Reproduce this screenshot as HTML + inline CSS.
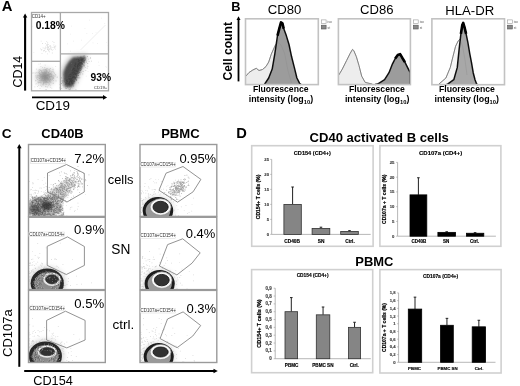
<!DOCTYPE html>
<html><head><meta charset="utf-8"><style>
html,body{margin:0;padding:0;background:#fff;}
svg{display:block;font-family:"Liberation Sans", sans-serif;will-change:transform;}
</style></head><body>
<svg width="520" height="386" viewBox="0 0 520 386">
<defs><filter id="b1" x="-50%" y="-50%" width="200%" height="200%"><feGaussianBlur stdDeviation="1.2"/></filter>
<filter id="b07" x="-50%" y="-50%" width="200%" height="200%"><feGaussianBlur stdDeviation="0.8"/></filter>
<filter id="b05" x="-50%" y="-50%" width="200%" height="200%"><feGaussianBlur stdDeviation="0.5"/></filter>
<filter id="b2" x="-50%" y="-50%" width="200%" height="200%"><feGaussianBlur stdDeviation="2.5"/></filter></defs>
<filter id="gb" x="0" y="0" width="100%" height="100%"><feGaussianBlur stdDeviation="0.4"/></filter>
<rect width="520" height="386" fill="#fff"/>
<g filter="url(#gb)"><rect width="520" height="386" fill="#fff"/>
<text x="1.72" y="10.70" font-size="14.78" font-weight="bold" fill="#000">A</text><clipPath id="ca"><rect x="31.5" y="12.5" width="77.0" height="78.3"/></clipPath><g clip-path="url(#ca)"><ellipse cx="45.5" cy="77" rx="10" ry="9" fill="#c4c4c4" opacity="0.8" filter="url(#b2)"/><ellipse cx="45.5" cy="76.8" rx="4.8" ry="4.4" fill="#7a7a7a" opacity="0.8" filter="url(#b2)"/></g><path fill="#777" fill-opacity="0.3" clip-path="url(#ca)" d="M45.5 76.2h.8v.8h-.8zM47.0 71.5h.8v.8h-.8zM44.1 77.6h.8v.8h-.8zM41.0 71.5h.8v.8h-.8zM43.2 82.3h.8v.8h-.8zM40.5 82.1h.8v.8h-.8zM45.8 82.2h.8v.8h-.8zM52.2 74.7h.8v.8h-.8zM43.0 79.5h.8v.8h-.8zM42.4 76.4h.8v.8h-.8zM47.9 75.1h.8v.8h-.8zM47.3 75.4h.8v.8h-.8zM46.0 70.8h.8v.8h-.8zM40.8 70.1h.8v.8h-.8zM45.4 80.8h.8v.8h-.8zM49.0 76.1h.8v.8h-.8zM38.8 78.0h.8v.8h-.8zM43.2 81.8h.8v.8h-.8zM36.0 68.7h.8v.8h-.8zM39.1 73.2h.8v.8h-.8zM36.3 77.8h.8v.8h-.8zM44.3 78.9h.8v.8h-.8zM39.2 75.2h.8v.8h-.8zM46.9 81.9h.8v.8h-.8zM46.3 78.0h.8v.8h-.8zM44.6 71.2h.8v.8h-.8zM32.9 72.5h.8v.8h-.8zM42.8 80.9h.8v.8h-.8zM45.3 79.2h.8v.8h-.8zM46.1 67.9h.8v.8h-.8zM37.8 83.5h.8v.8h-.8zM43.1 79.9h.8v.8h-.8zM40.6 83.4h.8v.8h-.8zM41.5 75.2h.8v.8h-.8zM50.8 75.6h.8v.8h-.8zM41.5 71.6h.8v.8h-.8zM45.3 89.2h.8v.8h-.8zM49.9 76.2h.8v.8h-.8zM42.6 84.6h.8v.8h-.8zM44.9 73.9h.8v.8h-.8zM46.1 77.8h.8v.8h-.8zM45.8 69.0h.8v.8h-.8zM39.4 75.2h.8v.8h-.8zM45.9 81.7h.8v.8h-.8zM52.3 71.0h.8v.8h-.8zM37.8 82.1h.8v.8h-.8zM49.8 78.6h.8v.8h-.8zM46.1 72.0h.8v.8h-.8zM42.3 74.6h.8v.8h-.8zM55.5 74.8h.8v.8h-.8zM49.3 76.8h.8v.8h-.8zM39.5 74.4h.8v.8h-.8zM45.9 73.0h.8v.8h-.8zM48.4 75.5h.8v.8h-.8zM44.6 72.1h.8v.8h-.8zM48.9 70.8h.8v.8h-.8zM45.2 76.8h.8v.8h-.8zM48.8 81.2h.8v.8h-.8zM52.7 69.7h.8v.8h-.8zM42.1 77.0h.8v.8h-.8zM46.5 73.9h.8v.8h-.8zM43.2 72.3h.8v.8h-.8zM46.1 81.1h.8v.8h-.8zM39.6 74.5h.8v.8h-.8zM42.6 84.2h.8v.8h-.8zM44.5 73.3h.8v.8h-.8zM50.0 78.9h.8v.8h-.8zM51.2 75.9h.8v.8h-.8zM38.9 73.4h.8v.8h-.8zM41.5 79.8h.8v.8h-.8zM48.7 76.3h.8v.8h-.8zM35.5 79.9h.8v.8h-.8zM43.2 76.8h.8v.8h-.8zM45.0 71.8h.8v.8h-.8zM51.8 76.5h.8v.8h-.8zM48.9 77.2h.8v.8h-.8zM43.9 81.6h.8v.8h-.8zM43.7 72.6h.8v.8h-.8zM44.2 76.8h.8v.8h-.8zM53.1 68.7h.8v.8h-.8zM43.4 80.1h.8v.8h-.8zM44.0 71.8h.8v.8h-.8zM47.3 68.3h.8v.8h-.8zM44.9 76.7h.8v.8h-.8zM44.5 82.3h.8v.8h-.8zM39.9 69.7h.8v.8h-.8zM45.4 71.8h.8v.8h-.8zM43.3 73.4h.8v.8h-.8zM51.3 71.6h.8v.8h-.8zM48.8 78.8h.8v.8h-.8zM45.4 73.1h.8v.8h-.8zM48.8 73.5h.8v.8h-.8zM43.8 79.8h.8v.8h-.8zM50.8 73.4h.8v.8h-.8zM45.5 79.1h.8v.8h-.8zM48.4 72.3h.8v.8h-.8zM39.0 71.2h.8v.8h-.8zM47.2 68.2h.8v.8h-.8zM37.1 85.9h.8v.8h-.8zM35.3 75.5h.8v.8h-.8zM44.0 78.2h.8v.8h-.8zM41.0 76.9h.8v.8h-.8zM46.3 77.8h.8v.8h-.8zM56.7 77.2h.8v.8h-.8zM41.3 86.2h.8v.8h-.8zM42.4 72.0h.8v.8h-.8zM46.5 69.5h.8v.8h-.8zM48.0 72.1h.8v.8h-.8zM44.6 70.6h.8v.8h-.8zM44.5 80.6h.8v.8h-.8zM49.0 80.9h.8v.8h-.8zM48.1 72.4h.8v.8h-.8zM40.3 70.3h.8v.8h-.8zM45.1 75.3h.8v.8h-.8zM45.7 83.7h.8v.8h-.8zM40.2 63.5h.8v.8h-.8zM46.8 79.5h.8v.8h-.8zM41.2 71.8h.8v.8h-.8zM50.4 82.0h.8v.8h-.8zM46.5 71.8h.8v.8h-.8zM45.9 75.6h.8v.8h-.8zM42.5 69.8h.8v.8h-.8zM44.9 72.3h.8v.8h-.8zM35.5 83.7h.8v.8h-.8zM39.8 80.9h.8v.8h-.8zM47.3 75.1h.8v.8h-.8zM34.9 72.8h.8v.8h-.8zM49.7 67.9h.8v.8h-.8zM36.8 75.1h.8v.8h-.8zM49.3 76.9h.8v.8h-.8zM41.3 76.6h.8v.8h-.8zM49.4 76.5h.8v.8h-.8zM46.2 71.6h.8v.8h-.8zM37.8 76.7h.8v.8h-.8zM51.7 76.8h.8v.8h-.8zM52.7 83.2h.8v.8h-.8zM45.2 86.0h.8v.8h-.8zM44.1 76.3h.8v.8h-.8zM44.7 73.3h.8v.8h-.8zM40.6 76.7h.8v.8h-.8zM51.0 74.1h.8v.8h-.8zM42.8 73.4h.8v.8h-.8zM45.2 76.7h.8v.8h-.8zM41.5 72.0h.8v.8h-.8zM42.4 79.9h.8v.8h-.8zM39.1 76.5h.8v.8h-.8zM51.8 78.2h.8v.8h-.8zM44.7 76.1h.8v.8h-.8zM50.3 73.5h.8v.8h-.8zM45.6 72.4h.8v.8h-.8zM42.0 75.9h.8v.8h-.8zM43.9 74.4h.8v.8h-.8zM42.7 78.1h.8v.8h-.8zM45.5 77.0h.8v.8h-.8zM43.6 70.5h.8v.8h-.8zM44.0 77.3h.8v.8h-.8zM38.6 70.6h.8v.8h-.8zM41.5 74.0h.8v.8h-.8zM53.8 75.6h.8v.8h-.8zM42.1 67.0h.8v.8h-.8zM40.2 77.4h.8v.8h-.8zM47.2 77.7h.8v.8h-.8zM52.5 76.2h.8v.8h-.8zM38.2 75.0h.8v.8h-.8zM44.5 75.2h.8v.8h-.8zM42.3 72.3h.8v.8h-.8zM36.7 75.7h.8v.8h-.8zM49.2 74.3h.8v.8h-.8zM45.4 77.4h.8v.8h-.8zM45.9 71.2h.8v.8h-.8zM41.7 78.1h.8v.8h-.8zM47.8 77.7h.8v.8h-.8zM42.8 76.3h.8v.8h-.8zM44.8 74.9h.8v.8h-.8zM40.0 79.7h.8v.8h-.8zM39.4 69.0h.8v.8h-.8zM52.2 79.2h.8v.8h-.8zM43.0 78.2h.8v.8h-.8zM47.0 78.4h.8v.8h-.8zM45.3 78.8h.8v.8h-.8zM43.3 73.9h.8v.8h-.8zM43.0 75.8h.8v.8h-.8zM48.7 80.1h.8v.8h-.8zM44.0 79.1h.8v.8h-.8zM44.7 78.0h.8v.8h-.8zM45.6 69.7h.8v.8h-.8zM51.4 79.6h.8v.8h-.8zM48.9 82.6h.8v.8h-.8zM47.4 81.8h.8v.8h-.8zM42.7 78.1h.8v.8h-.8zM38.6 69.5h.8v.8h-.8zM50.2 81.5h.8v.8h-.8zM50.3 76.3h.8v.8h-.8zM44.8 64.8h.8v.8h-.8zM48.2 78.8h.8v.8h-.8zM49.4 69.8h.8v.8h-.8zM49.7 70.8h.8v.8h-.8zM50.1 74.0h.8v.8h-.8zM43.2 83.1h.8v.8h-.8zM53.1 75.2h.8v.8h-.8zM39.3 78.3h.8v.8h-.8zM49.8 85.4h.8v.8h-.8zM48.0 84.7h.8v.8h-.8zM49.9 76.5h.8v.8h-.8zM54.9 75.8h.8v.8h-.8zM52.9 70.9h.8v.8h-.8zM39.8 73.7h.8v.8h-.8zM37.1 79.0h.8v.8h-.8zM49.6 78.9h.8v.8h-.8zM40.4 77.5h.8v.8h-.8zM45.4 81.8h.8v.8h-.8zM49.7 73.3h.8v.8h-.8zM37.3 76.7h.8v.8h-.8zM35.0 80.5h.8v.8h-.8zM46.8 79.8h.8v.8h-.8zM45.7 82.1h.8v.8h-.8zM44.3 78.9h.8v.8h-.8zM45.7 75.5h.8v.8h-.8zM41.2 78.7h.8v.8h-.8zM37.9 72.2h.8v.8h-.8zM44.7 69.1h.8v.8h-.8zM40.6 79.8h.8v.8h-.8zM37.3 76.7h.8v.8h-.8zM48.0 78.5h.8v.8h-.8zM45.2 68.9h.8v.8h-.8zM47.5 75.2h.8v.8h-.8zM40.6 74.1h.8v.8h-.8zM42.2 72.9h.8v.8h-.8zM40.5 66.2h.8v.8h-.8zM41.1 75.4h.8v.8h-.8zM46.5 81.3h.8v.8h-.8zM41.6 78.8h.8v.8h-.8zM47.3 74.1h.8v.8h-.8zM47.2 76.9h.8v.8h-.8zM55.6 80.6h.8v.8h-.8zM38.5 63.7h.8v.8h-.8zM49.9 76.4h.8v.8h-.8zM45.1 79.6h.8v.8h-.8zM45.4 80.3h.8v.8h-.8zM38.3 85.2h.8v.8h-.8zM43.2 82.4h.8v.8h-.8zM49.2 78.5h.8v.8h-.8zM45.1 78.4h.8v.8h-.8zM45.9 80.8h.8v.8h-.8zM44.0 74.4h.8v.8h-.8zM51.3 76.8h.8v.8h-.8zM45.4 81.3h.8v.8h-.8zM34.5 86.4h.8v.8h-.8zM42.0 76.2h.8v.8h-.8zM35.7 76.8h.8v.8h-.8zM29.2 78.0h.8v.8h-.8zM42.8 83.4h.8v.8h-.8zM52.2 76.9h.8v.8h-.8zM45.7 84.1h.8v.8h-.8zM39.6 72.4h.8v.8h-.8zM40.8 76.1h.8v.8h-.8zM51.2 76.0h.8v.8h-.8zM46.3 80.8h.8v.8h-.8zM45.7 82.0h.8v.8h-.8zM45.2 69.8h.8v.8h-.8zM45.7 72.6h.8v.8h-.8zM49.5 78.6h.8v.8h-.8zM48.3 73.8h.8v.8h-.8zM46.6 69.7h.8v.8h-.8zM40.3 82.0h.8v.8h-.8zM48.1 79.4h.8v.8h-.8zM42.1 79.4h.8v.8h-.8zM51.0 74.7h.8v.8h-.8zM39.1 81.9h.8v.8h-.8zM44.8 75.8h.8v.8h-.8zM45.5 82.3h.8v.8h-.8zM38.9 72.6h.8v.8h-.8zM54.1 72.9h.8v.8h-.8zM52.8 78.0h.8v.8h-.8zM43.2 73.6h.8v.8h-.8zM49.4 80.2h.8v.8h-.8zM47.4 78.2h.8v.8h-.8zM32.4 72.6h.8v.8h-.8zM46.8 77.3h.8v.8h-.8zM45.2 75.3h.8v.8h-.8zM45.9 81.4h.8v.8h-.8zM40.1 74.0h.8v.8h-.8zM44.2 74.9h.8v.8h-.8zM44.6 82.8h.8v.8h-.8zM51.4 87.7h.8v.8h-.8zM47.2 86.6h.8v.8h-.8zM45.5 77.3h.8v.8h-.8zM53.1 78.1h.8v.8h-.8zM42.7 84.4h.8v.8h-.8zM43.6 76.4h.8v.8h-.8zM36.4 72.3h.8v.8h-.8zM53.3 77.6h.8v.8h-.8zM50.3 79.2h.8v.8h-.8zM50.1 73.0h.8v.8h-.8zM48.8 69.1h.8v.8h-.8zM46.1 70.1h.8v.8h-.8zM46.6 80.2h.8v.8h-.8zM44.2 73.4h.8v.8h-.8zM44.5 76.3h.8v.8h-.8zM45.8 78.0h.8v.8h-.8zM53.1 80.0h.8v.8h-.8zM48.3 75.4h.8v.8h-.8zM45.2 79.4h.8v.8h-.8zM42.6 72.7h.8v.8h-.8zM42.3 75.3h.8v.8h-.8zM53.5 72.1h.8v.8h-.8zM48.0 82.4h.8v.8h-.8zM45.8 76.9h.8v.8h-.8zM43.8 73.5h.8v.8h-.8zM40.0 75.3h.8v.8h-.8zM45.2 75.9h.8v.8h-.8zM49.9 80.4h.8v.8h-.8zM43.5 69.3h.8v.8h-.8zM44.4 72.0h.8v.8h-.8zM44.4 75.2h.8v.8h-.8zM46.0 89.2h.8v.8h-.8zM37.5 81.6h.8v.8h-.8zM44.3 76.5h.8v.8h-.8zM41.2 80.4h.8v.8h-.8zM49.9 86.9h.8v.8h-.8zM41.6 75.9h.8v.8h-.8zM48.4 75.2h.8v.8h-.8zM53.1 82.8h.8v.8h-.8zM43.9 79.4h.8v.8h-.8zM42.5 80.2h.8v.8h-.8zM46.5 74.6h.8v.8h-.8zM45.5 86.2h.8v.8h-.8zM40.5 85.2h.8v.8h-.8zM47.8 79.7h.8v.8h-.8zM55.6 80.3h.8v.8h-.8zM44.2 67.3h.8v.8h-.8zM44.5 80.1h.8v.8h-.8zM40.3 76.1h.8v.8h-.8zM47.1 79.1h.8v.8h-.8zM39.3 80.3h.8v.8h-.8zM40.0 75.4h.8v.8h-.8zM51.9 68.9h.8v.8h-.8zM41.0 78.8h.8v.8h-.8zM50.9 73.4h.8v.8h-.8zM53.1 75.4h.8v.8h-.8zM46.8 74.1h.8v.8h-.8zM48.3 75.4h.8v.8h-.8zM55.3 65.9h.8v.8h-.8zM44.5 82.8h.8v.8h-.8zM42.5 78.2h.8v.8h-.8zM38.7 82.3h.8v.8h-.8zM45.7 86.5h.8v.8h-.8zM52.9 77.1h.8v.8h-.8zM50.3 68.3h.8v.8h-.8zM40.8 72.7h.8v.8h-.8zM41.2 71.2h.8v.8h-.8zM43.0 74.6h.8v.8h-.8zM47.0 77.4h.8v.8h-.8zM44.5 67.4h.8v.8h-.8zM46.6 78.6h.8v.8h-.8zM47.0 69.8h.8v.8h-.8zM44.0 78.4h.8v.8h-.8zM45.3 76.5h.8v.8h-.8zM46.5 75.5h.8v.8h-.8zM45.1 76.6h.8v.8h-.8zM48.0 74.4h.8v.8h-.8zM54.9 74.1h.8v.8h-.8zM48.5 68.9h.8v.8h-.8zM45.8 76.9h.8v.8h-.8zM37.1 85.9h.8v.8h-.8zM47.4 86.5h.8v.8h-.8zM35.8 83.3h.8v.8h-.8zM38.5 80.4h.8v.8h-.8zM49.8 73.8h.8v.8h-.8zM49.0 83.9h.8v.8h-.8zM44.8 76.7h.8v.8h-.8zM36.9 76.7h.8v.8h-.8zM43.6 75.6h.8v.8h-.8zM42.1 77.4h.8v.8h-.8zM48.7 74.9h.8v.8h-.8zM56.8 76.6h.8v.8h-.8zM46.6 71.8h.8v.8h-.8zM41.6 75.2h.8v.8h-.8zM39.6 87.9h.8v.8h-.8zM45.2 76.7h.8v.8h-.8z"/><g clip-path="url(#ca)"><polygon points="72,55.5 87.5,54.5 85.5,62 81.5,71 78,79 75,85 72.5,89.5 64.5,89.5 61.8,80 61.8,71 64.5,64.5 68,59.5" fill="#9a9a9a" opacity="0.7" filter="url(#b2)"/><polygon points="73,57.6 85.8,56.4 83.6,62.5 80,70 76.8,77 74.3,83 71.8,86.8 66,86.8 63.6,80.5 63.5,72.5 66,66.2 69,61.5" fill="#4e4e4e" filter="url(#b1)"/></g><path fill="#555" fill-opacity="0.35" clip-path="url(#ca)" d="M63.2 81.8h.8v.8h-.8zM70.7 71.7h.8v.8h-.8zM68.5 70.5h.8v.8h-.8zM75.6 60.0h.8v.8h-.8zM61.9 81.6h.8v.8h-.8zM77.6 66.8h.8v.8h-.8zM74.6 72.2h.8v.8h-.8zM74.8 79.2h.8v.8h-.8zM75.7 60.0h.8v.8h-.8zM74.2 67.1h.8v.8h-.8zM70.8 82.1h.8v.8h-.8zM79.2 62.6h.8v.8h-.8zM66.0 85.6h.8v.8h-.8zM73.1 81.2h.8v.8h-.8zM69.6 75.2h.8v.8h-.8zM76.3 62.8h.8v.8h-.8zM61.3 87.9h.8v.8h-.8zM81.4 58.8h.8v.8h-.8zM76.4 66.5h.8v.8h-.8zM61.6 82.8h.8v.8h-.8zM71.1 69.1h.8v.8h-.8zM74.8 70.0h.8v.8h-.8zM76.6 70.3h.8v.8h-.8zM75.0 62.8h.8v.8h-.8zM78.6 64.6h.8v.8h-.8zM83.5 59.9h.8v.8h-.8zM61.6 80.2h.8v.8h-.8zM77.4 63.1h.8v.8h-.8zM73.6 75.7h.8v.8h-.8zM76.0 65.7h.8v.8h-.8zM72.1 60.4h.8v.8h-.8zM80.4 58.3h.8v.8h-.8zM72.5 76.9h.8v.8h-.8zM78.4 76.8h.8v.8h-.8zM72.7 60.9h.8v.8h-.8zM90.0 57.3h.8v.8h-.8zM67.4 75.6h.8v.8h-.8zM84.0 61.1h.8v.8h-.8zM76.4 75.6h.8v.8h-.8zM75.0 79.2h.8v.8h-.8zM78.1 67.6h.8v.8h-.8zM68.9 71.7h.8v.8h-.8zM74.9 73.3h.8v.8h-.8zM69.1 72.6h.8v.8h-.8zM63.3 74.4h.8v.8h-.8zM77.9 82.4h.8v.8h-.8zM69.0 89.7h.8v.8h-.8zM84.1 65.1h.8v.8h-.8zM71.3 66.0h.8v.8h-.8zM81.5 65.8h.8v.8h-.8zM84.1 63.8h.8v.8h-.8zM74.8 77.0h.8v.8h-.8zM69.2 77.7h.8v.8h-.8zM65.6 77.5h.8v.8h-.8zM69.7 78.2h.8v.8h-.8zM69.7 64.4h.8v.8h-.8zM65.4 73.7h.8v.8h-.8zM71.0 78.5h.8v.8h-.8zM72.1 67.1h.8v.8h-.8zM67.9 79.8h.8v.8h-.8zM66.8 80.3h.8v.8h-.8zM83.6 64.9h.8v.8h-.8zM82.3 66.1h.8v.8h-.8zM70.1 74.5h.8v.8h-.8zM80.0 68.0h.8v.8h-.8zM63.2 86.5h.8v.8h-.8zM70.8 73.9h.8v.8h-.8zM78.0 70.3h.8v.8h-.8zM65.1 76.7h.8v.8h-.8zM70.1 78.9h.8v.8h-.8zM70.5 71.1h.8v.8h-.8zM75.4 70.0h.8v.8h-.8zM73.8 78.2h.8v.8h-.8zM74.1 64.1h.8v.8h-.8zM67.6 85.7h.8v.8h-.8zM77.8 62.3h.8v.8h-.8zM64.6 80.9h.8v.8h-.8zM65.1 81.4h.8v.8h-.8zM73.9 79.2h.8v.8h-.8zM89.9 57.9h.8v.8h-.8zM71.8 78.0h.8v.8h-.8zM72.6 69.9h.8v.8h-.8zM83.9 55.2h.8v.8h-.8zM79.5 61.3h.8v.8h-.8zM69.1 87.5h.8v.8h-.8zM74.9 69.1h.8v.8h-.8zM76.1 66.5h.8v.8h-.8zM78.9 67.0h.8v.8h-.8zM68.8 75.3h.8v.8h-.8zM69.3 72.1h.8v.8h-.8zM59.4 87.5h.8v.8h-.8zM64.5 85.3h.8v.8h-.8zM69.2 69.6h.8v.8h-.8zM66.2 88.1h.8v.8h-.8zM65.3 80.6h.8v.8h-.8zM71.2 75.2h.8v.8h-.8zM68.3 84.2h.8v.8h-.8zM60.9 83.1h.8v.8h-.8zM77.4 58.5h.8v.8h-.8zM69.1 74.6h.8v.8h-.8zM71.5 79.2h.8v.8h-.8zM83.0 65.3h.8v.8h-.8zM68.7 89.1h.8v.8h-.8zM68.2 80.9h.8v.8h-.8zM86.1 60.7h.8v.8h-.8zM74.4 61.9h.8v.8h-.8zM81.1 69.2h.8v.8h-.8zM64.6 86.3h.8v.8h-.8zM60.6 77.1h.8v.8h-.8zM75.5 88.9h.8v.8h-.8zM74.7 78.0h.8v.8h-.8zM62.2 84.8h.8v.8h-.8zM68.1 79.7h.8v.8h-.8zM74.9 67.6h.8v.8h-.8zM67.5 84.2h.8v.8h-.8zM62.7 84.5h.8v.8h-.8zM77.5 59.4h.8v.8h-.8zM72.6 76.6h.8v.8h-.8zM71.6 76.0h.8v.8h-.8zM71.2 82.1h.8v.8h-.8zM78.5 61.3h.8v.8h-.8zM84.8 67.2h.8v.8h-.8zM71.7 67.2h.8v.8h-.8zM76.3 68.9h.8v.8h-.8zM60.2 83.2h.8v.8h-.8zM65.2 77.4h.8v.8h-.8zM79.6 67.6h.8v.8h-.8zM77.3 56.6h.8v.8h-.8zM80.5 66.9h.8v.8h-.8zM75.5 65.4h.8v.8h-.8zM70.0 74.6h.8v.8h-.8zM64.5 86.8h.8v.8h-.8zM77.9 60.3h.8v.8h-.8zM64.8 81.8h.8v.8h-.8zM70.3 84.5h.8v.8h-.8zM78.9 70.1h.8v.8h-.8zM76.4 61.4h.8v.8h-.8zM74.8 63.4h.8v.8h-.8zM73.8 75.4h.8v.8h-.8zM68.0 81.7h.8v.8h-.8zM69.8 89.0h.8v.8h-.8zM88.7 61.0h.8v.8h-.8zM84.2 59.7h.8v.8h-.8zM69.3 76.7h.8v.8h-.8zM78.7 65.9h.8v.8h-.8zM68.9 73.3h.8v.8h-.8zM67.2 72.9h.8v.8h-.8zM70.0 71.6h.8v.8h-.8zM64.2 85.5h.8v.8h-.8zM71.0 77.4h.8v.8h-.8zM71.4 79.7h.8v.8h-.8zM75.5 66.0h.8v.8h-.8zM72.8 73.1h.8v.8h-.8zM75.0 64.8h.8v.8h-.8zM85.8 60.8h.8v.8h-.8zM72.4 79.2h.8v.8h-.8zM76.4 79.2h.8v.8h-.8zM83.4 59.1h.8v.8h-.8zM78.9 72.0h.8v.8h-.8zM66.1 83.4h.8v.8h-.8zM68.8 82.9h.8v.8h-.8zM91.1 60.7h.8v.8h-.8zM70.4 67.0h.8v.8h-.8zM70.6 86.8h.8v.8h-.8zM79.8 73.6h.8v.8h-.8zM75.1 71.7h.8v.8h-.8zM75.2 72.3h.8v.8h-.8zM85.3 58.9h.8v.8h-.8zM78.3 60.4h.8v.8h-.8zM69.0 84.0h.8v.8h-.8zM64.7 82.3h.8v.8h-.8zM69.5 76.6h.8v.8h-.8zM76.6 61.5h.8v.8h-.8zM75.0 69.0h.8v.8h-.8zM77.7 62.4h.8v.8h-.8zM76.4 71.4h.8v.8h-.8zM63.6 80.4h.8v.8h-.8zM85.9 62.3h.8v.8h-.8zM70.0 87.9h.8v.8h-.8zM79.4 67.8h.8v.8h-.8zM67.3 74.9h.8v.8h-.8zM72.7 72.9h.8v.8h-.8zM83.1 55.8h.8v.8h-.8zM75.6 73.0h.8v.8h-.8zM60.2 89.4h.8v.8h-.8zM75.1 73.0h.8v.8h-.8zM86.8 67.7h.8v.8h-.8zM59.6 83.9h.8v.8h-.8zM73.2 79.6h.8v.8h-.8zM67.2 86.8h.8v.8h-.8zM73.7 73.5h.8v.8h-.8zM76.7 73.3h.8v.8h-.8zM69.2 75.0h.8v.8h-.8zM70.8 75.9h.8v.8h-.8zM81.4 68.2h.8v.8h-.8zM67.5 83.5h.8v.8h-.8zM78.5 62.0h.8v.8h-.8zM81.3 57.2h.8v.8h-.8zM71.7 70.8h.8v.8h-.8zM78.7 72.0h.8v.8h-.8zM75.9 61.8h.8v.8h-.8zM73.4 80.2h.8v.8h-.8zM73.7 60.9h.8v.8h-.8zM72.6 78.9h.8v.8h-.8zM76.6 67.1h.8v.8h-.8zM61.3 77.8h.8v.8h-.8zM75.1 70.1h.8v.8h-.8zM76.4 63.1h.8v.8h-.8zM64.7 85.5h.8v.8h-.8zM84.1 65.1h.8v.8h-.8zM70.0 72.0h.8v.8h-.8zM67.6 79.0h.8v.8h-.8zM76.4 72.4h.8v.8h-.8zM67.0 86.6h.8v.8h-.8zM75.3 78.2h.8v.8h-.8zM76.7 68.0h.8v.8h-.8zM63.8 81.3h.8v.8h-.8zM76.0 63.5h.8v.8h-.8zM85.4 58.3h.8v.8h-.8zM84.7 57.2h.8v.8h-.8zM79.7 62.1h.8v.8h-.8zM78.6 60.5h.8v.8h-.8zM67.9 83.9h.8v.8h-.8zM78.9 59.4h.8v.8h-.8zM75.9 79.8h.8v.8h-.8zM79.4 60.2h.8v.8h-.8zM75.4 59.8h.8v.8h-.8zM73.7 66.3h.8v.8h-.8zM76.5 70.3h.8v.8h-.8zM71.1 80.4h.8v.8h-.8zM73.3 71.1h.8v.8h-.8zM67.7 75.0h.8v.8h-.8zM67.6 81.9h.8v.8h-.8zM61.4 80.6h.8v.8h-.8zM73.5 63.9h.8v.8h-.8zM83.2 63.9h.8v.8h-.8zM66.0 83.3h.8v.8h-.8zM67.1 85.0h.8v.8h-.8zM74.2 75.4h.8v.8h-.8zM70.1 79.4h.8v.8h-.8zM68.6 77.3h.8v.8h-.8zM82.7 71.1h.8v.8h-.8zM74.7 72.6h.8v.8h-.8zM71.1 74.1h.8v.8h-.8zM71.5 79.0h.8v.8h-.8zM77.6 67.6h.8v.8h-.8zM67.0 80.7h.8v.8h-.8zM72.2 73.5h.8v.8h-.8zM72.3 72.3h.8v.8h-.8zM72.7 59.1h.8v.8h-.8zM68.8 80.9h.8v.8h-.8zM76.0 63.8h.8v.8h-.8zM68.8 75.1h.8v.8h-.8zM73.7 58.2h.8v.8h-.8zM70.5 72.1h.8v.8h-.8zM73.4 72.8h.8v.8h-.8zM79.9 66.6h.8v.8h-.8zM72.1 65.2h.8v.8h-.8zM69.4 85.3h.8v.8h-.8zM63.2 82.7h.8v.8h-.8zM80.5 56.1h.8v.8h-.8zM70.8 84.6h.8v.8h-.8zM67.8 77.1h.8v.8h-.8zM79.0 57.8h.8v.8h-.8zM69.7 89.4h.8v.8h-.8zM66.7 77.7h.8v.8h-.8zM67.8 80.8h.8v.8h-.8zM67.7 84.2h.8v.8h-.8zM76.9 71.6h.8v.8h-.8zM66.8 69.7h.8v.8h-.8zM67.5 78.8h.8v.8h-.8zM63.5 83.3h.8v.8h-.8zM74.5 64.1h.8v.8h-.8zM75.2 64.9h.8v.8h-.8zM71.4 66.2h.8v.8h-.8zM68.8 85.1h.8v.8h-.8zM70.9 75.4h.8v.8h-.8zM76.0 70.3h.8v.8h-.8zM73.8 76.0h.8v.8h-.8zM76.6 59.0h.8v.8h-.8zM72.2 74.8h.8v.8h-.8zM79.7 70.1h.8v.8h-.8zM68.5 81.6h.8v.8h-.8zM72.2 72.2h.8v.8h-.8zM77.5 62.9h.8v.8h-.8zM73.8 65.3h.8v.8h-.8zM70.6 75.0h.8v.8h-.8zM84.5 57.9h.8v.8h-.8zM74.0 66.0h.8v.8h-.8zM71.5 72.7h.8v.8h-.8zM76.2 72.9h.8v.8h-.8zM76.1 68.0h.8v.8h-.8zM69.0 78.7h.8v.8h-.8zM72.0 66.0h.8v.8h-.8zM74.0 64.3h.8v.8h-.8zM71.9 73.9h.8v.8h-.8zM87.3 65.8h.8v.8h-.8zM71.5 73.5h.8v.8h-.8zM71.0 71.5h.8v.8h-.8zM68.0 77.2h.8v.8h-.8zM79.6 62.4h.8v.8h-.8zM72.9 75.3h.8v.8h-.8zM77.3 69.4h.8v.8h-.8zM79.5 77.4h.8v.8h-.8zM81.2 59.9h.8v.8h-.8zM85.9 60.7h.8v.8h-.8zM67.0 86.7h.8v.8h-.8zM83.6 61.3h.8v.8h-.8zM70.0 67.0h.8v.8h-.8zM66.2 86.3h.8v.8h-.8zM73.2 71.3h.8v.8h-.8zM65.4 83.1h.8v.8h-.8zM66.5 70.8h.8v.8h-.8zM71.6 80.4h.8v.8h-.8zM70.0 73.7h.8v.8h-.8zM68.8 74.3h.8v.8h-.8zM74.2 67.3h.8v.8h-.8zM77.8 65.9h.8v.8h-.8zM82.0 63.7h.8v.8h-.8zM66.2 78.1h.8v.8h-.8zM71.3 72.4h.8v.8h-.8zM66.6 84.8h.8v.8h-.8zM72.0 75.4h.8v.8h-.8zM79.5 59.7h.8v.8h-.8zM65.3 80.5h.8v.8h-.8zM76.4 59.7h.8v.8h-.8zM75.7 67.9h.8v.8h-.8zM74.5 77.1h.8v.8h-.8zM74.1 62.1h.8v.8h-.8zM75.6 78.7h.8v.8h-.8zM82.9 60.4h.8v.8h-.8zM65.2 85.7h.8v.8h-.8zM70.2 82.7h.8v.8h-.8zM72.2 64.4h.8v.8h-.8zM66.5 73.7h.8v.8h-.8zM63.2 81.5h.8v.8h-.8zM72.2 70.3h.8v.8h-.8zM69.1 76.9h.8v.8h-.8zM72.4 72.1h.8v.8h-.8zM77.8 66.5h.8v.8h-.8zM71.5 64.6h.8v.8h-.8zM68.2 81.0h.8v.8h-.8zM69.9 68.6h.8v.8h-.8zM78.9 57.6h.8v.8h-.8zM71.4 73.5h.8v.8h-.8zM73.7 63.5h.8v.8h-.8zM62.1 82.3h.8v.8h-.8zM75.9 63.1h.8v.8h-.8zM74.8 70.1h.8v.8h-.8zM81.8 58.8h.8v.8h-.8zM80.1 66.6h.8v.8h-.8zM75.8 63.7h.8v.8h-.8zM63.6 83.2h.8v.8h-.8zM73.6 67.6h.8v.8h-.8zM70.3 79.0h.8v.8h-.8zM62.4 80.8h.8v.8h-.8zM75.2 76.5h.8v.8h-.8zM73.2 67.8h.8v.8h-.8zM72.7 67.7h.8v.8h-.8zM81.6 58.4h.8v.8h-.8zM69.4 86.0h.8v.8h-.8zM69.8 80.9h.8v.8h-.8zM75.1 75.9h.8v.8h-.8zM79.1 62.0h.8v.8h-.8zM78.7 63.3h.8v.8h-.8zM78.2 71.8h.8v.8h-.8zM77.3 60.9h.8v.8h-.8zM81.2 68.1h.8v.8h-.8zM70.7 80.1h.8v.8h-.8zM67.2 84.1h.8v.8h-.8zM69.6 72.3h.8v.8h-.8zM78.5 61.0h.8v.8h-.8zM77.9 69.0h.8v.8h-.8zM61.6 83.4h.8v.8h-.8zM74.9 72.5h.8v.8h-.8zM72.9 73.4h.8v.8h-.8zM75.8 72.1h.8v.8h-.8zM67.0 69.5h.8v.8h-.8zM80.3 61.3h.8v.8h-.8zM73.2 76.0h.8v.8h-.8zM69.3 74.7h.8v.8h-.8zM75.6 68.5h.8v.8h-.8zM71.1 62.1h.8v.8h-.8zM79.2 67.9h.8v.8h-.8zM70.6 73.3h.8v.8h-.8zM81.7 61.8h.8v.8h-.8zM66.6 70.9h.8v.8h-.8zM83.4 62.3h.8v.8h-.8zM69.2 77.5h.8v.8h-.8zM70.4 81.9h.8v.8h-.8zM75.5 65.7h.8v.8h-.8zM68.0 79.9h.8v.8h-.8zM87.1 63.3h.8v.8h-.8zM72.3 68.1h.8v.8h-.8zM71.1 76.5h.8v.8h-.8zM65.9 84.3h.8v.8h-.8zM74.4 65.1h.8v.8h-.8zM70.8 83.8h.8v.8h-.8zM87.2 56.1h.8v.8h-.8zM77.0 58.8h.8v.8h-.8zM64.1 78.3h.8v.8h-.8zM71.8 83.2h.8v.8h-.8zM83.7 60.7h.8v.8h-.8zM76.1 70.2h.8v.8h-.8zM71.7 79.6h.8v.8h-.8zM70.4 71.4h.8v.8h-.8zM68.8 76.2h.8v.8h-.8zM67.0 76.4h.8v.8h-.8zM70.6 70.4h.8v.8h-.8zM83.7 66.0h.8v.8h-.8zM75.9 65.3h.8v.8h-.8zM76.3 80.3h.8v.8h-.8zM73.4 70.9h.8v.8h-.8zM71.1 65.3h.8v.8h-.8zM84.2 57.1h.8v.8h-.8zM73.4 83.2h.8v.8h-.8zM75.4 73.6h.8v.8h-.8zM75.7 61.6h.8v.8h-.8zM73.2 76.0h.8v.8h-.8zM74.6 79.1h.8v.8h-.8zM72.6 71.8h.8v.8h-.8zM67.8 79.9h.8v.8h-.8zM84.0 57.9h.8v.8h-.8zM67.4 82.7h.8v.8h-.8zM64.8 77.4h.8v.8h-.8zM65.5 86.9h.8v.8h-.8zM74.2 68.7h.8v.8h-.8zM71.3 79.3h.8v.8h-.8zM80.3 58.4h.8v.8h-.8zM83.9 61.3h.8v.8h-.8zM83.0 59.3h.8v.8h-.8zM64.0 79.0h.8v.8h-.8zM67.0 85.6h.8v.8h-.8zM74.9 76.2h.8v.8h-.8zM82.5 58.3h.8v.8h-.8zM81.4 66.3h.8v.8h-.8zM64.5 84.8h.8v.8h-.8zM73.3 65.7h.8v.8h-.8zM83.5 60.1h.8v.8h-.8zM77.1 58.0h.8v.8h-.8zM69.2 67.6h.8v.8h-.8zM83.0 61.3h.8v.8h-.8zM76.4 63.0h.8v.8h-.8zM70.1 75.2h.8v.8h-.8zM62.1 80.3h.8v.8h-.8zM72.4 67.4h.8v.8h-.8zM63.5 80.1h.8v.8h-.8zM70.3 76.6h.8v.8h-.8zM82.8 59.0h.8v.8h-.8zM66.2 67.0h.8v.8h-.8zM76.6 69.5h.8v.8h-.8zM76.4 58.4h.8v.8h-.8zM66.2 76.4h.8v.8h-.8zM83.9 55.7h.8v.8h-.8zM79.8 61.9h.8v.8h-.8zM65.8 75.3h.8v.8h-.8zM77.4 77.6h.8v.8h-.8zM64.4 81.6h.8v.8h-.8zM81.0 61.0h.8v.8h-.8zM69.2 79.3h.8v.8h-.8zM70.7 85.7h.8v.8h-.8zM78.1 62.2h.8v.8h-.8zM78.7 69.3h.8v.8h-.8zM73.6 66.3h.8v.8h-.8zM81.3 63.3h.8v.8h-.8zM63.4 85.1h.8v.8h-.8zM65.7 84.1h.8v.8h-.8zM80.3 71.5h.8v.8h-.8zM67.4 83.1h.8v.8h-.8zM74.0 73.0h.8v.8h-.8zM85.4 70.3h.8v.8h-.8zM77.3 67.0h.8v.8h-.8zM72.4 69.4h.8v.8h-.8zM68.9 85.5h.8v.8h-.8zM65.0 74.2h.8v.8h-.8zM83.9 61.1h.8v.8h-.8zM71.8 81.1h.8v.8h-.8zM72.0 73.8h.8v.8h-.8zM64.0 84.1h.8v.8h-.8zM81.2 58.1h.8v.8h-.8zM68.3 80.8h.8v.8h-.8zM68.5 74.9h.8v.8h-.8zM76.3 69.6h.8v.8h-.8zM69.6 65.8h.8v.8h-.8zM78.9 57.0h.8v.8h-.8zM75.8 64.9h.8v.8h-.8zM70.1 77.8h.8v.8h-.8zM67.8 87.8h.8v.8h-.8zM72.4 67.6h.8v.8h-.8zM83.2 59.3h.8v.8h-.8zM65.1 87.9h.8v.8h-.8zM75.6 66.3h.8v.8h-.8zM63.4 84.4h.8v.8h-.8zM68.6 75.3h.8v.8h-.8zM75.2 71.1h.8v.8h-.8zM71.9 69.3h.8v.8h-.8zM81.6 58.7h.8v.8h-.8zM80.3 67.4h.8v.8h-.8zM75.5 75.4h.8v.8h-.8zM82.6 64.4h.8v.8h-.8zM71.9 68.7h.8v.8h-.8zM68.2 73.1h.8v.8h-.8zM75.0 71.7h.8v.8h-.8zM74.5 72.3h.8v.8h-.8zM74.0 78.1h.8v.8h-.8zM69.4 75.9h.8v.8h-.8zM72.2 83.2h.8v.8h-.8zM75.6 75.4h.8v.8h-.8zM72.8 78.0h.8v.8h-.8zM80.7 65.9h.8v.8h-.8zM80.5 66.0h.8v.8h-.8zM71.8 74.0h.8v.8h-.8zM76.2 70.7h.8v.8h-.8zM83.5 61.6h.8v.8h-.8zM69.4 76.8h.8v.8h-.8zM80.6 72.3h.8v.8h-.8zM72.2 72.1h.8v.8h-.8zM79.5 66.6h.8v.8h-.8zM80.5 57.5h.8v.8h-.8zM66.8 80.6h.8v.8h-.8zM88.3 58.8h.8v.8h-.8zM75.0 64.5h.8v.8h-.8zM73.6 61.6h.8v.8h-.8zM73.1 69.4h.8v.8h-.8zM78.3 61.5h.8v.8h-.8zM78.5 77.6h.8v.8h-.8zM77.6 62.4h.8v.8h-.8zM73.1 77.0h.8v.8h-.8zM70.0 70.6h.8v.8h-.8zM77.7 67.0h.8v.8h-.8zM71.1 79.2h.8v.8h-.8zM73.0 86.2h.8v.8h-.8zM75.6 63.7h.8v.8h-.8zM80.6 63.4h.8v.8h-.8zM77.2 67.4h.8v.8h-.8zM67.0 78.4h.8v.8h-.8zM76.0 66.6h.8v.8h-.8zM65.9 85.9h.8v.8h-.8zM67.7 68.4h.8v.8h-.8zM76.9 70.2h.8v.8h-.8zM77.3 68.8h.8v.8h-.8zM71.1 74.5h.8v.8h-.8zM64.3 81.7h.8v.8h-.8zM82.4 67.6h.8v.8h-.8zM73.9 73.8h.8v.8h-.8zM81.1 66.9h.8v.8h-.8zM76.4 76.0h.8v.8h-.8zM65.0 86.0h.8v.8h-.8zM77.1 70.8h.8v.8h-.8zM74.6 64.4h.8v.8h-.8zM80.0 62.9h.8v.8h-.8zM79.4 61.4h.8v.8h-.8zM66.4 82.1h.8v.8h-.8zM81.9 64.0h.8v.8h-.8zM70.1 76.9h.8v.8h-.8zM76.1 70.7h.8v.8h-.8zM70.6 76.4h.8v.8h-.8zM71.9 73.8h.8v.8h-.8zM70.1 73.4h.8v.8h-.8zM72.2 70.3h.8v.8h-.8zM76.4 70.4h.8v.8h-.8zM73.7 66.0h.8v.8h-.8zM75.9 62.5h.8v.8h-.8zM69.4 75.4h.8v.8h-.8zM83.6 66.3h.8v.8h-.8zM75.8 75.5h.8v.8h-.8zM76.8 64.7h.8v.8h-.8zM72.7 74.0h.8v.8h-.8zM82.4 73.6h.8v.8h-.8zM66.9 81.7h.8v.8h-.8zM73.2 74.4h.8v.8h-.8zM70.1 78.7h.8v.8h-.8zM72.8 79.9h.8v.8h-.8zM71.8 84.8h.8v.8h-.8zM75.9 67.2h.8v.8h-.8zM87.4 63.2h.8v.8h-.8zM68.0 77.1h.8v.8h-.8zM69.7 81.9h.8v.8h-.8zM71.8 70.1h.8v.8h-.8zM74.1 81.4h.8v.8h-.8zM78.6 57.5h.8v.8h-.8zM67.2 86.6h.8v.8h-.8zM74.6 75.2h.8v.8h-.8zM77.9 70.9h.8v.8h-.8zM63.4 83.4h.8v.8h-.8zM69.4 74.0h.8v.8h-.8zM64.9 75.6h.8v.8h-.8zM77.4 65.0h.8v.8h-.8zM80.9 57.3h.8v.8h-.8zM70.0 76.0h.8v.8h-.8zM75.7 66.1h.8v.8h-.8zM66.4 81.1h.8v.8h-.8zM72.1 70.7h.8v.8h-.8zM74.3 75.1h.8v.8h-.8zM75.6 75.8h.8v.8h-.8zM71.7 63.4h.8v.8h-.8zM77.0 63.2h.8v.8h-.8zM66.1 84.4h.8v.8h-.8zM72.0 78.7h.8v.8h-.8zM75.2 63.1h.8v.8h-.8z"/><path fill="#222" fill-opacity="0.35" clip-path="url(#ca)" d="M74.7 62.6h.9v.9h-.9zM75.5 66.5h.9v.9h-.9zM79.5 60.0h.9v.9h-.9zM65.9 80.9h.9v.9h-.9zM72.9 75.5h.9v.9h-.9zM78.0 59.5h.9v.9h-.9zM77.8 72.9h.9v.9h-.9zM78.7 60.3h.9v.9h-.9zM70.1 79.6h.9v.9h-.9zM72.4 82.7h.9v.9h-.9zM80.3 61.0h.9v.9h-.9zM69.9 73.8h.9v.9h-.9zM72.6 73.3h.9v.9h-.9zM81.2 58.4h.9v.9h-.9zM68.9 78.6h.9v.9h-.9zM78.4 60.2h.9v.9h-.9zM74.9 73.0h.9v.9h-.9zM71.9 76.4h.9v.9h-.9zM69.7 80.3h.9v.9h-.9zM75.8 70.7h.9v.9h-.9zM75.8 74.4h.9v.9h-.9zM75.5 62.4h.9v.9h-.9zM67.6 82.8h.9v.9h-.9zM67.8 83.4h.9v.9h-.9zM74.2 80.8h.9v.9h-.9zM72.2 70.0h.9v.9h-.9zM77.0 64.9h.9v.9h-.9zM72.0 72.1h.9v.9h-.9zM78.1 68.8h.9v.9h-.9zM79.5 69.3h.9v.9h-.9zM65.2 84.3h.9v.9h-.9zM75.2 76.8h.9v.9h-.9zM82.7 58.4h.9v.9h-.9zM70.4 76.1h.9v.9h-.9zM84.1 59.7h.9v.9h-.9zM73.0 71.3h.9v.9h-.9zM74.3 77.5h.9v.9h-.9zM65.2 83.7h.9v.9h-.9zM71.2 79.0h.9v.9h-.9zM72.9 77.0h.9v.9h-.9zM77.8 73.0h.9v.9h-.9zM77.4 74.9h.9v.9h-.9zM76.0 70.2h.9v.9h-.9zM70.7 75.3h.9v.9h-.9zM68.8 84.2h.9v.9h-.9zM71.1 77.8h.9v.9h-.9zM85.0 59.5h.9v.9h-.9zM71.0 80.5h.9v.9h-.9zM77.0 65.5h.9v.9h-.9zM73.5 72.3h.9v.9h-.9zM79.9 68.2h.9v.9h-.9zM69.4 74.3h.9v.9h-.9zM76.3 76.7h.9v.9h-.9zM76.7 70.8h.9v.9h-.9zM79.3 62.0h.9v.9h-.9zM74.8 73.3h.9v.9h-.9zM69.1 82.0h.9v.9h-.9zM66.2 82.7h.9v.9h-.9zM78.8 62.6h.9v.9h-.9zM68.7 76.2h.9v.9h-.9zM66.7 79.9h.9v.9h-.9zM75.6 70.0h.9v.9h-.9zM82.1 63.6h.9v.9h-.9zM73.5 69.6h.9v.9h-.9zM70.8 81.2h.9v.9h-.9zM78.2 75.0h.9v.9h-.9zM75.1 77.3h.9v.9h-.9zM72.8 82.2h.9v.9h-.9zM82.2 58.5h.9v.9h-.9zM75.3 73.9h.9v.9h-.9zM71.4 81.3h.9v.9h-.9zM80.5 62.0h.9v.9h-.9zM80.5 58.9h.9v.9h-.9zM77.5 63.6h.9v.9h-.9zM69.7 77.7h.9v.9h-.9zM67.4 78.9h.9v.9h-.9zM74.1 70.2h.9v.9h-.9zM78.4 71.6h.9v.9h-.9zM80.0 62.3h.9v.9h-.9zM77.6 59.2h.9v.9h-.9zM82.8 59.9h.9v.9h-.9zM69.0 74.7h.9v.9h-.9zM79.9 70.1h.9v.9h-.9zM71.9 81.7h.9v.9h-.9zM75.7 70.8h.9v.9h-.9zM69.1 82.3h.9v.9h-.9zM73.3 80.9h.9v.9h-.9zM66.0 79.8h.9v.9h-.9zM68.3 77.8h.9v.9h-.9zM72.9 76.6h.9v.9h-.9zM75.6 68.9h.9v.9h-.9zM69.0 81.3h.9v.9h-.9zM70.7 81.1h.9v.9h-.9zM72.8 68.5h.9v.9h-.9zM81.4 66.9h.9v.9h-.9zM79.1 64.9h.9v.9h-.9zM74.0 65.0h.9v.9h-.9zM79.1 67.5h.9v.9h-.9zM75.9 70.5h.9v.9h-.9zM79.6 65.4h.9v.9h-.9zM72.1 83.0h.9v.9h-.9zM76.0 79.7h.9v.9h-.9zM74.5 65.8h.9v.9h-.9zM75.8 79.2h.9v.9h-.9zM75.2 70.5h.9v.9h-.9zM69.4 78.0h.9v.9h-.9zM73.0 74.1h.9v.9h-.9zM77.8 63.2h.9v.9h-.9zM80.5 67.9h.9v.9h-.9zM74.6 72.5h.9v.9h-.9zM68.4 75.8h.9v.9h-.9zM80.6 62.9h.9v.9h-.9zM76.9 68.3h.9v.9h-.9zM77.1 73.4h.9v.9h-.9zM75.3 63.9h.9v.9h-.9zM80.6 66.7h.9v.9h-.9zM84.3 60.4h.9v.9h-.9zM72.5 68.7h.9v.9h-.9zM79.6 62.5h.9v.9h-.9zM72.2 69.6h.9v.9h-.9zM77.8 66.1h.9v.9h-.9zM75.4 63.1h.9v.9h-.9zM73.6 80.8h.9v.9h-.9zM71.8 72.6h.9v.9h-.9zM77.8 69.9h.9v.9h-.9zM71.1 82.1h.9v.9h-.9zM76.9 66.2h.9v.9h-.9zM75.0 65.8h.9v.9h-.9zM84.0 60.4h.9v.9h-.9zM69.3 74.5h.9v.9h-.9zM72.4 71.6h.9v.9h-.9zM78.4 61.6h.9v.9h-.9zM74.7 73.7h.9v.9h-.9zM77.8 64.8h.9v.9h-.9zM70.6 74.1h.9v.9h-.9zM73.7 76.1h.9v.9h-.9zM74.3 76.8h.9v.9h-.9zM73.4 77.2h.9v.9h-.9zM74.1 73.1h.9v.9h-.9zM69.2 79.1h.9v.9h-.9zM74.5 64.3h.9v.9h-.9zM81.0 59.6h.9v.9h-.9zM71.3 83.2h.9v.9h-.9zM69.1 83.4h.9v.9h-.9zM73.2 84.7h.9v.9h-.9zM77.5 60.9h.9v.9h-.9zM72.7 82.4h.9v.9h-.9zM79.1 67.6h.9v.9h-.9zM76.2 77.3h.9v.9h-.9zM75.2 78.3h.9v.9h-.9zM69.6 78.3h.9v.9h-.9zM81.1 69.4h.9v.9h-.9zM68.3 83.5h.9v.9h-.9zM81.0 62.1h.9v.9h-.9zM79.9 69.1h.9v.9h-.9zM72.7 76.7h.9v.9h-.9zM72.2 80.0h.9v.9h-.9zM73.0 67.7h.9v.9h-.9zM77.4 68.6h.9v.9h-.9zM70.5 77.9h.9v.9h-.9zM72.0 78.2h.9v.9h-.9zM73.5 71.5h.9v.9h-.9zM84.2 62.3h.9v.9h-.9zM76.7 71.2h.9v.9h-.9zM81.1 63.4h.9v.9h-.9zM73.7 68.5h.9v.9h-.9zM74.0 69.9h.9v.9h-.9zM78.3 73.3h.9v.9h-.9zM73.7 67.6h.9v.9h-.9zM79.0 72.1h.9v.9h-.9zM77.1 67.1h.9v.9h-.9zM70.2 80.3h.9v.9h-.9zM73.0 76.4h.9v.9h-.9zM79.0 62.5h.9v.9h-.9zM73.5 75.9h.9v.9h-.9zM78.4 63.4h.9v.9h-.9zM82.1 60.5h.9v.9h-.9zM73.9 68.7h.9v.9h-.9zM67.2 81.1h.9v.9h-.9zM77.5 64.0h.9v.9h-.9zM73.3 67.5h.9v.9h-.9zM72.0 77.0h.9v.9h-.9zM79.3 60.4h.9v.9h-.9zM77.4 72.0h.9v.9h-.9zM66.2 83.2h.9v.9h-.9zM68.9 82.5h.9v.9h-.9zM74.3 77.3h.9v.9h-.9zM74.9 70.0h.9v.9h-.9zM81.8 62.9h.9v.9h-.9zM72.2 80.3h.9v.9h-.9zM65.1 82.4h.9v.9h-.9zM75.4 68.4h.9v.9h-.9zM76.3 74.7h.9v.9h-.9zM74.5 74.1h.9v.9h-.9zM80.4 63.7h.9v.9h-.9zM84.4 59.8h.9v.9h-.9zM82.2 59.2h.9v.9h-.9zM78.8 63.6h.9v.9h-.9zM72.2 83.7h.9v.9h-.9zM70.2 78.5h.9v.9h-.9zM71.6 69.4h.9v.9h-.9zM78.4 60.8h.9v.9h-.9zM70.8 81.8h.9v.9h-.9zM79.2 71.6h.9v.9h-.9zM74.7 73.2h.9v.9h-.9zM71.9 72.4h.9v.9h-.9zM76.7 76.7h.9v.9h-.9zM71.4 78.4h.9v.9h-.9zM69.4 79.1h.9v.9h-.9zM70.7 81.0h.9v.9h-.9zM74.2 71.4h.9v.9h-.9zM70.9 72.5h.9v.9h-.9zM79.5 67.7h.9v.9h-.9zM78.4 68.5h.9v.9h-.9zM84.7 59.7h.9v.9h-.9zM69.8 76.3h.9v.9h-.9zM83.3 61.2h.9v.9h-.9zM76.3 73.4h.9v.9h-.9zM74.7 66.0h.9v.9h-.9zM78.5 64.1h.9v.9h-.9zM74.9 74.0h.9v.9h-.9zM72.7 72.8h.9v.9h-.9zM73.0 67.8h.9v.9h-.9zM73.4 82.7h.9v.9h-.9zM72.4 70.3h.9v.9h-.9zM70.1 80.9h.9v.9h-.9zM71.1 79.6h.9v.9h-.9zM80.1 69.8h.9v.9h-.9zM81.2 60.0h.9v.9h-.9zM80.3 57.3h.9v.9h-.9zM76.4 76.9h.9v.9h-.9zM69.4 81.0h.9v.9h-.9zM77.3 71.1h.9v.9h-.9zM71.9 74.5h.9v.9h-.9zM75.9 73.1h.9v.9h-.9zM80.5 65.5h.9v.9h-.9zM80.5 65.6h.9v.9h-.9zM75.6 71.3h.9v.9h-.9zM74.0 68.4h.9v.9h-.9zM77.2 70.5h.9v.9h-.9zM80.8 66.4h.9v.9h-.9zM78.4 59.4h.9v.9h-.9zM76.0 59.2h.9v.9h-.9zM77.9 58.9h.9v.9h-.9zM83.2 61.5h.9v.9h-.9zM65.8 82.6h.9v.9h-.9zM70.4 74.0h.9v.9h-.9zM74.8 64.7h.9v.9h-.9zM76.1 75.6h.9v.9h-.9zM75.2 68.7h.9v.9h-.9z"/><path fill="#aaa" fill-opacity="0.3" clip-path="url(#ca)" d="M98.7 65.0h.7v.7h-.7zM65.2 81.4h.7v.7h-.7zM84.6 28.3h.7v.7h-.7zM45.5 22.2h.7v.7h-.7zM39.1 75.9h.7v.7h-.7zM86.5 33.0h.7v.7h-.7zM101.3 17.7h.7v.7h-.7zM89.0 19.7h.7v.7h-.7zM71.3 63.0h.7v.7h-.7zM80.0 54.5h.7v.7h-.7zM87.7 71.1h.7v.7h-.7zM75.3 75.7h.7v.7h-.7zM59.5 12.7h.7v.7h-.7zM97.0 85.5h.7v.7h-.7zM59.9 81.4h.7v.7h-.7zM101.1 85.6h.7v.7h-.7zM93.1 72.7h.7v.7h-.7zM92.6 42.5h.7v.7h-.7zM95.7 31.9h.7v.7h-.7zM107.5 83.9h.7v.7h-.7zM107.7 45.4h.7v.7h-.7zM70.1 50.7h.7v.7h-.7zM60.6 67.2h.7v.7h-.7zM88.0 66.4h.7v.7h-.7zM106.0 66.8h.7v.7h-.7zM80.0 61.3h.7v.7h-.7zM33.5 52.3h.7v.7h-.7zM34.5 72.6h.7v.7h-.7zM67.2 43.5h.7v.7h-.7zM92.2 33.0h.7v.7h-.7zM99.8 83.7h.7v.7h-.7zM60.4 78.7h.7v.7h-.7zM71.3 68.7h.7v.7h-.7zM71.0 25.7h.7v.7h-.7zM38.8 16.1h.7v.7h-.7zM31.6 84.7h.7v.7h-.7zM71.8 86.3h.7v.7h-.7zM70.3 33.8h.7v.7h-.7zM98.0 61.8h.7v.7h-.7zM45.5 13.9h.7v.7h-.7zM97.1 43.3h.7v.7h-.7zM52.4 67.6h.7v.7h-.7zM73.0 40.8h.7v.7h-.7zM85.9 75.7h.7v.7h-.7zM42.7 84.0h.7v.7h-.7zM104.4 23.2h.7v.7h-.7zM105.3 66.4h.7v.7h-.7zM106.2 41.9h.7v.7h-.7zM31.7 26.2h.7v.7h-.7zM81.0 39.8h.7v.7h-.7z"/><path fill="#999" fill-opacity="0.35" clip-path="url(#ca)" d="M50.6 46.6h.8v.8h-.8zM47.7 47.1h.8v.8h-.8zM49.2 51.4h.8v.8h-.8zM48.8 48.6h.8v.8h-.8zM51.8 47.2h.8v.8h-.8zM41.4 49.1h.8v.8h-.8zM49.6 48.7h.8v.8h-.8zM43.3 50.8h.8v.8h-.8zM52.7 49.0h.8v.8h-.8zM41.6 52.9h.8v.8h-.8zM45.0 51.5h.8v.8h-.8zM42.6 47.4h.8v.8h-.8zM54.2 46.3h.8v.8h-.8zM44.0 50.1h.8v.8h-.8zM48.9 49.0h.8v.8h-.8zM46.6 47.2h.8v.8h-.8zM42.2 43.1h.8v.8h-.8zM47.3 42.0h.8v.8h-.8zM50.8 48.5h.8v.8h-.8zM47.9 49.8h.8v.8h-.8zM51.8 49.9h.8v.8h-.8zM47.2 43.6h.8v.8h-.8zM48.5 50.6h.8v.8h-.8zM47.2 45.9h.8v.8h-.8zM49.7 48.7h.8v.8h-.8zM55.1 48.8h.8v.8h-.8zM49.8 45.1h.8v.8h-.8zM49.2 45.7h.8v.8h-.8zM46.3 41.3h.8v.8h-.8zM45.9 44.7h.8v.8h-.8zM53.6 42.1h.8v.8h-.8zM44.6 48.8h.8v.8h-.8zM45.3 47.7h.8v.8h-.8zM48.2 50.2h.8v.8h-.8zM47.0 48.6h.8v.8h-.8zM55.3 45.6h.8v.8h-.8zM40.2 48.5h.8v.8h-.8zM49.8 46.3h.8v.8h-.8zM51.0 49.3h.8v.8h-.8zM44.6 48.4h.8v.8h-.8zM46.2 44.5h.8v.8h-.8zM50.0 47.5h.8v.8h-.8zM54.2 47.7h.8v.8h-.8zM45.3 46.6h.8v.8h-.8zM43.0 50.2h.8v.8h-.8zM51.9 52.6h.8v.8h-.8zM53.8 46.4h.8v.8h-.8zM47.3 46.4h.8v.8h-.8zM40.8 40.8h.8v.8h-.8zM53.6 47.1h.8v.8h-.8zM47.8 46.2h.8v.8h-.8zM52.4 41.0h.8v.8h-.8zM48.3 48.4h.8v.8h-.8zM47.2 49.3h.8v.8h-.8zM46.9 45.3h.8v.8h-.8zM53.7 46.4h.8v.8h-.8zM53.5 44.6h.8v.8h-.8zM41.0 49.8h.8v.8h-.8zM45.2 42.9h.8v.8h-.8zM54.7 46.6h.8v.8h-.8zM47.2 53.4h.8v.8h-.8zM43.7 47.7h.8v.8h-.8zM48.5 48.9h.8v.8h-.8zM48.1 47.1h.8v.8h-.8zM48.2 44.0h.8v.8h-.8zM46.8 47.4h.8v.8h-.8zM47.4 48.7h.8v.8h-.8zM46.9 44.4h.8v.8h-.8zM49.7 48.5h.8v.8h-.8zM45.7 51.2h.8v.8h-.8z"/><line x1="80.5" y1="50.0" x2="105.5" y2="25.0" stroke="#e8e8e8" stroke-width="0.8"/><rect x="31.5" y="12.5" width="77.0" height="78.3" fill="none" stroke="#a8a8a8" stroke-width="1.3"/><line x1="60.4" y1="12.5" x2="60.4" y2="90.8" stroke="#a8a8a8" stroke-width="1.3"/><line x1="31.5" y1="61.3" x2="60.4" y2="61.3" stroke="#a8a8a8" stroke-width="1.3"/><line x1="60.4" y1="53.8" x2="108.5" y2="53.8" stroke="#a8a8a8" stroke-width="1.3"/><text x="31.7" y="17.9" font-size="4.45" text-anchor="start" fill="#333">CD14+</text><text x="35.69" y="28.80" font-size="10.33" font-weight="bold" fill="#000">0.18%</text><text x="90.55" y="80.80" font-size="10.26" font-weight="bold" fill="#000">93%</text><text x="93.8" y="88.7" font-size="4.3" text-anchor="start" fill="#333">CD19+</text><line x1="25.1" y1="90.6" x2="25.1" y2="16.9" stroke="#000" stroke-width="2.1"/><polygon points="25.1,13.4 22.9,17.4 27.3,17.4" fill="#000" stroke="none" stroke-width="1"/><line x1="32.0" y1="97.4" x2="103.5" y2="97.4" stroke="#000" stroke-width="1.9"/><polygon points="107.1,97.4 103.0,95.1 103.0,99.7" fill="#000" stroke="none" stroke-width="1"/><text transform="translate(21.90 87.52) rotate(-90)" font-size="12.44" fill="#000">CD14</text><text x="35.68" y="110.20" font-size="13.41" fill="#000">CD19</text><text x="231.36" y="10.70" font-size="12.79" font-weight="bold" fill="#000">B</text><text transform="translate(231.60 80.61) rotate(-90)" font-size="12.12" font-weight="bold" fill="#000">Cell count</text><line x1="238.5" y1="81.4" x2="238.5" y2="19.5" stroke="#000" stroke-width="1.8"/><polygon points="238.5,16.2 236.5,20.0 240.5,20.0" fill="#000" stroke="none" stroke-width="1"/><polygon points="245.8,84.6 245.8,76.2 249.0,72.5 252.8,70.0 256.3,68.3 259.0,70.5 262.5,69.5 266.0,66.5 268.7,62.0 271.3,54.1 274.0,48.0 275.7,44.5 278.4,42.7 281.0,45.0 284.6,53.3 288.0,70.9 291.6,83.2 292.0,84.6" fill="#ededed" stroke="none" stroke-width="1"/><polyline points="245.8,76.2 249.0,72.5 252.8,70.0 256.3,68.3 259.0,70.5 262.5,69.5 266.0,66.5 268.7,62.0 271.3,54.1 274.0,48.0 275.7,44.5 278.4,42.7 281.0,45.0 284.6,53.3 288.0,70.9 291.6,83.2" fill="none" stroke="#808080" stroke-width="1.0"/><polygon points="264.3,84.6 268.7,78.0 272.2,69.1 274.9,53.3 277.5,35.6 279.3,28.6 281.0,22.4 282.4,23.3 283.7,28.6 286.3,35.6 289.0,44.5 291.6,56.8 294.3,67.4 296.9,78.0 299.5,83.2 301.0,84.6" fill="#9c9c9c" stroke="none" stroke-width="1"/><polyline points="245.8,76.2 249.0,72.5 252.8,70.0 256.3,68.3 259.0,70.5 262.5,69.5 266.0,66.5 268.7,62.0 271.3,54.1 274.0,48.0 275.7,44.5 278.4,42.7 281.0,45.0 284.6,53.3 288.0,70.9 291.6,83.2" fill="none" stroke="#8a8a8a" stroke-width="0.6" stroke-opacity="0.6"/><polyline points="264.3,84.6 268.7,78.0 272.2,69.1 274.9,53.3 277.5,35.6 279.3,28.6 281.0,22.4 282.4,23.3 283.7,28.6 286.3,35.6 289.0,44.5 291.6,56.8 294.3,67.4 296.9,78.0 299.5,83.2 301.0,84.6" fill="none" stroke="#111" stroke-width="1.5" stroke-linejoin="round"/><polyline points="277.5,35.6 279.3,28.6 281.0,22.4 282.4,23.3 283.7,28.6" fill="none" stroke="#000" stroke-width="2.6" stroke-linejoin="round"/><rect x="245.5" y="18.8" width="72.80000000000001" height="65.8" fill="none" stroke="#c2c2c2" stroke-width="1.6"/><text x="267.64" y="14.40" font-size="13.17" fill="#000">CD80</text><text x="252.93" y="91.90" font-size="8.65" font-weight="bold" fill="#000">Fluorescence</text><text x="248.7" y="101.9" font-size="8.85" font-weight="bold" text-anchor="start" fill="#000">intensity (log<tspan font-size="5.8" dy="1.7">10</tspan><tspan dy="-1.7">)</tspan></text><rect x="321.3" y="19.9" width="4.8" height="3.6" fill="#fff" stroke="#999" stroke-width="0.6"/><rect x="321.3" y="25.2" width="4.8" height="3.8" fill="#888" stroke="#555" stroke-width="0.6"/><text x="327.6" y="23.3" font-size="3.2" text-anchor="start" fill="#555">iso</text><text x="327.6" y="28.9" font-size="3.2" text-anchor="start" fill="#555">st</text><polygon points="338.6,84.6 338.6,75.3 342.3,69.1 346.7,60.3 350.2,53.3 352.5,49.4 353.8,50.6 356.4,56.8 359.0,65.6 361.7,76.2 365.2,82.4 372.3,84.1 374.0,84.6" fill="#ededed" stroke="none" stroke-width="1"/><polyline points="338.6,75.3 342.3,69.1 346.7,60.3 350.2,53.3 352.5,49.4 353.8,50.6 356.4,56.8 359.0,65.6 361.7,76.2 365.2,82.4 372.3,84.1" fill="none" stroke="#808080" stroke-width="1.0"/><polygon points="375.0,84.6 377.6,84.1 384.6,79.7 389.0,72.7 392.5,63.8 395.2,58.6 397.8,55.0 400.1,54.1 402.2,57.7 404.9,62.1 407.5,67.4 410.2,72.7 410.2,84.6" fill="#9c9c9c" stroke="none" stroke-width="1"/><polyline points="338.6,75.3 342.3,69.1 346.7,60.3 350.2,53.3 352.5,49.4 353.8,50.6 356.4,56.8 359.0,65.6 361.7,76.2 365.2,82.4 372.3,84.1" fill="none" stroke="#8a8a8a" stroke-width="0.6" stroke-opacity="0.6"/><polyline points="375.0,84.6 377.6,84.1 384.6,79.7 389.0,72.7 392.5,63.8 395.2,58.6 397.8,55.0 400.1,54.1 402.2,57.7 404.9,62.1 407.5,67.4 410.2,72.7 410.2,84.6" fill="none" stroke="#111" stroke-width="1.5" stroke-linejoin="round"/><polyline points="395.2,58.6 397.8,55.0 400.1,54.1 402.2,57.7 404.9,62.1" fill="none" stroke="#000" stroke-width="2.6" stroke-linejoin="round"/><rect x="338.4" y="18.8" width="72.0" height="65.8" fill="none" stroke="#c2c2c2" stroke-width="1.6"/><text x="360.05" y="14.40" font-size="13.08" fill="#000">CD86</text><text x="348.93" y="91.90" font-size="8.70" font-weight="bold" fill="#000">Fluorescence</text><text x="344.9" y="101.9" font-size="8.85" font-weight="bold" text-anchor="start" fill="#000">intensity (log<tspan font-size="5.8" dy="1.7">10</tspan><tspan dy="-1.7">)</tspan></text><rect x="413.4" y="19.9" width="4.8" height="3.6" fill="#fff" stroke="#999" stroke-width="0.6"/><rect x="413.4" y="25.2" width="4.8" height="3.8" fill="#888" stroke="#555" stroke-width="0.6"/><text x="419.7" y="23.3" font-size="3.2" text-anchor="start" fill="#555">iso</text><text x="419.7" y="28.9" font-size="3.2" text-anchor="start" fill="#555">st</text><polygon points="436.0,84.7 438.8,84.2 445.9,78.0 450.3,67.4 452.9,56.8 455.6,46.2 458.2,40.9 460.0,39.2 462.6,46.2 465.0,60.0 467.0,75.0 469.0,84.7" fill="#f6f6f6" stroke="none" stroke-width="1"/><polyline points="438.8,84.2 445.9,78.0 450.3,67.4 452.9,56.8 455.6,46.2 458.2,40.9 460.0,39.2 462.6,46.2 465.0,60.0 467.0,75.0" fill="none" stroke="#808080" stroke-width="1.0"/><polygon points="446.0,84.7 447.6,84.2 453.8,79.7 457.3,67.4 459.1,49.7 460.9,33.9 462.3,25.0 463.2,22.9 464.4,26.8 466.1,33.9 467.9,42.7 469.7,53.3 471.4,62.1 473.2,72.7 475.0,79.7 476.7,84.2 478.0,84.7" fill="#a8a8a8" stroke="none" stroke-width="1"/><polyline points="438.8,84.2 445.9,78.0 450.3,67.4 452.9,56.8 455.6,46.2 458.2,40.9 460.0,39.2 462.6,46.2 465.0,60.0 467.0,75.0" fill="none" stroke="#8a8a8a" stroke-width="0.6" stroke-opacity="0.6"/><polyline points="446.0,84.7 447.6,84.2 453.8,79.7 457.3,67.4 459.1,49.7 460.9,33.9 462.3,25.0 463.2,22.9 464.4,26.8 466.1,33.9 467.9,42.7 469.7,53.3 471.4,62.1 473.2,72.7 475.0,79.7 476.7,84.2 478.0,84.7" fill="none" stroke="#111" stroke-width="1.5" stroke-linejoin="round"/><polyline points="460.9,33.9 462.3,25.0 463.2,22.9 464.4,26.8 466.1,33.9" fill="none" stroke="#000" stroke-width="2.6" stroke-linejoin="round"/><rect x="431.9" y="18.8" width="72.60000000000002" height="65.9" fill="none" stroke="#c2c2c2" stroke-width="1.6"/><text x="445.32" y="14.80" font-size="13.13" fill="#000">HLA-DR</text><text x="438.93" y="91.90" font-size="8.70" font-weight="bold" fill="#000">Fluorescence</text><text x="434.5" y="101.9" font-size="8.85" font-weight="bold" text-anchor="start" fill="#000">intensity (log<tspan font-size="5.8" dy="1.7">10</tspan><tspan dy="-1.7">)</tspan></text><rect x="507.5" y="19.9" width="4.8" height="3.6" fill="#fff" stroke="#999" stroke-width="0.6"/><rect x="507.5" y="25.2" width="4.8" height="3.8" fill="#888" stroke="#555" stroke-width="0.6"/><text x="513.8" y="23.3" font-size="3.2" text-anchor="start" fill="#555">iso</text><text x="513.8" y="28.9" font-size="3.2" text-anchor="start" fill="#555">st</text><text x="1.63" y="138.20" font-size="13.65" font-weight="bold" fill="#000">C</text><text x="41.36" y="137.70" font-size="12.92" font-weight="bold" fill="#000">CD40B</text><text x="161.14" y="137.50" font-size="13.09" font-weight="bold" fill="#000">PBMC</text><clipPath id="cc1"><rect x="28.5" y="144.5" width="76.8" height="71.9"/></clipPath><path fill="#666" fill-opacity="0.35" clip-path="url(#cc1)" d="M47.8 189.6h.7v.7h-.7zM57.0 206.4h.7v.7h-.7zM46.1 205.2h.7v.7h-.7zM57.5 210.7h.7v.7h-.7zM47.8 210.4h.7v.7h-.7zM39.5 197.1h.7v.7h-.7zM41.2 199.7h.7v.7h-.7zM44.3 207.2h.7v.7h-.7zM49.5 213.7h.7v.7h-.7zM29.9 195.8h.7v.7h-.7zM30.3 189.6h.7v.7h-.7zM43.9 209.3h.7v.7h-.7zM31.1 194.1h.7v.7h-.7zM40.1 211.3h.7v.7h-.7zM32.6 183.6h.7v.7h-.7zM47.2 191.9h.7v.7h-.7zM66.5 214.9h.7v.7h-.7zM33.2 214.3h.7v.7h-.7zM31.5 215.5h.7v.7h-.7zM33.2 206.1h.7v.7h-.7zM36.2 207.9h.7v.7h-.7zM40.9 191.0h.7v.7h-.7zM41.4 199.0h.7v.7h-.7zM29.4 207.9h.7v.7h-.7zM30.7 208.9h.7v.7h-.7zM46.0 188.8h.7v.7h-.7zM39.7 201.7h.7v.7h-.7zM31.4 211.0h.7v.7h-.7zM46.6 186.7h.7v.7h-.7zM51.2 213.8h.7v.7h-.7zM34.4 207.8h.7v.7h-.7zM50.1 215.1h.7v.7h-.7zM31.9 196.5h.7v.7h-.7zM54.8 203.7h.7v.7h-.7zM30.9 196.3h.7v.7h-.7zM34.1 213.0h.7v.7h-.7zM53.6 203.3h.7v.7h-.7zM38.9 200.0h.7v.7h-.7zM54.3 204.7h.7v.7h-.7zM34.4 212.6h.7v.7h-.7zM41.7 207.5h.7v.7h-.7zM41.2 208.2h.7v.7h-.7zM28.7 214.0h.7v.7h-.7zM32.2 182.4h.7v.7h-.7zM30.6 213.1h.7v.7h-.7zM40.6 202.3h.7v.7h-.7zM36.7 209.4h.7v.7h-.7zM37.4 215.7h.7v.7h-.7zM31.3 189.0h.7v.7h-.7zM42.4 216.0h.7v.7h-.7zM33.2 197.3h.7v.7h-.7zM45.4 182.8h.7v.7h-.7zM46.6 197.3h.7v.7h-.7zM66.3 205.4h.7v.7h-.7zM32.4 215.6h.7v.7h-.7zM71.5 206.8h.7v.7h-.7zM34.6 213.8h.7v.7h-.7zM48.9 206.6h.7v.7h-.7zM28.8 203.8h.7v.7h-.7zM51.7 201.5h.7v.7h-.7zM31.4 200.7h.7v.7h-.7zM39.5 187.9h.7v.7h-.7zM30.3 200.2h.7v.7h-.7zM35.2 189.8h.7v.7h-.7zM85.2 194.4h.7v.7h-.7zM29.8 198.3h.7v.7h-.7zM38.2 213.2h.7v.7h-.7zM37.3 212.9h.7v.7h-.7zM35.4 197.9h.7v.7h-.7zM35.9 196.3h.7v.7h-.7zM42.4 208.3h.7v.7h-.7zM31.0 195.1h.7v.7h-.7zM54.3 210.2h.7v.7h-.7zM38.1 216.3h.7v.7h-.7zM34.1 209.3h.7v.7h-.7zM33.6 193.6h.7v.7h-.7zM55.2 203.8h.7v.7h-.7zM38.8 214.7h.7v.7h-.7zM41.6 206.6h.7v.7h-.7zM29.2 210.4h.7v.7h-.7zM54.7 214.4h.7v.7h-.7zM29.4 200.9h.7v.7h-.7zM30.7 193.8h.7v.7h-.7zM48.7 204.1h.7v.7h-.7zM39.7 196.1h.7v.7h-.7zM43.9 209.9h.7v.7h-.7zM44.8 211.5h.7v.7h-.7zM74.0 211.3h.7v.7h-.7zM34.7 211.6h.7v.7h-.7zM58.4 208.3h.7v.7h-.7zM36.3 190.0h.7v.7h-.7zM43.7 213.2h.7v.7h-.7zM39.9 200.9h.7v.7h-.7zM31.0 208.6h.7v.7h-.7zM43.7 187.0h.7v.7h-.7zM63.4 215.1h.7v.7h-.7zM44.9 196.7h.7v.7h-.7zM48.8 209.4h.7v.7h-.7zM52.4 208.5h.7v.7h-.7zM48.3 205.4h.7v.7h-.7zM47.9 214.1h.7v.7h-.7zM32.0 187.0h.7v.7h-.7zM33.1 197.9h.7v.7h-.7zM34.5 190.2h.7v.7h-.7zM51.1 200.3h.7v.7h-.7zM42.4 212.7h.7v.7h-.7zM28.8 203.0h.7v.7h-.7zM37.1 206.3h.7v.7h-.7zM40.6 211.9h.7v.7h-.7zM37.7 190.0h.7v.7h-.7zM41.2 210.6h.7v.7h-.7zM45.7 200.0h.7v.7h-.7zM48.8 175.3h.7v.7h-.7zM44.9 213.0h.7v.7h-.7zM37.8 213.4h.7v.7h-.7zM39.9 198.1h.7v.7h-.7zM77.2 208.7h.7v.7h-.7zM43.5 195.7h.7v.7h-.7zM33.4 200.7h.7v.7h-.7zM30.2 212.2h.7v.7h-.7zM33.6 207.4h.7v.7h-.7zM53.5 205.4h.7v.7h-.7zM38.2 208.4h.7v.7h-.7zM40.4 195.8h.7v.7h-.7zM54.0 200.9h.7v.7h-.7zM39.7 187.6h.7v.7h-.7zM44.8 209.9h.7v.7h-.7zM54.6 198.1h.7v.7h-.7zM44.4 209.4h.7v.7h-.7zM65.8 201.8h.7v.7h-.7zM29.4 203.3h.7v.7h-.7zM44.4 202.3h.7v.7h-.7zM46.2 205.5h.7v.7h-.7zM59.0 192.5h.7v.7h-.7zM54.3 195.2h.7v.7h-.7zM56.6 208.9h.7v.7h-.7zM33.6 213.0h.7v.7h-.7zM55.3 203.1h.7v.7h-.7zM35.3 213.2h.7v.7h-.7zM56.9 198.0h.7v.7h-.7zM37.5 193.3h.7v.7h-.7zM45.2 201.7h.7v.7h-.7zM66.2 195.2h.7v.7h-.7zM59.5 202.6h.7v.7h-.7zM41.0 187.8h.7v.7h-.7zM32.8 182.7h.7v.7h-.7zM37.9 215.5h.7v.7h-.7zM33.8 212.5h.7v.7h-.7zM43.5 205.6h.7v.7h-.7zM33.4 199.3h.7v.7h-.7zM74.3 182.7h.7v.7h-.7zM31.7 216.0h.7v.7h-.7zM29.0 181.1h.7v.7h-.7zM74.7 210.3h.7v.7h-.7zM42.2 216.1h.7v.7h-.7zM37.1 205.6h.7v.7h-.7zM38.7 203.4h.7v.7h-.7zM50.6 216.0h.7v.7h-.7zM39.3 201.0h.7v.7h-.7zM62.1 213.3h.7v.7h-.7zM54.4 210.5h.7v.7h-.7zM39.2 210.8h.7v.7h-.7zM49.7 211.4h.7v.7h-.7zM29.6 215.5h.7v.7h-.7zM45.6 193.1h.7v.7h-.7zM37.4 204.8h.7v.7h-.7zM35.4 212.5h.7v.7h-.7zM43.9 177.3h.7v.7h-.7zM40.0 204.9h.7v.7h-.7zM30.2 204.3h.7v.7h-.7zM45.1 201.7h.7v.7h-.7zM43.4 184.4h.7v.7h-.7zM48.7 198.1h.7v.7h-.7zM49.1 201.6h.7v.7h-.7zM45.2 199.4h.7v.7h-.7zM47.9 209.0h.7v.7h-.7zM32.9 212.9h.7v.7h-.7zM44.4 196.8h.7v.7h-.7zM59.9 216.1h.7v.7h-.7zM40.9 214.8h.7v.7h-.7zM42.5 207.6h.7v.7h-.7zM45.0 190.3h.7v.7h-.7zM41.0 199.3h.7v.7h-.7zM40.1 214.9h.7v.7h-.7zM56.1 194.1h.7v.7h-.7zM53.6 203.8h.7v.7h-.7zM70.2 207.1h.7v.7h-.7zM34.1 204.9h.7v.7h-.7zM32.2 202.1h.7v.7h-.7zM46.6 210.6h.7v.7h-.7zM28.8 211.7h.7v.7h-.7zM29.6 205.9h.7v.7h-.7zM47.4 208.4h.7v.7h-.7zM46.3 202.7h.7v.7h-.7zM47.8 211.2h.7v.7h-.7zM37.7 179.0h.7v.7h-.7zM54.0 197.1h.7v.7h-.7zM48.2 208.8h.7v.7h-.7zM47.0 199.3h.7v.7h-.7zM43.7 213.9h.7v.7h-.7zM57.1 203.4h.7v.7h-.7zM36.4 195.2h.7v.7h-.7zM49.7 207.8h.7v.7h-.7zM43.0 200.1h.7v.7h-.7zM29.7 194.0h.7v.7h-.7zM37.1 215.5h.7v.7h-.7zM70.1 199.7h.7v.7h-.7zM34.0 199.9h.7v.7h-.7zM36.3 213.7h.7v.7h-.7zM48.4 205.6h.7v.7h-.7zM38.8 213.6h.7v.7h-.7zM42.8 204.4h.7v.7h-.7zM46.6 199.3h.7v.7h-.7zM28.6 200.6h.7v.7h-.7zM40.8 196.1h.7v.7h-.7zM69.8 208.8h.7v.7h-.7zM56.5 200.0h.7v.7h-.7zM41.8 213.7h.7v.7h-.7zM46.3 193.0h.7v.7h-.7zM64.1 216.3h.7v.7h-.7zM59.7 211.8h.7v.7h-.7zM38.6 213.2h.7v.7h-.7zM37.2 207.8h.7v.7h-.7zM35.4 211.4h.7v.7h-.7zM49.0 216.3h.7v.7h-.7zM35.2 193.3h.7v.7h-.7zM47.7 215.7h.7v.7h-.7zM77.6 202.8h.7v.7h-.7zM32.2 209.2h.7v.7h-.7zM45.2 214.9h.7v.7h-.7zM34.1 213.3h.7v.7h-.7zM32.7 190.1h.7v.7h-.7zM53.4 191.4h.7v.7h-.7zM59.5 211.6h.7v.7h-.7zM48.0 208.8h.7v.7h-.7zM43.8 210.6h.7v.7h-.7zM49.8 202.1h.7v.7h-.7zM35.8 195.6h.7v.7h-.7zM38.3 208.5h.7v.7h-.7zM36.0 216.1h.7v.7h-.7zM48.7 199.9h.7v.7h-.7zM36.3 201.3h.7v.7h-.7zM32.6 208.9h.7v.7h-.7zM35.1 212.1h.7v.7h-.7zM37.6 212.9h.7v.7h-.7zM51.7 216.3h.7v.7h-.7zM31.9 214.0h.7v.7h-.7zM77.8 206.3h.7v.7h-.7zM40.0 213.1h.7v.7h-.7zM29.5 211.6h.7v.7h-.7zM45.9 211.5h.7v.7h-.7zM33.9 207.7h.7v.7h-.7zM33.0 199.9h.7v.7h-.7zM40.4 208.5h.7v.7h-.7zM40.5 209.7h.7v.7h-.7zM36.6 212.9h.7v.7h-.7zM39.4 209.7h.7v.7h-.7zM41.9 179.9h.7v.7h-.7zM38.5 204.3h.7v.7h-.7zM38.1 212.9h.7v.7h-.7z"/><g clip-path="url(#cc1)" filter="url(#b1)"><ellipse cx="44" cy="207" rx="18" ry="10" fill="#999" opacity="0.75"/><ellipse cx="57" cy="195" rx="13" ry="8" fill="#bbb" opacity="0.6" transform="rotate(-38 57 195)"/><ellipse cx="65" cy="187" rx="10" ry="6" fill="#d0d0d0" opacity="0.5" transform="rotate(-38 65 187)"/><ellipse cx="47" cy="206" rx="5.5" ry="4.2" fill="#333" opacity="0.8"/><ellipse cx="35" cy="210" rx="6" ry="5" fill="#666" opacity="0.6"/></g><path fill="#333" fill-opacity="0.45" clip-path="url(#cc1)" d="M30.0 212.9h.7v.7h-.7zM42.1 212.2h.7v.7h-.7zM46.1 199.1h.7v.7h-.7zM25.5 206.2h.7v.7h-.7zM51.1 192.7h.7v.7h-.7zM60.9 194.5h.7v.7h-.7zM48.0 190.8h.7v.7h-.7zM42.0 201.3h.7v.7h-.7zM44.6 202.9h.7v.7h-.7zM41.7 199.7h.7v.7h-.7zM59.1 172.6h.7v.7h-.7zM20.5 211.3h.7v.7h-.7zM34.1 206.9h.7v.7h-.7zM58.0 194.7h.7v.7h-.7zM35.2 200.0h.7v.7h-.7zM59.4 184.0h.7v.7h-.7zM50.5 194.8h.7v.7h-.7zM46.8 206.9h.7v.7h-.7zM31.9 211.4h.7v.7h-.7zM37.5 208.1h.7v.7h-.7zM55.7 198.7h.7v.7h-.7zM46.0 204.8h.7v.7h-.7zM33.8 215.4h.7v.7h-.7zM55.7 201.6h.7v.7h-.7zM39.9 208.0h.7v.7h-.7zM66.2 189.8h.7v.7h-.7zM53.9 189.0h.7v.7h-.7zM62.1 194.1h.7v.7h-.7zM69.5 183.2h.7v.7h-.7zM64.7 182.0h.7v.7h-.7zM46.3 205.2h.7v.7h-.7zM54.9 194.7h.7v.7h-.7zM43.3 205.3h.7v.7h-.7zM28.0 209.5h.7v.7h-.7zM39.9 213.4h.7v.7h-.7zM31.0 209.7h.7v.7h-.7zM33.4 208.7h.7v.7h-.7zM32.7 202.4h.7v.7h-.7zM64.5 192.9h.7v.7h-.7zM42.9 212.6h.7v.7h-.7zM29.0 215.4h.7v.7h-.7zM38.8 204.5h.7v.7h-.7zM36.7 206.9h.7v.7h-.7zM56.3 187.7h.7v.7h-.7zM46.4 208.2h.7v.7h-.7zM43.6 191.8h.7v.7h-.7zM25.8 204.6h.7v.7h-.7zM46.5 204.2h.7v.7h-.7zM69.7 179.5h.7v.7h-.7zM40.9 213.8h.7v.7h-.7zM54.3 192.6h.7v.7h-.7zM57.3 203.7h.7v.7h-.7zM31.5 206.8h.7v.7h-.7zM29.6 213.0h.7v.7h-.7zM58.4 180.2h.7v.7h-.7zM43.0 205.4h.7v.7h-.7zM63.3 191.2h.7v.7h-.7zM43.3 200.9h.7v.7h-.7zM74.3 186.8h.7v.7h-.7zM36.6 215.5h.7v.7h-.7zM56.3 197.8h.7v.7h-.7zM53.0 201.4h.7v.7h-.7zM59.2 187.3h.7v.7h-.7zM29.2 212.0h.7v.7h-.7zM34.1 213.6h.7v.7h-.7zM38.0 191.5h.7v.7h-.7zM54.8 193.3h.7v.7h-.7zM39.7 202.9h.7v.7h-.7zM61.7 196.6h.7v.7h-.7zM58.8 190.6h.7v.7h-.7zM60.1 205.6h.7v.7h-.7zM31.3 210.0h.7v.7h-.7zM51.4 209.3h.7v.7h-.7zM42.1 211.9h.7v.7h-.7zM40.3 201.8h.7v.7h-.7zM46.3 206.5h.7v.7h-.7zM77.9 186.2h.7v.7h-.7zM22.3 213.0h.7v.7h-.7zM79.0 180.0h.7v.7h-.7zM33.5 214.2h.7v.7h-.7zM31.3 205.3h.7v.7h-.7zM34.5 205.6h.7v.7h-.7zM49.2 208.2h.7v.7h-.7zM77.5 186.0h.7v.7h-.7zM78.0 180.8h.7v.7h-.7zM67.7 178.5h.7v.7h-.7zM40.1 203.1h.7v.7h-.7zM37.6 211.6h.7v.7h-.7zM48.6 197.4h.7v.7h-.7zM67.8 182.1h.7v.7h-.7zM24.2 211.8h.7v.7h-.7zM77.3 179.3h.7v.7h-.7zM38.3 208.0h.7v.7h-.7zM63.8 191.1h.7v.7h-.7zM49.6 193.2h.7v.7h-.7zM70.0 182.3h.7v.7h-.7zM68.0 180.1h.7v.7h-.7zM36.3 208.6h.7v.7h-.7zM44.8 202.4h.7v.7h-.7zM44.7 205.2h.7v.7h-.7zM43.2 198.3h.7v.7h-.7zM28.5 208.9h.7v.7h-.7zM49.6 204.8h.7v.7h-.7zM43.7 214.4h.7v.7h-.7zM35.6 203.5h.7v.7h-.7zM45.3 200.5h.7v.7h-.7zM59.0 180.9h.7v.7h-.7zM36.2 215.8h.7v.7h-.7zM67.3 177.7h.7v.7h-.7zM54.2 189.7h.7v.7h-.7zM28.4 214.4h.7v.7h-.7zM66.1 173.4h.7v.7h-.7zM49.2 200.3h.7v.7h-.7zM48.1 196.2h.7v.7h-.7zM43.7 199.4h.7v.7h-.7zM63.9 180.5h.7v.7h-.7zM39.5 214.2h.7v.7h-.7zM28.9 212.3h.7v.7h-.7zM36.9 204.4h.7v.7h-.7zM28.9 213.8h.7v.7h-.7zM66.1 182.8h.7v.7h-.7zM52.9 200.5h.7v.7h-.7zM50.5 196.1h.7v.7h-.7zM73.9 184.9h.7v.7h-.7zM52.3 197.2h.7v.7h-.7zM29.8 206.5h.7v.7h-.7zM43.9 199.3h.7v.7h-.7zM46.7 199.9h.7v.7h-.7zM36.8 203.1h.7v.7h-.7zM39.3 215.5h.7v.7h-.7zM31.7 202.7h.7v.7h-.7zM65.5 192.8h.7v.7h-.7zM39.7 210.7h.7v.7h-.7zM77.3 181.6h.7v.7h-.7zM30.1 199.1h.7v.7h-.7zM39.1 215.7h.7v.7h-.7zM31.5 209.8h.7v.7h-.7zM46.9 198.3h.7v.7h-.7zM42.5 204.7h.7v.7h-.7zM62.4 201.4h.7v.7h-.7zM69.1 183.9h.7v.7h-.7zM46.1 202.7h.7v.7h-.7zM53.3 184.1h.7v.7h-.7zM34.8 211.7h.7v.7h-.7zM47.1 197.1h.7v.7h-.7zM26.3 209.9h.7v.7h-.7zM75.3 180.7h.7v.7h-.7zM36.3 213.1h.7v.7h-.7zM60.0 189.9h.7v.7h-.7zM27.7 217.6h.7v.7h-.7zM56.8 188.5h.7v.7h-.7zM38.4 205.0h.7v.7h-.7zM45.9 205.5h.7v.7h-.7zM55.8 195.0h.7v.7h-.7zM47.6 202.5h.7v.7h-.7zM50.2 201.2h.7v.7h-.7zM62.3 187.5h.7v.7h-.7zM40.6 207.3h.7v.7h-.7zM51.7 201.7h.7v.7h-.7zM42.9 210.6h.7v.7h-.7zM44.8 208.3h.7v.7h-.7zM43.1 197.5h.7v.7h-.7zM52.5 198.4h.7v.7h-.7zM62.5 192.5h.7v.7h-.7zM69.0 178.1h.7v.7h-.7zM61.2 190.7h.7v.7h-.7zM25.0 199.0h.7v.7h-.7zM44.9 200.4h.7v.7h-.7zM67.8 192.0h.7v.7h-.7zM58.0 180.3h.7v.7h-.7zM55.5 195.5h.7v.7h-.7zM50.5 207.5h.7v.7h-.7zM37.9 216.0h.7v.7h-.7zM78.7 177.4h.7v.7h-.7zM29.7 212.2h.7v.7h-.7zM44.6 203.9h.7v.7h-.7zM75.5 182.1h.7v.7h-.7zM29.6 206.4h.7v.7h-.7zM72.5 180.8h.7v.7h-.7zM47.9 214.1h.7v.7h-.7zM40.9 213.6h.7v.7h-.7zM52.4 197.3h.7v.7h-.7zM50.7 183.9h.7v.7h-.7zM43.5 201.3h.7v.7h-.7zM70.2 186.9h.7v.7h-.7zM42.3 211.1h.7v.7h-.7zM66.0 181.4h.7v.7h-.7zM51.2 210.9h.7v.7h-.7zM38.3 205.2h.7v.7h-.7zM29.1 207.6h.7v.7h-.7zM63.1 191.0h.7v.7h-.7zM45.6 203.0h.7v.7h-.7zM55.2 187.2h.7v.7h-.7zM37.4 203.8h.7v.7h-.7zM65.7 194.6h.7v.7h-.7zM79.3 178.0h.7v.7h-.7zM26.9 213.6h.7v.7h-.7zM40.1 203.7h.7v.7h-.7zM72.4 181.5h.7v.7h-.7zM66.1 185.9h.7v.7h-.7zM76.3 180.9h.7v.7h-.7zM41.7 203.8h.7v.7h-.7zM46.5 197.0h.7v.7h-.7zM35.4 215.1h.7v.7h-.7zM56.4 197.8h.7v.7h-.7zM61.2 200.9h.7v.7h-.7zM38.2 210.4h.7v.7h-.7zM50.1 198.8h.7v.7h-.7zM39.0 204.3h.7v.7h-.7zM25.7 211.2h.7v.7h-.7zM36.4 214.2h.7v.7h-.7zM65.6 190.2h.7v.7h-.7zM35.3 206.8h.7v.7h-.7zM77.4 171.4h.7v.7h-.7zM73.4 185.9h.7v.7h-.7zM74.8 177.4h.7v.7h-.7zM67.1 188.9h.7v.7h-.7zM37.1 213.6h.7v.7h-.7zM34.0 217.2h.7v.7h-.7zM45.3 200.8h.7v.7h-.7zM26.3 214.0h.7v.7h-.7zM28.9 208.3h.7v.7h-.7zM80.8 183.7h.7v.7h-.7zM82.1 186.6h.7v.7h-.7zM64.8 182.3h.7v.7h-.7zM37.8 209.3h.7v.7h-.7zM61.7 182.8h.7v.7h-.7zM68.6 184.4h.7v.7h-.7zM45.3 205.8h.7v.7h-.7zM26.4 206.2h.7v.7h-.7zM37.9 206.5h.7v.7h-.7zM47.2 205.6h.7v.7h-.7zM69.8 188.4h.7v.7h-.7zM27.3 209.1h.7v.7h-.7zM48.4 196.1h.7v.7h-.7zM34.0 214.3h.7v.7h-.7zM79.5 186.5h.7v.7h-.7zM36.0 211.6h.7v.7h-.7zM50.5 188.9h.7v.7h-.7zM48.3 203.2h.7v.7h-.7zM62.8 194.5h.7v.7h-.7zM63.2 181.4h.7v.7h-.7zM79.1 192.0h.7v.7h-.7zM62.7 184.8h.7v.7h-.7zM41.5 208.2h.7v.7h-.7zM45.7 202.8h.7v.7h-.7zM22.0 206.9h.7v.7h-.7zM43.9 204.3h.7v.7h-.7zM34.0 211.9h.7v.7h-.7zM64.3 186.2h.7v.7h-.7zM27.1 210.7h.7v.7h-.7zM38.2 210.5h.7v.7h-.7zM58.7 187.9h.7v.7h-.7zM58.2 194.2h.7v.7h-.7zM74.2 176.9h.7v.7h-.7zM36.7 199.5h.7v.7h-.7zM41.6 211.9h.7v.7h-.7zM58.6 192.2h.7v.7h-.7zM35.4 204.5h.7v.7h-.7zM62.0 188.0h.7v.7h-.7zM32.6 210.7h.7v.7h-.7zM37.2 213.7h.7v.7h-.7zM58.3 196.7h.7v.7h-.7zM56.9 188.5h.7v.7h-.7zM49.8 196.1h.7v.7h-.7zM50.6 202.2h.7v.7h-.7zM58.2 200.2h.7v.7h-.7zM38.5 214.4h.7v.7h-.7zM30.4 215.2h.7v.7h-.7zM30.7 203.4h.7v.7h-.7zM62.9 196.2h.7v.7h-.7zM43.4 211.6h.7v.7h-.7zM37.4 204.7h.7v.7h-.7zM48.1 201.3h.7v.7h-.7zM41.7 195.1h.7v.7h-.7zM33.4 205.7h.7v.7h-.7zM71.7 177.2h.7v.7h-.7zM73.4 174.3h.7v.7h-.7zM29.5 214.3h.7v.7h-.7zM39.8 197.2h.7v.7h-.7zM36.1 206.6h.7v.7h-.7zM44.6 204.2h.7v.7h-.7zM30.0 209.0h.7v.7h-.7zM33.7 217.3h.7v.7h-.7zM21.4 210.0h.7v.7h-.7zM33.4 211.5h.7v.7h-.7zM55.9 188.0h.7v.7h-.7zM26.8 209.5h.7v.7h-.7zM61.3 180.9h.7v.7h-.7zM67.8 185.1h.7v.7h-.7zM34.5 204.8h.7v.7h-.7zM61.6 192.2h.7v.7h-.7zM72.9 185.3h.7v.7h-.7zM37.8 210.3h.7v.7h-.7zM49.9 196.6h.7v.7h-.7zM38.8 199.2h.7v.7h-.7zM40.0 216.5h.7v.7h-.7zM37.8 213.4h.7v.7h-.7zM37.3 213.6h.7v.7h-.7zM54.0 196.4h.7v.7h-.7zM34.4 206.2h.7v.7h-.7zM49.9 201.7h.7v.7h-.7zM80.0 180.9h.7v.7h-.7zM46.1 205.4h.7v.7h-.7zM46.4 202.3h.7v.7h-.7zM76.4 176.6h.7v.7h-.7zM57.2 198.3h.7v.7h-.7zM57.2 198.0h.7v.7h-.7zM39.5 199.8h.7v.7h-.7zM56.5 194.2h.7v.7h-.7zM44.0 209.1h.7v.7h-.7zM64.2 195.2h.7v.7h-.7zM44.1 204.2h.7v.7h-.7zM32.3 205.4h.7v.7h-.7zM68.3 186.1h.7v.7h-.7zM58.8 187.0h.7v.7h-.7zM77.0 173.3h.7v.7h-.7zM34.1 204.9h.7v.7h-.7zM28.5 216.7h.7v.7h-.7zM36.4 208.0h.7v.7h-.7zM31.4 201.0h.7v.7h-.7zM42.4 207.5h.7v.7h-.7zM36.9 210.4h.7v.7h-.7zM45.1 214.2h.7v.7h-.7zM49.0 201.3h.7v.7h-.7zM71.1 177.1h.7v.7h-.7zM43.2 200.2h.7v.7h-.7zM60.2 187.1h.7v.7h-.7zM28.7 213.3h.7v.7h-.7zM36.5 213.8h.7v.7h-.7zM63.9 172.6h.7v.7h-.7zM33.4 208.5h.7v.7h-.7zM33.3 211.1h.7v.7h-.7zM53.2 202.3h.7v.7h-.7zM37.8 208.6h.7v.7h-.7zM37.0 207.5h.7v.7h-.7zM50.3 191.0h.7v.7h-.7zM51.8 198.8h.7v.7h-.7zM26.5 213.2h.7v.7h-.7zM51.4 209.2h.7v.7h-.7zM55.1 200.5h.7v.7h-.7zM69.2 190.9h.7v.7h-.7zM35.3 206.6h.7v.7h-.7zM32.3 206.0h.7v.7h-.7zM59.9 194.2h.7v.7h-.7zM28.6 210.1h.7v.7h-.7zM72.7 180.7h.7v.7h-.7zM76.9 175.7h.7v.7h-.7zM35.9 205.3h.7v.7h-.7zM69.5 185.9h.7v.7h-.7zM38.3 210.5h.7v.7h-.7zM75.9 178.7h.7v.7h-.7zM39.5 208.8h.7v.7h-.7zM32.4 218.3h.7v.7h-.7zM31.2 212.9h.7v.7h-.7zM49.4 201.7h.7v.7h-.7zM30.6 211.9h.7v.7h-.7zM77.5 177.6h.7v.7h-.7zM51.9 196.6h.7v.7h-.7zM44.0 193.5h.7v.7h-.7zM51.6 199.1h.7v.7h-.7zM42.2 209.0h.7v.7h-.7zM70.9 187.0h.7v.7h-.7zM66.7 188.6h.7v.7h-.7zM36.2 195.6h.7v.7h-.7zM40.2 205.0h.7v.7h-.7zM22.9 210.9h.7v.7h-.7zM34.9 209.3h.7v.7h-.7zM39.4 204.0h.7v.7h-.7zM21.2 210.2h.7v.7h-.7zM63.2 186.5h.7v.7h-.7zM39.4 204.8h.7v.7h-.7zM51.2 202.4h.7v.7h-.7zM32.7 215.4h.7v.7h-.7zM46.9 192.0h.7v.7h-.7zM68.2 194.7h.7v.7h-.7zM32.6 209.2h.7v.7h-.7zM72.1 173.7h.7v.7h-.7zM44.8 202.3h.7v.7h-.7zM42.1 201.0h.7v.7h-.7zM59.5 191.2h.7v.7h-.7zM48.0 203.6h.7v.7h-.7zM71.1 183.8h.7v.7h-.7zM41.4 203.7h.7v.7h-.7zM41.9 204.6h.7v.7h-.7zM53.3 190.4h.7v.7h-.7zM74.5 177.2h.7v.7h-.7zM71.6 175.5h.7v.7h-.7zM34.1 208.5h.7v.7h-.7zM46.1 199.0h.7v.7h-.7zM49.9 199.0h.7v.7h-.7zM56.0 191.8h.7v.7h-.7zM37.7 211.1h.7v.7h-.7zM71.5 192.1h.7v.7h-.7zM60.9 186.9h.7v.7h-.7zM27.5 212.2h.7v.7h-.7zM44.1 214.7h.7v.7h-.7zM46.6 205.5h.7v.7h-.7zM78.5 186.0h.7v.7h-.7zM55.6 190.5h.7v.7h-.7zM56.8 200.8h.7v.7h-.7zM78.1 179.9h.7v.7h-.7zM52.7 195.6h.7v.7h-.7zM73.2 182.4h.7v.7h-.7zM49.3 210.9h.7v.7h-.7zM42.1 217.2h.7v.7h-.7zM38.3 216.0h.7v.7h-.7zM69.1 191.4h.7v.7h-.7zM48.0 200.7h.7v.7h-.7zM62.7 183.0h.7v.7h-.7zM56.7 198.1h.7v.7h-.7zM60.4 193.5h.7v.7h-.7zM44.4 202.8h.7v.7h-.7zM54.1 196.3h.7v.7h-.7zM66.8 194.9h.7v.7h-.7zM46.2 205.3h.7v.7h-.7zM44.5 209.3h.7v.7h-.7zM70.8 193.3h.7v.7h-.7zM77.7 175.3h.7v.7h-.7zM38.0 202.5h.7v.7h-.7zM30.9 206.3h.7v.7h-.7zM65.9 179.7h.7v.7h-.7zM42.9 203.8h.7v.7h-.7zM78.3 173.8h.7v.7h-.7zM68.7 184.0h.7v.7h-.7zM53.2 203.1h.7v.7h-.7zM75.1 187.4h.7v.7h-.7zM56.8 196.2h.7v.7h-.7zM66.5 189.1h.7v.7h-.7zM78.1 186.1h.7v.7h-.7zM50.8 198.3h.7v.7h-.7zM78.7 181.0h.7v.7h-.7zM45.8 207.1h.7v.7h-.7zM42.5 199.7h.7v.7h-.7zM53.6 194.7h.7v.7h-.7zM41.6 200.4h.7v.7h-.7zM58.4 195.1h.7v.7h-.7zM43.5 201.7h.7v.7h-.7zM64.8 184.9h.7v.7h-.7zM66.9 190.8h.7v.7h-.7zM52.7 192.1h.7v.7h-.7zM74.6 185.6h.7v.7h-.7zM68.2 188.3h.7v.7h-.7zM65.7 180.1h.7v.7h-.7zM32.0 207.6h.7v.7h-.7zM23.7 211.0h.7v.7h-.7zM43.5 194.0h.7v.7h-.7zM30.7 202.4h.7v.7h-.7zM78.5 185.2h.7v.7h-.7zM33.7 197.7h.7v.7h-.7zM64.6 189.1h.7v.7h-.7zM46.2 207.9h.7v.7h-.7zM53.0 186.6h.7v.7h-.7zM80.8 182.8h.7v.7h-.7zM79.5 178.2h.7v.7h-.7zM47.9 194.0h.7v.7h-.7zM60.9 197.7h.7v.7h-.7zM53.9 197.2h.7v.7h-.7zM37.8 208.7h.7v.7h-.7zM50.9 198.1h.7v.7h-.7zM73.7 184.3h.7v.7h-.7zM63.3 188.5h.7v.7h-.7zM33.6 210.4h.7v.7h-.7zM71.3 197.4h.7v.7h-.7zM72.0 180.5h.7v.7h-.7zM42.4 202.1h.7v.7h-.7zM64.8 186.8h.7v.7h-.7zM66.1 190.6h.7v.7h-.7zM69.6 183.2h.7v.7h-.7zM31.4 210.4h.7v.7h-.7zM66.7 173.9h.7v.7h-.7zM69.5 180.1h.7v.7h-.7zM33.9 209.5h.7v.7h-.7zM57.3 188.8h.7v.7h-.7zM45.2 211.7h.7v.7h-.7zM59.9 198.4h.7v.7h-.7zM70.0 190.4h.7v.7h-.7zM64.9 192.3h.7v.7h-.7zM68.6 186.8h.7v.7h-.7zM32.6 200.4h.7v.7h-.7zM34.4 209.6h.7v.7h-.7zM54.8 187.7h.7v.7h-.7zM31.1 215.9h.7v.7h-.7zM46.7 214.1h.7v.7h-.7zM39.7 200.2h.7v.7h-.7zM70.2 187.4h.7v.7h-.7zM44.0 204.7h.7v.7h-.7zM60.3 189.7h.7v.7h-.7zM55.1 199.6h.7v.7h-.7zM66.0 180.5h.7v.7h-.7zM71.3 185.6h.7v.7h-.7zM81.5 178.2h.7v.7h-.7zM35.2 210.4h.7v.7h-.7zM40.4 199.2h.7v.7h-.7zM54.7 199.2h.7v.7h-.7zM51.2 200.1h.7v.7h-.7zM57.3 189.6h.7v.7h-.7zM66.6 177.1h.7v.7h-.7zM42.4 203.4h.7v.7h-.7zM36.7 213.9h.7v.7h-.7zM55.4 183.4h.7v.7h-.7zM58.2 190.8h.7v.7h-.7zM29.8 206.6h.7v.7h-.7zM38.3 215.5h.7v.7h-.7zM27.2 213.3h.7v.7h-.7zM36.8 209.0h.7v.7h-.7zM36.8 205.3h.7v.7h-.7zM33.8 208.9h.7v.7h-.7zM27.3 211.3h.7v.7h-.7zM26.2 212.8h.7v.7h-.7zM51.7 204.1h.7v.7h-.7zM35.4 215.5h.7v.7h-.7zM38.4 201.8h.7v.7h-.7zM57.5 206.8h.7v.7h-.7zM68.0 183.4h.7v.7h-.7zM73.1 187.7h.7v.7h-.7zM44.6 203.3h.7v.7h-.7zM41.3 214.2h.7v.7h-.7zM41.9 213.4h.7v.7h-.7zM59.9 190.0h.7v.7h-.7zM43.2 203.2h.7v.7h-.7zM54.0 196.1h.7v.7h-.7zM68.2 190.4h.7v.7h-.7zM45.8 186.3h.7v.7h-.7zM68.6 182.9h.7v.7h-.7zM31.5 210.3h.7v.7h-.7zM38.5 203.2h.7v.7h-.7zM22.1 211.2h.7v.7h-.7zM54.0 192.3h.7v.7h-.7zM50.2 200.7h.7v.7h-.7zM37.3 209.5h.7v.7h-.7zM30.5 219.6h.7v.7h-.7zM38.0 197.3h.7v.7h-.7zM33.4 204.9h.7v.7h-.7zM26.5 210.3h.7v.7h-.7zM38.3 196.9h.7v.7h-.7zM73.2 180.1h.7v.7h-.7zM42.6 201.6h.7v.7h-.7zM60.5 189.4h.7v.7h-.7zM42.4 205.1h.7v.7h-.7zM56.3 203.2h.7v.7h-.7zM37.5 218.1h.7v.7h-.7zM29.6 212.0h.7v.7h-.7zM60.4 182.5h.7v.7h-.7zM42.0 206.2h.7v.7h-.7zM38.7 201.2h.7v.7h-.7zM74.5 177.3h.7v.7h-.7zM65.8 177.5h.7v.7h-.7zM48.0 203.9h.7v.7h-.7zM46.1 207.4h.7v.7h-.7zM50.5 194.6h.7v.7h-.7zM34.4 207.1h.7v.7h-.7zM44.3 199.9h.7v.7h-.7zM47.3 205.5h.7v.7h-.7zM68.9 192.0h.7v.7h-.7zM40.2 206.3h.7v.7h-.7zM60.9 171.6h.7v.7h-.7zM39.7 210.5h.7v.7h-.7zM47.3 198.8h.7v.7h-.7zM44.5 210.0h.7v.7h-.7zM73.0 185.5h.7v.7h-.7zM57.9 185.1h.7v.7h-.7zM36.7 209.6h.7v.7h-.7zM47.1 195.5h.7v.7h-.7zM34.1 199.6h.7v.7h-.7zM51.0 192.8h.7v.7h-.7zM47.5 205.8h.7v.7h-.7zM82.3 183.7h.7v.7h-.7zM41.3 212.6h.7v.7h-.7zM61.1 183.1h.7v.7h-.7zM52.9 204.2h.7v.7h-.7zM50.3 196.3h.7v.7h-.7zM45.1 194.6h.7v.7h-.7zM42.3 196.7h.7v.7h-.7zM57.3 197.3h.7v.7h-.7zM57.9 189.8h.7v.7h-.7zM38.4 207.4h.7v.7h-.7zM33.9 213.1h.7v.7h-.7zM76.3 170.9h.7v.7h-.7zM39.5 203.8h.7v.7h-.7zM32.1 201.8h.7v.7h-.7zM43.6 208.3h.7v.7h-.7zM61.6 187.8h.7v.7h-.7zM75.5 181.6h.7v.7h-.7zM44.4 201.7h.7v.7h-.7zM42.7 204.5h.7v.7h-.7zM50.9 203.2h.7v.7h-.7zM35.3 209.2h.7v.7h-.7zM34.2 207.1h.7v.7h-.7zM30.4 216.5h.7v.7h-.7zM32.9 206.4h.7v.7h-.7zM74.4 176.5h.7v.7h-.7zM35.6 214.4h.7v.7h-.7zM50.1 194.6h.7v.7h-.7zM37.5 211.4h.7v.7h-.7zM37.2 212.0h.7v.7h-.7zM70.4 180.9h.7v.7h-.7zM36.3 213.6h.7v.7h-.7zM38.6 204.1h.7v.7h-.7zM67.8 188.2h.7v.7h-.7zM38.1 204.1h.7v.7h-.7zM39.4 210.6h.7v.7h-.7zM65.4 184.9h.7v.7h-.7zM43.6 211.4h.7v.7h-.7zM60.6 182.3h.7v.7h-.7zM45.2 205.9h.7v.7h-.7zM52.4 195.3h.7v.7h-.7zM46.8 201.0h.7v.7h-.7zM42.0 200.4h.7v.7h-.7zM69.0 179.9h.7v.7h-.7zM78.5 183.2h.7v.7h-.7zM37.1 202.2h.7v.7h-.7zM61.8 189.6h.7v.7h-.7zM35.6 212.3h.7v.7h-.7zM45.8 206.6h.7v.7h-.7zM38.1 207.2h.7v.7h-.7zM58.0 197.6h.7v.7h-.7zM52.7 184.7h.7v.7h-.7zM60.2 191.5h.7v.7h-.7zM64.7 194.1h.7v.7h-.7zM54.1 194.7h.7v.7h-.7zM38.3 210.4h.7v.7h-.7zM32.3 213.3h.7v.7h-.7zM52.8 202.5h.7v.7h-.7zM73.7 176.4h.7v.7h-.7zM46.5 199.9h.7v.7h-.7zM55.9 188.9h.7v.7h-.7zM64.9 181.0h.7v.7h-.7zM74.9 185.4h.7v.7h-.7zM64.4 186.4h.7v.7h-.7zM52.2 191.8h.7v.7h-.7zM31.7 206.1h.7v.7h-.7zM63.8 188.7h.7v.7h-.7zM52.9 202.6h.7v.7h-.7zM56.6 190.2h.7v.7h-.7zM31.8 208.5h.7v.7h-.7zM77.1 173.8h.7v.7h-.7zM27.1 198.4h.7v.7h-.7zM52.9 189.2h.7v.7h-.7zM69.0 187.6h.7v.7h-.7zM31.7 204.0h.7v.7h-.7zM68.3 180.3h.7v.7h-.7zM53.6 194.6h.7v.7h-.7zM56.2 199.1h.7v.7h-.7zM37.5 210.1h.7v.7h-.7zM38.2 210.5h.7v.7h-.7zM35.5 207.7h.7v.7h-.7zM49.8 203.1h.7v.7h-.7zM62.1 194.9h.7v.7h-.7zM66.4 187.8h.7v.7h-.7zM63.9 195.6h.7v.7h-.7zM24.1 207.2h.7v.7h-.7zM36.3 209.0h.7v.7h-.7zM61.8 186.4h.7v.7h-.7zM78.2 181.6h.7v.7h-.7zM28.7 203.9h.7v.7h-.7zM52.8 204.1h.7v.7h-.7zM41.2 196.0h.7v.7h-.7zM73.7 173.2h.7v.7h-.7zM33.8 214.9h.7v.7h-.7zM69.7 179.8h.7v.7h-.7zM59.6 188.5h.7v.7h-.7zM44.4 198.4h.7v.7h-.7zM56.2 198.1h.7v.7h-.7zM35.4 206.3h.7v.7h-.7zM52.7 193.6h.7v.7h-.7zM45.0 203.7h.7v.7h-.7zM67.2 181.8h.7v.7h-.7zM54.0 206.7h.7v.7h-.7zM60.5 186.5h.7v.7h-.7zM62.6 190.2h.7v.7h-.7zM48.2 202.7h.7v.7h-.7zM71.4 183.0h.7v.7h-.7zM37.5 211.2h.7v.7h-.7zM79.2 179.1h.7v.7h-.7zM76.5 179.5h.7v.7h-.7zM62.3 184.3h.7v.7h-.7zM55.4 197.3h.7v.7h-.7zM66.4 187.8h.7v.7h-.7zM65.8 176.1h.7v.7h-.7zM49.0 204.5h.7v.7h-.7zM67.3 184.1h.7v.7h-.7zM63.6 188.9h.7v.7h-.7zM67.3 191.4h.7v.7h-.7zM44.6 200.2h.7v.7h-.7zM62.8 194.0h.7v.7h-.7zM37.4 208.7h.7v.7h-.7zM28.3 208.7h.7v.7h-.7zM43.1 210.4h.7v.7h-.7zM54.7 183.3h.7v.7h-.7zM46.3 195.7h.7v.7h-.7zM73.7 186.4h.7v.7h-.7zM40.5 210.8h.7v.7h-.7zM38.1 214.0h.7v.7h-.7zM73.9 185.0h.7v.7h-.7zM45.2 202.8h.7v.7h-.7zM43.0 211.0h.7v.7h-.7zM66.5 190.1h.7v.7h-.7zM49.9 203.0h.7v.7h-.7zM73.2 182.4h.7v.7h-.7zM46.1 202.8h.7v.7h-.7zM72.0 184.2h.7v.7h-.7zM49.1 210.5h.7v.7h-.7zM71.4 179.7h.7v.7h-.7zM42.8 213.0h.7v.7h-.7zM65.7 178.5h.7v.7h-.7zM33.0 208.5h.7v.7h-.7zM50.6 201.4h.7v.7h-.7zM47.5 195.6h.7v.7h-.7zM59.8 193.6h.7v.7h-.7zM56.7 188.4h.7v.7h-.7zM61.0 192.5h.7v.7h-.7zM39.7 200.6h.7v.7h-.7zM35.3 208.5h.7v.7h-.7zM59.7 192.5h.7v.7h-.7zM52.3 192.7h.7v.7h-.7zM51.7 193.1h.7v.7h-.7zM54.7 194.9h.7v.7h-.7zM80.3 180.4h.7v.7h-.7zM47.4 204.7h.7v.7h-.7zM75.0 181.2h.7v.7h-.7zM35.0 208.7h.7v.7h-.7zM50.3 198.7h.7v.7h-.7zM78.5 177.3h.7v.7h-.7zM40.3 201.8h.7v.7h-.7zM61.8 188.1h.7v.7h-.7zM43.9 206.9h.7v.7h-.7zM40.7 212.1h.7v.7h-.7zM46.5 195.2h.7v.7h-.7zM65.6 195.6h.7v.7h-.7zM41.6 206.4h.7v.7h-.7zM66.0 178.5h.7v.7h-.7zM30.3 205.5h.7v.7h-.7zM37.0 208.9h.7v.7h-.7zM45.0 204.5h.7v.7h-.7zM38.6 209.4h.7v.7h-.7zM38.1 204.4h.7v.7h-.7zM27.8 206.8h.7v.7h-.7zM37.1 209.1h.7v.7h-.7zM39.5 203.4h.7v.7h-.7zM63.7 193.8h.7v.7h-.7zM48.0 199.2h.7v.7h-.7zM62.1 189.4h.7v.7h-.7zM47.8 200.5h.7v.7h-.7zM42.7 204.7h.7v.7h-.7zM36.5 207.6h.7v.7h-.7zM46.4 204.7h.7v.7h-.7zM58.6 180.9h.7v.7h-.7zM46.1 198.6h.7v.7h-.7zM42.7 206.3h.7v.7h-.7zM43.8 207.2h.7v.7h-.7zM64.7 173.3h.7v.7h-.7zM62.0 190.5h.7v.7h-.7zM64.3 196.8h.7v.7h-.7zM63.7 187.2h.7v.7h-.7zM27.9 210.2h.7v.7h-.7zM59.7 191.3h.7v.7h-.7zM27.2 209.4h.7v.7h-.7zM61.4 187.0h.7v.7h-.7zM36.7 208.7h.7v.7h-.7zM67.5 196.9h.7v.7h-.7zM38.7 210.4h.7v.7h-.7zM38.2 206.2h.7v.7h-.7zM55.4 193.8h.7v.7h-.7zM68.8 179.1h.7v.7h-.7zM44.2 205.9h.7v.7h-.7zM44.3 209.5h.7v.7h-.7zM33.8 211.7h.7v.7h-.7zM63.3 188.3h.7v.7h-.7zM66.6 179.0h.7v.7h-.7zM34.7 214.2h.7v.7h-.7zM54.9 203.3h.7v.7h-.7zM28.4 199.7h.7v.7h-.7zM82.6 178.9h.7v.7h-.7zM41.6 201.0h.7v.7h-.7zM23.4 219.1h.7v.7h-.7zM56.0 190.7h.7v.7h-.7zM73.5 178.8h.7v.7h-.7zM69.6 184.8h.7v.7h-.7zM32.3 206.0h.7v.7h-.7zM44.0 201.8h.7v.7h-.7zM54.1 198.6h.7v.7h-.7zM72.8 178.2h.7v.7h-.7zM64.2 189.1h.7v.7h-.7zM31.8 214.3h.7v.7h-.7zM53.1 203.5h.7v.7h-.7zM60.2 183.1h.7v.7h-.7zM60.5 188.9h.7v.7h-.7zM56.1 192.4h.7v.7h-.7zM72.3 175.1h.7v.7h-.7zM81.0 179.0h.7v.7h-.7zM70.6 191.1h.7v.7h-.7zM41.9 203.1h.7v.7h-.7zM42.0 207.0h.7v.7h-.7zM28.4 214.2h.7v.7h-.7zM31.5 216.2h.7v.7h-.7zM60.8 193.8h.7v.7h-.7zM59.4 188.7h.7v.7h-.7zM71.5 186.8h.7v.7h-.7zM71.0 180.4h.7v.7h-.7zM50.6 204.5h.7v.7h-.7zM41.3 202.0h.7v.7h-.7zM30.4 208.9h.7v.7h-.7zM45.3 195.1h.7v.7h-.7zM70.3 182.1h.7v.7h-.7zM63.9 187.0h.7v.7h-.7zM46.2 207.5h.7v.7h-.7zM41.1 214.6h.7v.7h-.7zM69.4 179.2h.7v.7h-.7zM72.6 185.8h.7v.7h-.7zM65.6 186.2h.7v.7h-.7zM39.4 211.9h.7v.7h-.7zM45.7 205.3h.7v.7h-.7zM57.7 195.8h.7v.7h-.7zM77.6 183.1h.7v.7h-.7zM35.4 205.5h.7v.7h-.7zM35.6 203.6h.7v.7h-.7zM29.1 213.1h.7v.7h-.7zM34.4 211.5h.7v.7h-.7zM24.7 209.3h.7v.7h-.7zM63.7 181.9h.7v.7h-.7zM60.9 194.3h.7v.7h-.7zM44.9 195.4h.7v.7h-.7zM38.8 205.1h.7v.7h-.7zM48.8 209.1h.7v.7h-.7zM71.3 190.8h.7v.7h-.7zM47.1 197.6h.7v.7h-.7zM41.0 223.6h.7v.7h-.7zM62.8 193.3h.7v.7h-.7zM72.1 177.1h.7v.7h-.7zM48.5 208.4h.7v.7h-.7zM73.5 182.0h.7v.7h-.7zM32.8 209.1h.7v.7h-.7zM34.6 210.0h.7v.7h-.7zM77.6 173.6h.7v.7h-.7zM69.7 178.9h.7v.7h-.7zM36.4 207.8h.7v.7h-.7zM66.9 193.9h.7v.7h-.7zM56.0 193.7h.7v.7h-.7zM42.9 199.7h.7v.7h-.7zM73.2 189.0h.7v.7h-.7zM51.1 189.2h.7v.7h-.7zM43.0 204.5h.7v.7h-.7zM46.9 202.9h.7v.7h-.7zM61.5 183.2h.7v.7h-.7zM55.5 197.6h.7v.7h-.7zM51.9 196.2h.7v.7h-.7zM61.6 185.7h.7v.7h-.7zM30.8 211.4h.7v.7h-.7zM30.1 214.4h.7v.7h-.7zM35.5 209.6h.7v.7h-.7zM54.7 193.9h.7v.7h-.7zM39.5 205.1h.7v.7h-.7zM64.0 187.7h.7v.7h-.7zM73.0 177.5h.7v.7h-.7zM34.2 207.8h.7v.7h-.7zM44.5 200.0h.7v.7h-.7zM45.7 200.1h.7v.7h-.7zM47.7 200.4h.7v.7h-.7zM72.7 183.3h.7v.7h-.7zM46.6 196.7h.7v.7h-.7zM24.6 211.7h.7v.7h-.7zM57.3 191.6h.7v.7h-.7zM32.3 203.9h.7v.7h-.7zM46.5 195.8h.7v.7h-.7zM27.5 218.7h.7v.7h-.7zM55.6 188.8h.7v.7h-.7zM41.3 201.5h.7v.7h-.7zM58.1 195.4h.7v.7h-.7zM49.6 197.1h.7v.7h-.7zM45.8 205.9h.7v.7h-.7zM53.1 194.1h.7v.7h-.7zM37.4 213.6h.7v.7h-.7zM64.8 185.2h.7v.7h-.7zM59.6 196.5h.7v.7h-.7zM69.0 190.2h.7v.7h-.7zM45.8 203.4h.7v.7h-.7zM35.3 212.2h.7v.7h-.7zM72.7 178.5h.7v.7h-.7zM67.8 187.7h.7v.7h-.7zM75.1 184.0h.7v.7h-.7zM42.1 205.2h.7v.7h-.7zM81.9 183.2h.7v.7h-.7zM59.8 175.4h.7v.7h-.7zM52.8 201.9h.7v.7h-.7zM74.3 185.8h.7v.7h-.7zM67.2 185.1h.7v.7h-.7zM28.8 209.2h.7v.7h-.7zM33.8 213.2h.7v.7h-.7zM42.0 199.8h.7v.7h-.7zM44.6 201.5h.7v.7h-.7zM56.6 189.1h.7v.7h-.7zM49.8 193.4h.7v.7h-.7zM67.2 182.9h.7v.7h-.7zM69.3 180.8h.7v.7h-.7zM28.2 211.2h.7v.7h-.7zM44.0 207.3h.7v.7h-.7zM67.7 177.0h.7v.7h-.7zM65.1 192.4h.7v.7h-.7zM33.0 210.1h.7v.7h-.7zM56.7 196.7h.7v.7h-.7zM29.2 211.6h.7v.7h-.7zM44.7 197.7h.7v.7h-.7zM73.4 174.6h.7v.7h-.7zM34.4 204.9h.7v.7h-.7zM71.0 182.7h.7v.7h-.7zM53.9 197.2h.7v.7h-.7zM74.3 184.0h.7v.7h-.7zM69.6 187.7h.7v.7h-.7zM24.3 206.4h.7v.7h-.7zM44.0 196.9h.7v.7h-.7zM64.4 184.5h.7v.7h-.7zM35.6 205.6h.7v.7h-.7zM51.1 192.9h.7v.7h-.7zM28.6 210.9h.7v.7h-.7zM39.7 206.8h.7v.7h-.7zM36.8 204.4h.7v.7h-.7zM30.5 207.3h.7v.7h-.7zM88.6 174.5h.7v.7h-.7zM38.6 209.0h.7v.7h-.7zM43.4 202.1h.7v.7h-.7zM51.7 197.5h.7v.7h-.7zM54.7 188.4h.7v.7h-.7zM85.1 179.2h.7v.7h-.7zM46.1 198.5h.7v.7h-.7zM62.0 184.9h.7v.7h-.7zM33.8 207.3h.7v.7h-.7zM52.9 196.0h.7v.7h-.7zM43.4 210.5h.7v.7h-.7zM61.0 185.4h.7v.7h-.7zM49.5 200.4h.7v.7h-.7zM36.0 207.0h.7v.7h-.7zM71.5 183.6h.7v.7h-.7zM55.4 196.3h.7v.7h-.7zM49.8 196.8h.7v.7h-.7zM45.5 219.4h.7v.7h-.7zM69.5 185.0h.7v.7h-.7zM50.2 192.2h.7v.7h-.7zM74.0 185.1h.7v.7h-.7zM31.5 209.5h.7v.7h-.7zM56.5 196.7h.7v.7h-.7zM40.4 204.4h.7v.7h-.7zM46.9 197.6h.7v.7h-.7zM48.8 195.2h.7v.7h-.7zM63.8 186.9h.7v.7h-.7zM64.6 180.6h.7v.7h-.7zM37.5 209.1h.7v.7h-.7zM60.2 183.2h.7v.7h-.7zM45.4 213.0h.7v.7h-.7zM41.7 207.9h.7v.7h-.7zM45.9 206.4h.7v.7h-.7zM38.1 206.5h.7v.7h-.7zM60.2 186.1h.7v.7h-.7zM58.3 200.2h.7v.7h-.7zM44.4 198.6h.7v.7h-.7zM67.7 185.7h.7v.7h-.7zM70.0 176.5h.7v.7h-.7zM61.7 196.0h.7v.7h-.7zM52.1 191.6h.7v.7h-.7zM69.6 183.8h.7v.7h-.7zM30.1 208.2h.7v.7h-.7zM74.4 170.4h.7v.7h-.7zM38.4 211.5h.7v.7h-.7zM30.2 209.1h.7v.7h-.7zM64.1 184.5h.7v.7h-.7zM39.9 209.3h.7v.7h-.7zM40.8 208.6h.7v.7h-.7zM55.9 202.1h.7v.7h-.7zM20.7 218.0h.7v.7h-.7zM48.0 203.2h.7v.7h-.7zM44.7 203.0h.7v.7h-.7zM24.9 209.5h.7v.7h-.7zM46.6 198.1h.7v.7h-.7zM51.0 207.8h.7v.7h-.7zM29.3 211.4h.7v.7h-.7zM60.9 185.0h.7v.7h-.7zM47.6 204.0h.7v.7h-.7zM30.6 213.3h.7v.7h-.7zM72.8 182.8h.7v.7h-.7zM39.5 200.1h.7v.7h-.7zM35.1 201.4h.7v.7h-.7zM45.3 204.7h.7v.7h-.7zM39.9 211.9h.7v.7h-.7zM20.6 212.9h.7v.7h-.7zM44.5 196.9h.7v.7h-.7zM35.7 209.9h.7v.7h-.7zM31.8 201.6h.7v.7h-.7zM65.3 200.3h.7v.7h-.7zM25.6 210.9h.7v.7h-.7zM42.6 207.6h.7v.7h-.7zM32.2 212.8h.7v.7h-.7zM48.2 203.5h.7v.7h-.7zM35.0 212.2h.7v.7h-.7zM46.2 195.9h.7v.7h-.7zM70.7 178.1h.7v.7h-.7zM68.8 187.8h.7v.7h-.7zM50.0 195.5h.7v.7h-.7zM70.0 192.6h.7v.7h-.7zM59.6 187.3h.7v.7h-.7zM58.2 190.2h.7v.7h-.7zM69.3 179.4h.7v.7h-.7zM41.4 210.4h.7v.7h-.7zM56.8 194.8h.7v.7h-.7zM44.3 193.9h.7v.7h-.7zM65.5 196.0h.7v.7h-.7zM65.8 190.2h.7v.7h-.7zM28.4 210.9h.7v.7h-.7zM59.9 184.7h.7v.7h-.7zM39.3 211.1h.7v.7h-.7zM36.5 208.0h.7v.7h-.7zM54.0 196.6h.7v.7h-.7zM62.2 178.3h.7v.7h-.7zM23.2 220.1h.7v.7h-.7zM58.2 196.0h.7v.7h-.7zM40.5 200.8h.7v.7h-.7zM40.5 210.7h.7v.7h-.7zM53.4 202.0h.7v.7h-.7zM54.7 194.1h.7v.7h-.7zM38.9 213.1h.7v.7h-.7zM73.9 185.2h.7v.7h-.7zM29.7 209.7h.7v.7h-.7zM32.8 205.1h.7v.7h-.7zM49.7 208.9h.7v.7h-.7zM30.9 211.4h.7v.7h-.7zM73.0 189.2h.7v.7h-.7zM74.3 175.0h.7v.7h-.7zM71.1 184.5h.7v.7h-.7zM33.0 209.4h.7v.7h-.7zM71.3 182.0h.7v.7h-.7zM48.1 210.7h.7v.7h-.7zM37.3 207.3h.7v.7h-.7zM51.0 188.3h.7v.7h-.7zM33.6 210.3h.7v.7h-.7zM24.1 216.4h.7v.7h-.7zM70.0 175.3h.7v.7h-.7zM48.6 210.2h.7v.7h-.7zM77.5 189.6h.7v.7h-.7zM47.0 201.3h.7v.7h-.7zM27.7 216.7h.7v.7h-.7zM51.5 207.5h.7v.7h-.7zM23.1 212.2h.7v.7h-.7zM29.4 212.2h.7v.7h-.7zM40.6 219.6h.7v.7h-.7zM47.9 209.1h.7v.7h-.7zM30.7 204.0h.7v.7h-.7zM32.0 204.6h.7v.7h-.7zM80.3 177.6h.7v.7h-.7zM66.7 183.6h.7v.7h-.7zM56.2 185.2h.7v.7h-.7zM40.0 211.6h.7v.7h-.7zM58.9 189.4h.7v.7h-.7zM48.5 191.8h.7v.7h-.7zM54.3 204.1h.7v.7h-.7zM34.0 206.0h.7v.7h-.7zM31.1 208.8h.7v.7h-.7zM37.4 203.7h.7v.7h-.7zM40.2 205.5h.7v.7h-.7zM66.1 182.0h.7v.7h-.7zM50.2 204.0h.7v.7h-.7zM56.4 192.3h.7v.7h-.7zM77.2 187.1h.7v.7h-.7zM52.6 191.8h.7v.7h-.7zM31.6 210.9h.7v.7h-.7zM29.7 200.3h.7v.7h-.7zM66.9 180.0h.7v.7h-.7zM36.6 209.3h.7v.7h-.7zM53.7 214.0h.7v.7h-.7zM47.7 197.8h.7v.7h-.7zM62.8 186.0h.7v.7h-.7zM68.2 192.9h.7v.7h-.7zM63.5 195.6h.7v.7h-.7zM55.6 194.1h.7v.7h-.7zM43.1 201.5h.7v.7h-.7zM24.1 206.1h.7v.7h-.7zM53.9 194.0h.7v.7h-.7zM38.0 210.3h.7v.7h-.7zM74.0 184.2h.7v.7h-.7zM33.5 209.5h.7v.7h-.7zM31.0 205.7h.7v.7h-.7zM80.6 182.3h.7v.7h-.7zM41.4 205.4h.7v.7h-.7zM55.3 193.8h.7v.7h-.7zM28.8 214.1h.7v.7h-.7zM78.8 171.0h.7v.7h-.7zM37.6 216.0h.7v.7h-.7zM54.5 195.6h.7v.7h-.7zM60.5 183.3h.7v.7h-.7zM42.4 202.3h.7v.7h-.7zM34.2 210.5h.7v.7h-.7zM37.8 204.8h.7v.7h-.7zM33.4 217.4h.7v.7h-.7zM58.8 189.0h.7v.7h-.7zM47.5 195.7h.7v.7h-.7zM65.6 178.2h.7v.7h-.7zM50.2 196.6h.7v.7h-.7zM50.2 201.9h.7v.7h-.7zM33.7 204.1h.7v.7h-.7zM43.2 206.3h.7v.7h-.7zM70.0 170.6h.7v.7h-.7zM74.7 181.6h.7v.7h-.7zM42.3 202.6h.7v.7h-.7zM73.0 195.8h.7v.7h-.7zM61.8 189.9h.7v.7h-.7zM36.9 205.4h.7v.7h-.7zM40.8 206.4h.7v.7h-.7zM62.4 192.5h.7v.7h-.7zM73.1 171.9h.7v.7h-.7zM85.5 180.3h.7v.7h-.7zM45.9 205.7h.7v.7h-.7zM42.5 209.8h.7v.7h-.7zM46.9 202.3h.7v.7h-.7zM37.3 215.9h.7v.7h-.7zM78.1 184.5h.7v.7h-.7zM34.1 204.5h.7v.7h-.7zM72.0 186.4h.7v.7h-.7zM38.3 214.9h.7v.7h-.7zM79.2 176.1h.7v.7h-.7zM47.9 199.1h.7v.7h-.7zM63.5 180.1h.7v.7h-.7zM48.1 195.1h.7v.7h-.7zM66.9 187.9h.7v.7h-.7zM40.2 210.0h.7v.7h-.7zM31.9 208.5h.7v.7h-.7zM44.6 198.4h.7v.7h-.7zM77.6 177.4h.7v.7h-.7zM67.6 177.3h.7v.7h-.7zM58.0 193.4h.7v.7h-.7zM47.5 193.7h.7v.7h-.7zM39.2 208.6h.7v.7h-.7zM74.8 182.8h.7v.7h-.7zM54.4 195.3h.7v.7h-.7zM45.5 192.0h.7v.7h-.7zM66.8 182.1h.7v.7h-.7zM43.0 210.9h.7v.7h-.7zM53.1 196.3h.7v.7h-.7zM55.9 188.7h.7v.7h-.7zM66.0 189.7h.7v.7h-.7zM26.9 211.2h.7v.7h-.7zM61.2 194.5h.7v.7h-.7zM75.0 178.1h.7v.7h-.7zM50.9 198.0h.7v.7h-.7zM31.0 211.6h.7v.7h-.7zM74.1 176.7h.7v.7h-.7zM33.2 215.4h.7v.7h-.7zM36.1 212.1h.7v.7h-.7zM69.8 178.7h.7v.7h-.7zM54.3 204.1h.7v.7h-.7zM36.2 200.8h.7v.7h-.7zM61.8 182.8h.7v.7h-.7zM58.7 192.4h.7v.7h-.7zM40.3 214.0h.7v.7h-.7zM44.8 210.7h.7v.7h-.7zM61.2 185.7h.7v.7h-.7zM71.9 191.6h.7v.7h-.7zM37.4 213.3h.7v.7h-.7zM49.5 204.4h.7v.7h-.7zM62.7 202.0h.7v.7h-.7zM45.4 206.5h.7v.7h-.7zM42.8 201.5h.7v.7h-.7zM38.9 200.9h.7v.7h-.7zM77.2 175.5h.7v.7h-.7zM60.3 190.3h.7v.7h-.7zM35.7 209.2h.7v.7h-.7zM74.3 179.5h.7v.7h-.7zM61.9 188.1h.7v.7h-.7zM34.0 205.7h.7v.7h-.7zM37.2 206.6h.7v.7h-.7zM37.0 199.2h.7v.7h-.7zM36.5 207.1h.7v.7h-.7zM47.0 204.7h.7v.7h-.7zM38.9 206.9h.7v.7h-.7zM70.8 184.2h.7v.7h-.7zM64.7 184.4h.7v.7h-.7zM58.1 199.7h.7v.7h-.7zM76.0 182.6h.7v.7h-.7zM55.8 196.9h.7v.7h-.7zM84.5 180.8h.7v.7h-.7zM64.1 184.3h.7v.7h-.7zM52.7 190.9h.7v.7h-.7zM51.4 197.0h.7v.7h-.7zM69.6 190.0h.7v.7h-.7zM64.1 187.0h.7v.7h-.7zM72.5 174.2h.7v.7h-.7zM42.4 201.7h.7v.7h-.7zM41.7 196.7h.7v.7h-.7zM33.7 213.1h.7v.7h-.7zM68.8 181.3h.7v.7h-.7zM74.2 178.4h.7v.7h-.7zM46.5 200.7h.7v.7h-.7zM52.9 213.9h.7v.7h-.7zM30.4 215.6h.7v.7h-.7zM74.0 172.2h.7v.7h-.7zM52.1 192.0h.7v.7h-.7zM83.4 173.3h.7v.7h-.7zM48.8 187.2h.7v.7h-.7zM53.5 199.8h.7v.7h-.7zM70.0 199.0h.7v.7h-.7zM70.0 188.7h.7v.7h-.7zM72.0 184.6h.7v.7h-.7zM30.1 203.5h.7v.7h-.7zM46.8 200.2h.7v.7h-.7zM65.6 183.6h.7v.7h-.7zM49.9 193.4h.7v.7h-.7zM65.4 178.8h.7v.7h-.7zM45.7 206.5h.7v.7h-.7zM72.4 186.2h.7v.7h-.7zM35.1 218.4h.7v.7h-.7zM29.5 213.4h.7v.7h-.7zM30.8 217.5h.7v.7h-.7zM37.6 199.5h.7v.7h-.7zM41.6 206.4h.7v.7h-.7zM87.1 185.0h.7v.7h-.7zM74.3 180.8h.7v.7h-.7zM36.9 208.7h.7v.7h-.7zM64.4 188.7h.7v.7h-.7zM53.4 196.6h.7v.7h-.7zM70.2 178.7h.7v.7h-.7zM41.4 206.5h.7v.7h-.7zM53.9 193.7h.7v.7h-.7zM29.6 215.9h.7v.7h-.7zM53.6 195.7h.7v.7h-.7zM39.9 209.1h.7v.7h-.7zM41.6 210.7h.7v.7h-.7zM37.3 204.6h.7v.7h-.7zM34.7 192.3h.7v.7h-.7zM50.7 204.0h.7v.7h-.7zM51.6 202.4h.7v.7h-.7zM58.2 191.8h.7v.7h-.7zM64.9 178.1h.7v.7h-.7zM77.3 172.3h.7v.7h-.7zM54.3 196.9h.7v.7h-.7zM40.2 211.1h.7v.7h-.7zM51.5 198.6h.7v.7h-.7zM32.9 200.9h.7v.7h-.7zM36.8 209.9h.7v.7h-.7zM37.9 203.2h.7v.7h-.7zM32.9 207.1h.7v.7h-.7zM52.8 194.5h.7v.7h-.7zM30.5 212.9h.7v.7h-.7zM53.7 196.2h.7v.7h-.7zM50.5 206.9h.7v.7h-.7zM33.2 215.4h.7v.7h-.7zM30.6 203.8h.7v.7h-.7zM72.4 185.6h.7v.7h-.7zM57.6 191.8h.7v.7h-.7zM31.7 213.7h.7v.7h-.7zM48.2 201.1h.7v.7h-.7zM59.1 196.5h.7v.7h-.7zM37.4 201.4h.7v.7h-.7zM45.5 207.4h.7v.7h-.7zM40.4 213.9h.7v.7h-.7zM46.3 204.0h.7v.7h-.7zM65.2 176.2h.7v.7h-.7zM36.4 205.3h.7v.7h-.7zM34.7 210.1h.7v.7h-.7zM23.4 208.7h.7v.7h-.7zM53.3 200.7h.7v.7h-.7zM25.9 208.9h.7v.7h-.7zM57.5 203.8h.7v.7h-.7zM74.4 188.5h.7v.7h-.7zM72.4 182.1h.7v.7h-.7zM62.0 188.5h.7v.7h-.7zM29.8 210.4h.7v.7h-.7zM50.7 202.6h.7v.7h-.7zM36.8 212.2h.7v.7h-.7zM52.7 198.3h.7v.7h-.7zM30.2 214.1h.7v.7h-.7zM31.5 204.0h.7v.7h-.7zM77.6 166.2h.7v.7h-.7zM80.0 181.2h.7v.7h-.7zM33.7 213.2h.7v.7h-.7zM79.3 183.8h.7v.7h-.7zM48.2 207.5h.7v.7h-.7zM34.5 207.1h.7v.7h-.7zM77.8 184.8h.7v.7h-.7zM69.2 179.1h.7v.7h-.7zM46.4 197.8h.7v.7h-.7zM56.6 187.7h.7v.7h-.7zM42.9 212.1h.7v.7h-.7zM73.6 184.1h.7v.7h-.7zM45.7 208.6h.7v.7h-.7zM38.1 214.2h.7v.7h-.7zM35.0 214.9h.7v.7h-.7zM56.1 190.5h.7v.7h-.7zM52.3 201.4h.7v.7h-.7zM75.0 185.1h.7v.7h-.7zM35.0 212.4h.7v.7h-.7zM68.3 190.7h.7v.7h-.7zM67.5 177.0h.7v.7h-.7zM66.4 188.9h.7v.7h-.7zM43.7 208.8h.7v.7h-.7zM36.2 213.4h.7v.7h-.7zM25.9 208.7h.7v.7h-.7zM48.6 207.1h.7v.7h-.7zM61.0 184.0h.7v.7h-.7zM18.7 209.9h.7v.7h-.7zM45.1 200.0h.7v.7h-.7zM36.1 211.6h.7v.7h-.7zM60.2 192.8h.7v.7h-.7zM40.6 210.5h.7v.7h-.7z"/><path fill="#222" fill-opacity="0.45" clip-path="url(#cc1)" d="M36.0 200.8h.8v.8h-.8zM51.5 197.5h.8v.8h-.8zM42.4 205.6h.8v.8h-.8zM32.4 210.0h.8v.8h-.8zM36.9 202.9h.8v.8h-.8zM36.9 202.7h.8v.8h-.8zM37.7 215.6h.8v.8h-.8zM46.0 214.3h.8v.8h-.8zM60.6 197.5h.8v.8h-.8zM50.1 202.0h.8v.8h-.8zM55.2 199.9h.8v.8h-.8zM34.9 212.6h.8v.8h-.8zM53.7 196.9h.8v.8h-.8zM59.2 210.4h.8v.8h-.8zM63.3 213.6h.8v.8h-.8zM54.3 209.2h.8v.8h-.8zM50.9 209.4h.8v.8h-.8zM62.3 215.2h.8v.8h-.8zM35.6 199.5h.8v.8h-.8zM56.9 199.0h.8v.8h-.8zM54.5 212.5h.8v.8h-.8zM54.7 205.4h.8v.8h-.8zM42.9 199.0h.8v.8h-.8zM34.0 208.8h.8v.8h-.8zM36.0 206.2h.8v.8h-.8zM53.2 211.5h.8v.8h-.8zM41.5 207.0h.8v.8h-.8zM61.9 210.2h.8v.8h-.8zM35.4 199.9h.8v.8h-.8zM57.6 213.2h.8v.8h-.8zM46.8 215.7h.8v.8h-.8zM40.9 198.4h.8v.8h-.8zM39.7 213.0h.8v.8h-.8zM42.8 205.4h.8v.8h-.8zM43.3 202.2h.8v.8h-.8zM38.7 209.9h.8v.8h-.8zM38.5 197.8h.8v.8h-.8zM62.6 209.6h.8v.8h-.8zM45.0 212.5h.8v.8h-.8zM51.4 215.1h.8v.8h-.8zM54.0 198.4h.8v.8h-.8zM42.1 212.1h.8v.8h-.8zM61.4 198.5h.8v.8h-.8zM40.9 207.3h.8v.8h-.8zM37.6 197.7h.8v.8h-.8zM32.9 214.7h.8v.8h-.8zM39.9 199.3h.8v.8h-.8zM33.5 196.8h.8v.8h-.8zM51.6 202.2h.8v.8h-.8zM49.9 213.7h.8v.8h-.8zM32.2 196.4h.8v.8h-.8zM61.9 200.4h.8v.8h-.8zM54.8 212.2h.8v.8h-.8zM49.1 197.0h.8v.8h-.8zM61.7 214.7h.8v.8h-.8zM48.5 213.8h.8v.8h-.8zM37.1 216.1h.8v.8h-.8zM56.5 204.6h.8v.8h-.8zM62.1 208.3h.8v.8h-.8zM33.4 214.7h.8v.8h-.8zM47.6 206.5h.8v.8h-.8zM38.7 198.8h.8v.8h-.8zM60.4 214.6h.8v.8h-.8zM34.6 203.6h.8v.8h-.8zM57.3 213.0h.8v.8h-.8zM38.1 206.2h.8v.8h-.8zM52.0 209.5h.8v.8h-.8zM53.6 210.9h.8v.8h-.8zM55.8 216.2h.8v.8h-.8zM33.2 204.8h.8v.8h-.8zM47.0 207.5h.8v.8h-.8zM35.5 202.6h.8v.8h-.8zM35.5 212.7h.8v.8h-.8zM36.7 196.7h.8v.8h-.8zM36.2 216.0h.8v.8h-.8zM61.4 212.5h.8v.8h-.8zM49.4 203.6h.8v.8h-.8zM39.6 213.7h.8v.8h-.8zM47.0 211.2h.8v.8h-.8zM33.3 206.4h.8v.8h-.8zM38.4 201.3h.8v.8h-.8zM51.6 199.1h.8v.8h-.8zM53.7 210.1h.8v.8h-.8zM51.2 203.2h.8v.8h-.8zM63.0 215.9h.8v.8h-.8zM62.8 198.6h.8v.8h-.8zM58.2 203.0h.8v.8h-.8zM46.4 198.4h.8v.8h-.8zM55.7 212.2h.8v.8h-.8zM39.5 206.5h.8v.8h-.8zM59.2 201.5h.8v.8h-.8zM39.3 215.9h.8v.8h-.8zM63.2 199.6h.8v.8h-.8zM31.9 202.2h.8v.8h-.8zM57.0 200.6h.8v.8h-.8zM47.5 213.1h.8v.8h-.8zM57.6 200.9h.8v.8h-.8zM48.2 205.1h.8v.8h-.8zM58.2 213.4h.8v.8h-.8zM54.2 213.8h.8v.8h-.8zM52.0 199.2h.8v.8h-.8zM61.9 208.4h.8v.8h-.8zM35.3 211.0h.8v.8h-.8zM61.1 209.0h.8v.8h-.8zM48.2 202.7h.8v.8h-.8zM54.1 213.7h.8v.8h-.8zM52.9 213.2h.8v.8h-.8zM44.0 203.4h.8v.8h-.8zM48.4 198.5h.8v.8h-.8zM62.6 203.0h.8v.8h-.8zM47.1 197.5h.8v.8h-.8zM60.8 210.7h.8v.8h-.8zM31.8 209.3h.8v.8h-.8zM49.9 208.9h.8v.8h-.8zM53.5 209.2h.8v.8h-.8zM44.1 211.0h.8v.8h-.8zM34.1 200.5h.8v.8h-.8zM56.8 210.7h.8v.8h-.8zM55.6 208.1h.8v.8h-.8zM43.7 207.0h.8v.8h-.8zM34.6 196.5h.8v.8h-.8zM58.4 209.8h.8v.8h-.8zM56.3 202.6h.8v.8h-.8zM58.2 209.8h.8v.8h-.8zM57.7 200.4h.8v.8h-.8zM39.9 208.6h.8v.8h-.8zM51.5 216.0h.8v.8h-.8zM46.4 205.9h.8v.8h-.8zM44.0 209.6h.8v.8h-.8zM44.6 211.1h.8v.8h-.8zM53.0 210.5h.8v.8h-.8zM63.4 216.4h.8v.8h-.8zM46.6 201.8h.8v.8h-.8zM43.2 205.4h.8v.8h-.8zM51.6 203.7h.8v.8h-.8zM51.6 205.0h.8v.8h-.8zM44.5 208.8h.8v.8h-.8zM52.2 207.2h.8v.8h-.8zM52.5 206.9h.8v.8h-.8zM55.4 198.0h.8v.8h-.8zM36.8 209.4h.8v.8h-.8zM52.4 213.4h.8v.8h-.8zM44.9 214.7h.8v.8h-.8zM59.6 209.7h.8v.8h-.8zM51.3 205.0h.8v.8h-.8zM57.5 204.8h.8v.8h-.8zM57.4 201.8h.8v.8h-.8zM38.3 203.2h.8v.8h-.8zM34.0 214.7h.8v.8h-.8zM55.8 208.6h.8v.8h-.8zM33.3 209.0h.8v.8h-.8zM61.8 214.1h.8v.8h-.8zM53.6 204.6h.8v.8h-.8zM45.0 200.9h.8v.8h-.8zM52.9 215.5h.8v.8h-.8zM35.7 205.8h.8v.8h-.8zM51.9 214.0h.8v.8h-.8zM60.9 200.9h.8v.8h-.8zM31.5 205.2h.8v.8h-.8zM61.5 215.1h.8v.8h-.8zM41.4 206.1h.8v.8h-.8zM44.2 211.6h.8v.8h-.8zM61.6 212.3h.8v.8h-.8zM57.0 203.1h.8v.8h-.8zM43.8 208.3h.8v.8h-.8zM62.8 197.8h.8v.8h-.8zM32.5 198.1h.8v.8h-.8zM52.6 199.3h.8v.8h-.8zM47.8 208.2h.8v.8h-.8zM59.9 198.3h.8v.8h-.8zM32.1 215.0h.8v.8h-.8zM41.8 200.9h.8v.8h-.8zM46.8 209.2h.8v.8h-.8zM33.8 199.1h.8v.8h-.8zM52.2 215.8h.8v.8h-.8zM58.6 204.9h.8v.8h-.8zM60.5 215.0h.8v.8h-.8zM36.1 210.5h.8v.8h-.8zM47.7 205.1h.8v.8h-.8zM63.0 213.6h.8v.8h-.8zM33.8 202.5h.8v.8h-.8zM54.1 206.1h.8v.8h-.8zM40.7 211.9h.8v.8h-.8zM60.6 205.6h.8v.8h-.8zM51.0 207.5h.8v.8h-.8zM60.2 215.7h.8v.8h-.8zM33.1 202.2h.8v.8h-.8zM50.9 202.1h.8v.8h-.8zM44.9 198.2h.8v.8h-.8zM35.0 197.6h.8v.8h-.8zM44.6 209.0h.8v.8h-.8zM55.2 203.5h.8v.8h-.8zM50.1 204.2h.8v.8h-.8zM50.5 215.4h.8v.8h-.8zM40.4 201.9h.8v.8h-.8zM47.8 210.9h.8v.8h-.8zM45.8 207.9h.8v.8h-.8zM60.6 204.0h.8v.8h-.8zM59.6 206.3h.8v.8h-.8zM45.5 210.8h.8v.8h-.8zM47.6 198.9h.8v.8h-.8zM40.9 214.5h.8v.8h-.8zM49.6 204.3h.8v.8h-.8zM35.7 212.7h.8v.8h-.8zM62.4 197.9h.8v.8h-.8zM44.8 197.7h.8v.8h-.8zM31.8 202.1h.8v.8h-.8zM41.0 198.7h.8v.8h-.8zM61.9 201.1h.8v.8h-.8zM41.4 203.3h.8v.8h-.8zM43.9 201.4h.8v.8h-.8zM62.7 198.2h.8v.8h-.8zM56.6 212.1h.8v.8h-.8zM43.0 201.8h.8v.8h-.8zM36.8 212.8h.8v.8h-.8zM44.0 207.2h.8v.8h-.8zM43.4 209.6h.8v.8h-.8zM60.1 203.7h.8v.8h-.8zM48.8 203.6h.8v.8h-.8zM61.1 198.4h.8v.8h-.8zM63.1 199.6h.8v.8h-.8zM59.3 215.1h.8v.8h-.8zM44.5 212.9h.8v.8h-.8zM44.0 215.5h.8v.8h-.8zM49.0 202.2h.8v.8h-.8zM53.2 209.5h.8v.8h-.8zM58.7 196.9h.8v.8h-.8zM57.7 212.1h.8v.8h-.8zM41.5 197.3h.8v.8h-.8zM55.1 201.3h.8v.8h-.8zM43.5 201.2h.8v.8h-.8zM56.3 204.2h.8v.8h-.8zM31.9 198.7h.8v.8h-.8zM58.7 211.7h.8v.8h-.8zM53.8 199.0h.8v.8h-.8zM36.2 198.8h.8v.8h-.8zM39.5 204.3h.8v.8h-.8zM41.5 203.2h.8v.8h-.8zM47.9 211.8h.8v.8h-.8zM60.5 206.6h.8v.8h-.8zM62.6 204.7h.8v.8h-.8zM50.8 210.1h.8v.8h-.8zM35.0 215.6h.8v.8h-.8zM62.8 197.4h.8v.8h-.8zM62.2 200.3h.8v.8h-.8zM34.3 209.1h.8v.8h-.8zM52.8 205.8h.8v.8h-.8zM52.8 204.6h.8v.8h-.8zM52.6 197.2h.8v.8h-.8zM54.7 205.2h.8v.8h-.8zM31.7 201.9h.8v.8h-.8zM41.4 200.3h.8v.8h-.8zM42.3 214.4h.8v.8h-.8zM52.3 204.8h.8v.8h-.8zM34.5 197.8h.8v.8h-.8zM40.3 199.9h.8v.8h-.8zM37.1 198.0h.8v.8h-.8zM33.0 213.2h.8v.8h-.8zM46.6 200.8h.8v.8h-.8zM38.0 210.8h.8v.8h-.8zM46.9 198.9h.8v.8h-.8zM38.1 200.7h.8v.8h-.8zM56.8 208.9h.8v.8h-.8zM35.1 204.8h.8v.8h-.8zM56.2 207.0h.8v.8h-.8zM52.5 197.6h.8v.8h-.8zM36.6 205.3h.8v.8h-.8zM43.6 214.8h.8v.8h-.8zM43.7 205.7h.8v.8h-.8zM46.1 216.0h.8v.8h-.8zM53.1 213.7h.8v.8h-.8zM32.0 206.6h.8v.8h-.8zM36.8 207.2h.8v.8h-.8zM53.9 215.0h.8v.8h-.8zM34.5 209.6h.8v.8h-.8zM58.5 210.7h.8v.8h-.8zM43.4 210.7h.8v.8h-.8zM32.7 207.5h.8v.8h-.8zM56.1 215.7h.8v.8h-.8zM39.3 215.7h.8v.8h-.8zM63.5 211.7h.8v.8h-.8zM61.0 202.1h.8v.8h-.8zM59.8 197.7h.8v.8h-.8zM59.8 201.3h.8v.8h-.8zM33.9 214.9h.8v.8h-.8zM32.4 199.9h.8v.8h-.8zM44.3 200.0h.8v.8h-.8zM45.0 199.5h.8v.8h-.8zM44.6 201.9h.8v.8h-.8zM50.6 211.2h.8v.8h-.8zM56.6 206.5h.8v.8h-.8zM56.7 207.6h.8v.8h-.8zM61.3 215.7h.8v.8h-.8zM53.1 205.6h.8v.8h-.8zM59.6 211.1h.8v.8h-.8zM34.4 197.4h.8v.8h-.8zM32.3 203.1h.8v.8h-.8zM45.9 200.2h.8v.8h-.8zM59.7 215.8h.8v.8h-.8zM43.8 202.2h.8v.8h-.8zM35.0 200.3h.8v.8h-.8zM35.5 207.2h.8v.8h-.8zM38.8 211.4h.8v.8h-.8zM59.1 206.7h.8v.8h-.8zM42.3 205.4h.8v.8h-.8zM59.0 207.7h.8v.8h-.8zM61.7 210.0h.8v.8h-.8zM56.3 203.0h.8v.8h-.8zM61.0 198.6h.8v.8h-.8zM39.7 211.0h.8v.8h-.8zM37.7 198.8h.8v.8h-.8zM39.2 215.3h.8v.8h-.8zM32.1 202.6h.8v.8h-.8zM61.3 209.5h.8v.8h-.8zM38.1 205.9h.8v.8h-.8zM51.7 209.3h.8v.8h-.8zM40.6 214.8h.8v.8h-.8zM48.8 213.1h.8v.8h-.8zM45.4 196.7h.8v.8h-.8zM54.6 208.1h.8v.8h-.8zM37.9 197.4h.8v.8h-.8zM40.7 206.0h.8v.8h-.8zM35.9 198.4h.8v.8h-.8zM41.9 207.5h.8v.8h-.8zM58.2 196.6h.8v.8h-.8zM62.3 206.8h.8v.8h-.8zM32.0 211.2h.8v.8h-.8zM58.5 212.9h.8v.8h-.8zM55.0 215.0h.8v.8h-.8zM34.0 214.2h.8v.8h-.8zM36.6 202.8h.8v.8h-.8zM59.2 209.1h.8v.8h-.8zM37.7 198.9h.8v.8h-.8zM60.6 212.4h.8v.8h-.8zM48.8 197.7h.8v.8h-.8zM63.0 212.6h.8v.8h-.8zM47.7 211.0h.8v.8h-.8zM35.7 209.6h.8v.8h-.8zM50.9 211.1h.8v.8h-.8zM45.8 208.1h.8v.8h-.8zM33.8 200.3h.8v.8h-.8zM57.7 215.0h.8v.8h-.8zM60.3 211.5h.8v.8h-.8zM62.3 215.3h.8v.8h-.8zM52.1 200.9h.8v.8h-.8zM50.2 214.0h.8v.8h-.8zM37.7 206.2h.8v.8h-.8zM62.4 199.0h.8v.8h-.8zM55.0 210.1h.8v.8h-.8zM52.9 214.1h.8v.8h-.8zM53.7 211.1h.8v.8h-.8zM58.4 197.6h.8v.8h-.8zM42.5 214.5h.8v.8h-.8zM35.1 199.1h.8v.8h-.8zM63.2 214.0h.8v.8h-.8zM32.5 213.1h.8v.8h-.8zM40.2 201.0h.8v.8h-.8zM47.2 203.6h.8v.8h-.8zM32.8 210.0h.8v.8h-.8zM41.4 202.4h.8v.8h-.8zM59.4 213.4h.8v.8h-.8zM51.5 198.8h.8v.8h-.8zM50.2 204.9h.8v.8h-.8zM32.1 197.5h.8v.8h-.8zM45.2 204.5h.8v.8h-.8zM35.4 205.0h.8v.8h-.8zM43.9 199.2h.8v.8h-.8zM43.9 204.7h.8v.8h-.8zM45.1 214.7h.8v.8h-.8zM41.6 204.2h.8v.8h-.8zM56.5 210.5h.8v.8h-.8zM46.3 203.6h.8v.8h-.8zM60.6 196.4h.8v.8h-.8zM42.5 204.2h.8v.8h-.8zM36.1 199.7h.8v.8h-.8zM42.9 209.3h.8v.8h-.8zM59.4 216.2h.8v.8h-.8zM43.0 215.5h.8v.8h-.8zM57.8 216.0h.8v.8h-.8zM53.7 212.0h.8v.8h-.8zM39.8 211.0h.8v.8h-.8zM37.6 210.0h.8v.8h-.8zM35.1 203.3h.8v.8h-.8zM45.9 201.4h.8v.8h-.8zM53.7 201.0h.8v.8h-.8zM40.9 201.4h.8v.8h-.8zM62.0 199.3h.8v.8h-.8zM32.0 202.0h.8v.8h-.8zM56.6 207.2h.8v.8h-.8zM36.9 208.1h.8v.8h-.8zM63.4 214.8h.8v.8h-.8zM34.6 216.1h.8v.8h-.8zM61.0 199.3h.8v.8h-.8zM44.3 213.4h.8v.8h-.8zM40.7 199.1h.8v.8h-.8zM32.8 208.4h.8v.8h-.8zM38.5 215.2h.8v.8h-.8zM43.8 199.8h.8v.8h-.8zM61.4 202.1h.8v.8h-.8zM62.5 196.4h.8v.8h-.8zM34.0 205.6h.8v.8h-.8zM49.5 197.8h.8v.8h-.8zM32.5 206.3h.8v.8h-.8zM34.8 211.2h.8v.8h-.8zM51.2 208.4h.8v.8h-.8zM48.4 203.2h.8v.8h-.8zM60.3 198.6h.8v.8h-.8zM60.4 200.1h.8v.8h-.8zM36.6 197.8h.8v.8h-.8zM51.8 205.7h.8v.8h-.8zM57.3 207.2h.8v.8h-.8zM56.2 205.9h.8v.8h-.8zM49.7 197.7h.8v.8h-.8zM47.9 209.1h.8v.8h-.8zM49.8 215.2h.8v.8h-.8zM44.7 208.6h.8v.8h-.8zM49.6 203.4h.8v.8h-.8zM60.0 199.7h.8v.8h-.8zM42.6 197.5h.8v.8h-.8zM45.6 202.6h.8v.8h-.8zM45.5 200.1h.8v.8h-.8zM59.2 200.2h.8v.8h-.8zM39.3 200.2h.8v.8h-.8zM45.6 204.4h.8v.8h-.8zM55.5 197.5h.8v.8h-.8zM44.1 198.6h.8v.8h-.8zM58.9 216.2h.8v.8h-.8zM48.7 214.0h.8v.8h-.8zM34.7 196.6h.8v.8h-.8zM43.2 203.1h.8v.8h-.8zM36.2 213.6h.8v.8h-.8zM45.6 198.2h.8v.8h-.8zM43.2 214.6h.8v.8h-.8zM42.4 205.6h.8v.8h-.8zM58.0 208.6h.8v.8h-.8zM60.2 210.6h.8v.8h-.8zM55.7 211.6h.8v.8h-.8zM56.0 214.7h.8v.8h-.8zM60.1 208.9h.8v.8h-.8zM60.9 214.4h.8v.8h-.8zM37.1 203.9h.8v.8h-.8zM60.2 210.0h.8v.8h-.8zM36.7 201.1h.8v.8h-.8zM40.2 197.6h.8v.8h-.8zM56.8 198.7h.8v.8h-.8zM36.1 201.6h.8v.8h-.8zM62.4 200.8h.8v.8h-.8zM61.3 214.6h.8v.8h-.8zM31.5 197.0h.8v.8h-.8zM51.9 204.9h.8v.8h-.8zM61.1 205.5h.8v.8h-.8zM48.8 202.9h.8v.8h-.8zM48.7 212.7h.8v.8h-.8zM50.3 207.0h.8v.8h-.8zM49.2 214.0h.8v.8h-.8zM50.1 198.0h.8v.8h-.8zM53.3 206.4h.8v.8h-.8zM62.1 213.8h.8v.8h-.8zM34.1 197.0h.8v.8h-.8zM39.0 204.8h.8v.8h-.8zM31.7 201.3h.8v.8h-.8zM33.6 200.3h.8v.8h-.8zM38.0 202.5h.8v.8h-.8zM60.4 207.5h.8v.8h-.8zM41.6 210.8h.8v.8h-.8zM50.7 215.4h.8v.8h-.8zM41.5 203.9h.8v.8h-.8zM63.1 214.2h.8v.8h-.8zM37.7 209.0h.8v.8h-.8zM44.1 198.6h.8v.8h-.8zM43.3 198.3h.8v.8h-.8zM38.3 200.0h.8v.8h-.8zM33.9 212.5h.8v.8h-.8zM44.0 197.6h.8v.8h-.8zM38.0 213.6h.8v.8h-.8zM32.3 198.0h.8v.8h-.8zM59.8 201.4h.8v.8h-.8zM42.5 197.0h.8v.8h-.8zM31.9 196.7h.8v.8h-.8zM51.2 205.9h.8v.8h-.8zM46.8 210.2h.8v.8h-.8zM53.6 198.0h.8v.8h-.8zM43.0 210.1h.8v.8h-.8zM36.0 209.7h.8v.8h-.8zM52.0 205.0h.8v.8h-.8zM44.2 213.6h.8v.8h-.8zM59.6 207.3h.8v.8h-.8zM42.0 213.6h.8v.8h-.8zM38.6 207.3h.8v.8h-.8zM37.5 198.3h.8v.8h-.8zM39.7 198.0h.8v.8h-.8zM39.1 197.2h.8v.8h-.8zM48.2 201.9h.8v.8h-.8zM43.4 201.5h.8v.8h-.8zM62.5 207.9h.8v.8h-.8zM38.0 198.5h.8v.8h-.8zM61.6 213.7h.8v.8h-.8zM42.2 213.1h.8v.8h-.8zM47.0 214.0h.8v.8h-.8zM62.2 208.2h.8v.8h-.8z"/><polygon points="66.5,164.5 84.3,173.3 84.3,192.0 67.0,202.0 47.5,192.0 47.5,173.0" fill="none" stroke="#777" stroke-width="0.8"/><rect x="28.5" y="144.5" width="76.8" height="71.9" fill="none" stroke="#9a9a9a" stroke-width="1.4"/><rect x="30.3" y="158.70000000000002" width="35.5" height="4.6" fill="#fff" stroke="#ccc" stroke-width="0.4" fill-opacity="0.7"/><text x="30.7" y="162.3" font-size="4.45" text-anchor="start" fill="#333">CD107a+CD154+</text><text x="74.22" y="162.70" font-size="13.14" fill="#000">7.2%</text><clipPath id="cc2"><rect x="28.5" y="217.3" width="76.8" height="72.30000000000001"/></clipPath><path fill="#666" fill-opacity="0.35" clip-path="url(#cc2)" d="M37.9 287.7h.7v.7h-.7zM52.4 284.0h.7v.7h-.7zM53.7 282.1h.7v.7h-.7zM44.0 289.5h.7v.7h-.7zM36.2 286.2h.7v.7h-.7zM47.0 278.2h.7v.7h-.7zM52.0 284.7h.7v.7h-.7zM38.4 276.0h.7v.7h-.7zM51.2 270.6h.7v.7h-.7zM40.9 288.9h.7v.7h-.7zM28.5 283.8h.7v.7h-.7zM28.6 288.2h.7v.7h-.7zM59.0 288.7h.7v.7h-.7zM40.5 279.4h.7v.7h-.7zM35.6 283.9h.7v.7h-.7zM48.6 274.9h.7v.7h-.7zM31.6 280.7h.7v.7h-.7zM32.5 269.9h.7v.7h-.7zM38.4 280.4h.7v.7h-.7zM46.9 274.5h.7v.7h-.7zM41.2 285.2h.7v.7h-.7zM46.0 287.7h.7v.7h-.7zM36.2 276.3h.7v.7h-.7zM34.5 286.3h.7v.7h-.7zM33.7 272.3h.7v.7h-.7zM32.3 277.1h.7v.7h-.7zM36.4 287.4h.7v.7h-.7zM64.7 285.2h.7v.7h-.7zM62.6 264.0h.7v.7h-.7zM49.5 284.7h.7v.7h-.7zM34.3 282.5h.7v.7h-.7zM29.2 273.1h.7v.7h-.7zM38.2 258.1h.7v.7h-.7zM33.0 283.7h.7v.7h-.7zM50.4 274.6h.7v.7h-.7zM54.0 272.1h.7v.7h-.7zM31.1 270.7h.7v.7h-.7zM58.9 276.0h.7v.7h-.7zM43.1 268.3h.7v.7h-.7zM48.0 279.0h.7v.7h-.7zM91.0 282.5h.7v.7h-.7zM57.0 266.4h.7v.7h-.7zM32.9 279.2h.7v.7h-.7zM31.8 279.5h.7v.7h-.7zM30.0 272.6h.7v.7h-.7zM35.6 277.3h.7v.7h-.7zM41.4 271.6h.7v.7h-.7zM43.6 282.8h.7v.7h-.7zM60.2 287.6h.7v.7h-.7zM28.5 280.0h.7v.7h-.7zM43.5 279.4h.7v.7h-.7zM58.2 277.7h.7v.7h-.7zM31.4 284.2h.7v.7h-.7zM50.9 271.9h.7v.7h-.7zM53.1 284.2h.7v.7h-.7zM70.0 285.3h.7v.7h-.7zM37.8 272.1h.7v.7h-.7zM52.4 276.7h.7v.7h-.7zM31.0 259.0h.7v.7h-.7zM28.6 268.4h.7v.7h-.7zM31.6 277.5h.7v.7h-.7zM47.6 275.3h.7v.7h-.7zM45.2 281.0h.7v.7h-.7zM76.6 284.0h.7v.7h-.7zM52.6 273.5h.7v.7h-.7zM37.9 277.6h.7v.7h-.7zM39.0 286.8h.7v.7h-.7zM53.6 279.2h.7v.7h-.7zM33.7 287.6h.7v.7h-.7zM53.6 276.0h.7v.7h-.7zM52.8 286.2h.7v.7h-.7zM29.1 271.6h.7v.7h-.7zM44.4 266.7h.7v.7h-.7zM55.1 270.9h.7v.7h-.7zM32.0 278.8h.7v.7h-.7zM37.4 261.7h.7v.7h-.7zM57.3 282.0h.7v.7h-.7zM37.2 287.3h.7v.7h-.7zM54.3 259.4h.7v.7h-.7zM32.3 250.9h.7v.7h-.7zM32.4 264.9h.7v.7h-.7zM33.2 278.2h.7v.7h-.7zM33.4 286.1h.7v.7h-.7zM37.3 275.2h.7v.7h-.7zM41.1 265.7h.7v.7h-.7zM31.3 281.7h.7v.7h-.7zM40.6 270.0h.7v.7h-.7zM33.6 279.7h.7v.7h-.7zM29.6 276.0h.7v.7h-.7zM33.6 261.4h.7v.7h-.7zM32.5 258.7h.7v.7h-.7zM33.0 285.3h.7v.7h-.7zM59.4 284.0h.7v.7h-.7zM29.1 262.8h.7v.7h-.7zM39.6 287.4h.7v.7h-.7zM34.2 265.0h.7v.7h-.7zM40.0 281.6h.7v.7h-.7zM32.5 263.9h.7v.7h-.7zM31.6 281.1h.7v.7h-.7zM33.5 277.0h.7v.7h-.7zM31.0 279.8h.7v.7h-.7zM35.1 283.6h.7v.7h-.7zM36.1 274.0h.7v.7h-.7zM58.4 271.9h.7v.7h-.7zM48.1 284.5h.7v.7h-.7zM76.2 275.8h.7v.7h-.7zM42.5 278.7h.7v.7h-.7zM48.0 283.3h.7v.7h-.7zM51.5 270.2h.7v.7h-.7zM30.7 265.1h.7v.7h-.7zM48.7 280.7h.7v.7h-.7zM29.6 277.4h.7v.7h-.7zM31.1 279.9h.7v.7h-.7zM56.7 284.8h.7v.7h-.7zM43.0 279.7h.7v.7h-.7zM39.6 279.7h.7v.7h-.7zM44.6 280.4h.7v.7h-.7zM57.9 287.7h.7v.7h-.7zM37.4 243.1h.7v.7h-.7zM34.8 267.8h.7v.7h-.7zM33.0 276.3h.7v.7h-.7zM42.8 273.0h.7v.7h-.7zM59.9 242.7h.7v.7h-.7zM42.5 271.8h.7v.7h-.7zM54.8 279.0h.7v.7h-.7zM34.6 284.0h.7v.7h-.7zM31.5 287.8h.7v.7h-.7zM32.2 281.4h.7v.7h-.7zM32.0 284.9h.7v.7h-.7zM36.7 285.0h.7v.7h-.7zM45.7 289.4h.7v.7h-.7zM44.0 282.7h.7v.7h-.7zM59.0 276.0h.7v.7h-.7zM29.2 265.3h.7v.7h-.7zM35.0 276.1h.7v.7h-.7zM43.2 288.8h.7v.7h-.7zM57.6 284.6h.7v.7h-.7zM39.5 253.1h.7v.7h-.7zM41.1 262.7h.7v.7h-.7zM42.1 263.2h.7v.7h-.7zM41.8 276.8h.7v.7h-.7zM29.1 278.9h.7v.7h-.7zM29.0 280.8h.7v.7h-.7zM45.8 283.9h.7v.7h-.7zM34.8 255.3h.7v.7h-.7zM45.8 283.4h.7v.7h-.7zM31.0 285.6h.7v.7h-.7zM38.0 278.3h.7v.7h-.7zM31.6 285.8h.7v.7h-.7zM31.4 285.5h.7v.7h-.7zM31.6 282.1h.7v.7h-.7zM31.1 279.7h.7v.7h-.7zM45.8 278.5h.7v.7h-.7zM54.7 258.2h.7v.7h-.7zM48.2 277.0h.7v.7h-.7zM40.4 269.6h.7v.7h-.7zM32.0 287.8h.7v.7h-.7zM55.9 265.8h.7v.7h-.7zM30.8 280.3h.7v.7h-.7zM43.8 280.8h.7v.7h-.7zM81.2 283.7h.7v.7h-.7zM47.3 286.8h.7v.7h-.7zM46.3 284.0h.7v.7h-.7zM44.9 278.3h.7v.7h-.7zM48.4 289.1h.7v.7h-.7zM66.7 284.1h.7v.7h-.7zM32.6 277.0h.7v.7h-.7zM43.7 288.9h.7v.7h-.7zM50.9 268.5h.7v.7h-.7zM40.2 284.5h.7v.7h-.7zM38.4 288.8h.7v.7h-.7zM46.9 276.2h.7v.7h-.7zM35.3 268.0h.7v.7h-.7zM37.3 282.5h.7v.7h-.7zM53.9 275.7h.7v.7h-.7zM68.0 278.3h.7v.7h-.7zM37.2 284.1h.7v.7h-.7zM42.4 273.1h.7v.7h-.7zM43.3 267.9h.7v.7h-.7zM30.3 283.1h.7v.7h-.7zM51.8 287.5h.7v.7h-.7zM33.8 282.5h.7v.7h-.7zM34.3 287.5h.7v.7h-.7zM29.6 273.4h.7v.7h-.7zM31.0 285.4h.7v.7h-.7zM32.7 271.2h.7v.7h-.7zM30.9 270.3h.7v.7h-.7zM58.0 266.9h.7v.7h-.7zM41.2 279.3h.7v.7h-.7zM38.8 257.1h.7v.7h-.7zM35.2 273.6h.7v.7h-.7zM38.2 278.2h.7v.7h-.7zM35.1 235.0h.7v.7h-.7zM44.7 289.4h.7v.7h-.7zM53.0 274.3h.7v.7h-.7zM32.6 283.3h.7v.7h-.7zM32.2 261.9h.7v.7h-.7zM34.1 288.4h.7v.7h-.7zM30.9 279.5h.7v.7h-.7zM64.2 274.5h.7v.7h-.7zM32.9 286.3h.7v.7h-.7zM30.6 264.8h.7v.7h-.7zM54.5 280.9h.7v.7h-.7zM30.7 286.3h.7v.7h-.7zM55.6 259.3h.7v.7h-.7zM35.9 284.4h.7v.7h-.7zM38.6 270.1h.7v.7h-.7zM33.0 276.6h.7v.7h-.7zM43.5 278.7h.7v.7h-.7zM45.4 283.2h.7v.7h-.7zM36.1 274.6h.7v.7h-.7zM51.2 259.2h.7v.7h-.7zM42.5 271.9h.7v.7h-.7zM41.6 286.7h.7v.7h-.7zM45.8 247.5h.7v.7h-.7zM31.3 285.5h.7v.7h-.7zM41.3 276.6h.7v.7h-.7zM35.7 279.2h.7v.7h-.7zM45.3 273.2h.7v.7h-.7zM57.0 275.1h.7v.7h-.7zM51.1 259.3h.7v.7h-.7zM61.6 285.4h.7v.7h-.7zM37.6 256.8h.7v.7h-.7zM56.2 258.9h.7v.7h-.7zM29.5 287.7h.7v.7h-.7zM32.5 283.1h.7v.7h-.7zM36.8 278.2h.7v.7h-.7zM67.9 281.2h.7v.7h-.7zM30.9 271.7h.7v.7h-.7zM29.7 263.2h.7v.7h-.7zM45.0 286.5h.7v.7h-.7zM30.2 262.6h.7v.7h-.7zM45.7 266.7h.7v.7h-.7zM41.8 264.6h.7v.7h-.7zM32.6 269.0h.7v.7h-.7zM49.5 280.2h.7v.7h-.7zM34.8 276.3h.7v.7h-.7zM39.4 274.0h.7v.7h-.7zM72.1 259.4h.7v.7h-.7zM44.1 275.9h.7v.7h-.7zM35.7 263.5h.7v.7h-.7zM53.1 278.1h.7v.7h-.7zM46.6 272.7h.7v.7h-.7zM47.1 274.0h.7v.7h-.7zM38.6 266.8h.7v.7h-.7zM40.0 264.7h.7v.7h-.7zM47.5 279.0h.7v.7h-.7zM32.2 287.5h.7v.7h-.7zM51.6 281.6h.7v.7h-.7zM54.7 286.8h.7v.7h-.7zM32.9 289.4h.7v.7h-.7zM38.3 288.6h.7v.7h-.7zM33.7 287.4h.7v.7h-.7zM62.8 279.5h.7v.7h-.7zM44.7 280.9h.7v.7h-.7zM31.8 289.6h.7v.7h-.7zM46.4 284.7h.7v.7h-.7zM52.8 283.3h.7v.7h-.7zM44.3 276.1h.7v.7h-.7zM52.9 282.4h.7v.7h-.7z"/><g clip-path="url(#cc2)"><ellipse cx="47.25" cy="283.2" rx="18.3" ry="16.3" fill="#999" opacity="0.45" filter="url(#b2)"/><ellipse cx="47.25" cy="283.2" rx="14.8" ry="12.8" fill="#8c8c8c" stroke="#2a2a2a" stroke-width="3.6" filter="url(#b05)"/><ellipse cx="52.0" cy="279.3" rx="8.8" ry="6.8" fill="#e6e6e6" stroke="none" filter="url(#b05)"/><ellipse cx="52.0" cy="279.3" rx="6.4" ry="4.6" fill="#333" stroke="#333" stroke-width="0.8" filter="url(#b05)"/><path fill="#222" fill-opacity="0.5" d="M55.9 288.5h.8v.8h-.8zM47.1 295.0h.8v.8h-.8zM54.8 291.6h.8v.8h-.8zM57.1 273.6h.8v.8h-.8zM43.9 294.4h.8v.8h-.8zM37.4 271.8h.8v.8h-.8zM60.9 283.9h.8v.8h-.8zM41.6 275.3h.8v.8h-.8zM58.4 280.4h.8v.8h-.8zM47.7 269.8h.8v.8h-.8zM48.2 273.7h.8v.8h-.8zM33.3 290.0h.8v.8h-.8zM35.6 284.6h.8v.8h-.8zM60.4 275.1h.8v.8h-.8zM47.9 290.4h.8v.8h-.8zM32.4 282.8h.8v.8h-.8zM45.7 273.1h.8v.8h-.8zM42.4 290.1h.8v.8h-.8zM34.2 285.2h.8v.8h-.8zM54.0 284.5h.8v.8h-.8zM43.5 276.1h.8v.8h-.8zM54.9 294.8h.8v.8h-.8zM46.6 294.1h.8v.8h-.8zM48.9 292.3h.8v.8h-.8zM45.6 276.2h.8v.8h-.8zM40.4 287.5h.8v.8h-.8zM56.6 282.9h.8v.8h-.8zM50.9 273.3h.8v.8h-.8zM52.7 280.7h.8v.8h-.8zM43.8 276.0h.8v.8h-.8zM48.7 293.2h.8v.8h-.8zM40.2 295.3h.8v.8h-.8zM37.1 293.4h.8v.8h-.8zM52.0 296.5h.8v.8h-.8zM38.1 284.9h.8v.8h-.8zM49.3 276.6h.8v.8h-.8zM32.0 281.4h.8v.8h-.8zM54.4 293.8h.8v.8h-.8zM46.2 274.9h.8v.8h-.8zM58.7 281.0h.8v.8h-.8zM31.5 285.4h.8v.8h-.8zM56.8 293.4h.8v.8h-.8zM45.3 269.4h.8v.8h-.8zM35.3 280.6h.8v.8h-.8zM50.4 276.0h.8v.8h-.8zM37.2 276.4h.8v.8h-.8zM52.6 278.4h.8v.8h-.8zM55.0 283.8h.8v.8h-.8zM42.9 278.0h.8v.8h-.8zM39.5 278.2h.8v.8h-.8zM48.8 276.0h.8v.8h-.8zM49.2 291.5h.8v.8h-.8zM35.1 276.9h.8v.8h-.8zM45.7 295.2h.8v.8h-.8zM47.4 277.8h.8v.8h-.8zM60.8 289.6h.8v.8h-.8zM55.6 294.2h.8v.8h-.8zM62.4 278.5h.8v.8h-.8zM46.5 275.2h.8v.8h-.8zM47.1 295.7h.8v.8h-.8zM42.3 293.5h.8v.8h-.8zM34.2 288.2h.8v.8h-.8zM48.9 296.8h.8v.8h-.8zM51.9 288.0h.8v.8h-.8zM62.3 280.7h.8v.8h-.8zM50.9 296.2h.8v.8h-.8zM47.1 271.3h.8v.8h-.8zM45.0 273.5h.8v.8h-.8zM46.1 272.2h.8v.8h-.8zM44.6 289.9h.8v.8h-.8zM49.8 295.6h.8v.8h-.8zM37.7 275.8h.8v.8h-.8zM60.3 282.9h.8v.8h-.8zM36.3 291.1h.8v.8h-.8zM48.7 289.6h.8v.8h-.8zM40.6 282.9h.8v.8h-.8zM50.1 289.5h.8v.8h-.8zM43.1 288.3h.8v.8h-.8zM45.9 270.3h.8v.8h-.8zM47.6 290.2h.8v.8h-.8zM36.7 286.3h.8v.8h-.8zM38.7 273.8h.8v.8h-.8zM52.5 290.3h.8v.8h-.8zM57.0 294.0h.8v.8h-.8zM62.8 280.2h.8v.8h-.8zM54.9 276.0h.8v.8h-.8zM57.1 275.6h.8v.8h-.8zM33.9 277.5h.8v.8h-.8zM30.8 282.8h.8v.8h-.8zM58.2 290.9h.8v.8h-.8zM48.0 293.5h.8v.8h-.8zM52.3 286.9h.8v.8h-.8zM33.8 280.8h.8v.8h-.8zM34.5 287.9h.8v.8h-.8zM53.9 294.0h.8v.8h-.8zM56.0 288.6h.8v.8h-.8zM33.4 277.2h.8v.8h-.8zM55.6 292.1h.8v.8h-.8zM58.4 284.0h.8v.8h-.8zM48.7 291.4h.8v.8h-.8zM49.3 278.0h.8v.8h-.8zM39.4 272.9h.8v.8h-.8zM36.9 282.2h.8v.8h-.8zM49.6 296.4h.8v.8h-.8zM37.0 285.0h.8v.8h-.8zM57.6 283.8h.8v.8h-.8zM40.5 294.7h.8v.8h-.8zM36.2 284.4h.8v.8h-.8zM61.0 290.9h.8v.8h-.8zM35.9 277.8h.8v.8h-.8zM32.2 288.1h.8v.8h-.8zM54.7 285.5h.8v.8h-.8zM51.2 287.8h.8v.8h-.8zM41.3 283.6h.8v.8h-.8zM59.7 275.1h.8v.8h-.8zM58.6 286.9h.8v.8h-.8zM33.9 278.4h.8v.8h-.8zM44.5 293.9h.8v.8h-.8zM34.8 292.3h.8v.8h-.8zM60.6 277.1h.8v.8h-.8zM38.9 275.5h.8v.8h-.8zM45.4 290.6h.8v.8h-.8zM36.6 286.1h.8v.8h-.8zM58.4 282.1h.8v.8h-.8zM54.6 276.2h.8v.8h-.8zM34.5 288.8h.8v.8h-.8zM32.2 280.7h.8v.8h-.8zM32.5 286.6h.8v.8h-.8zM52.5 289.5h.8v.8h-.8zM55.6 281.7h.8v.8h-.8zM49.1 295.2h.8v.8h-.8zM50.0 295.5h.8v.8h-.8zM58.7 291.4h.8v.8h-.8zM62.0 278.3h.8v.8h-.8zM56.4 278.5h.8v.8h-.8zM42.7 278.6h.8v.8h-.8zM36.4 281.5h.8v.8h-.8zM38.1 278.8h.8v.8h-.8zM42.0 288.0h.8v.8h-.8zM58.0 275.5h.8v.8h-.8zM35.6 279.4h.8v.8h-.8zM55.6 274.0h.8v.8h-.8zM41.9 270.5h.8v.8h-.8zM41.6 273.0h.8v.8h-.8zM39.8 271.3h.8v.8h-.8zM49.7 270.3h.8v.8h-.8zM52.2 273.1h.8v.8h-.8zM41.7 272.5h.8v.8h-.8zM42.0 292.6h.8v.8h-.8zM46.3 292.9h.8v.8h-.8zM52.1 295.0h.8v.8h-.8zM55.5 274.1h.8v.8h-.8zM36.3 284.1h.8v.8h-.8zM61.0 283.2h.8v.8h-.8zM36.9 276.8h.8v.8h-.8zM52.3 278.1h.8v.8h-.8zM60.0 277.0h.8v.8h-.8zM58.7 279.2h.8v.8h-.8zM58.1 273.0h.8v.8h-.8zM54.3 295.4h.8v.8h-.8zM39.5 282.5h.8v.8h-.8zM44.7 275.0h.8v.8h-.8zM38.4 273.6h.8v.8h-.8zM41.6 289.2h.8v.8h-.8zM62.0 286.2h.8v.8h-.8zM58.2 275.7h.8v.8h-.8zM50.1 269.4h.8v.8h-.8zM54.5 276.2h.8v.8h-.8zM36.6 291.2h.8v.8h-.8zM47.4 294.7h.8v.8h-.8zM55.1 273.1h.8v.8h-.8zM38.1 271.7h.8v.8h-.8zM41.9 275.1h.8v.8h-.8zM56.4 284.9h.8v.8h-.8zM59.0 291.3h.8v.8h-.8zM48.3 276.1h.8v.8h-.8zM56.8 275.8h.8v.8h-.8zM37.6 294.2h.8v.8h-.8zM57.9 273.6h.8v.8h-.8zM53.3 294.2h.8v.8h-.8zM42.0 280.7h.8v.8h-.8zM37.7 294.7h.8v.8h-.8zM35.6 281.0h.8v.8h-.8zM50.6 291.5h.8v.8h-.8zM42.1 287.3h.8v.8h-.8zM39.3 284.9h.8v.8h-.8zM41.4 280.5h.8v.8h-.8zM50.9 294.0h.8v.8h-.8zM38.5 277.3h.8v.8h-.8zM49.7 291.8h.8v.8h-.8zM62.2 281.2h.8v.8h-.8zM47.6 289.4h.8v.8h-.8zM56.2 289.6h.8v.8h-.8zM45.3 296.1h.8v.8h-.8zM33.4 277.7h.8v.8h-.8zM33.8 287.3h.8v.8h-.8zM40.5 274.0h.8v.8h-.8zM53.8 287.8h.8v.8h-.8zM37.6 288.3h.8v.8h-.8zM33.7 278.9h.8v.8h-.8zM61.9 281.2h.8v.8h-.8zM57.4 275.6h.8v.8h-.8zM33.0 277.3h.8v.8h-.8zM43.2 293.9h.8v.8h-.8zM58.8 292.0h.8v.8h-.8zM36.6 273.1h.8v.8h-.8zM39.4 280.3h.8v.8h-.8zM39.1 284.3h.8v.8h-.8zM44.2 269.2h.8v.8h-.8zM37.3 285.1h.8v.8h-.8zM49.4 273.1h.8v.8h-.8zM44.5 293.0h.8v.8h-.8zM40.0 295.0h.8v.8h-.8zM52.4 280.5h.8v.8h-.8zM36.4 278.1h.8v.8h-.8zM58.8 280.3h.8v.8h-.8zM54.2 285.7h.8v.8h-.8zM57.8 278.5h.8v.8h-.8zM61.9 288.0h.8v.8h-.8zM47.2 277.4h.8v.8h-.8zM38.8 279.2h.8v.8h-.8zM56.9 291.2h.8v.8h-.8zM43.1 293.7h.8v.8h-.8zM32.7 284.8h.8v.8h-.8zM37.2 279.9h.8v.8h-.8zM39.4 283.7h.8v.8h-.8zM58.1 284.8h.8v.8h-.8zM62.5 282.8h.8v.8h-.8zM40.2 291.3h.8v.8h-.8zM45.3 273.5h.8v.8h-.8zM60.7 277.6h.8v.8h-.8zM60.3 281.4h.8v.8h-.8zM50.5 289.6h.8v.8h-.8zM55.9 277.2h.8v.8h-.8zM31.4 282.1h.8v.8h-.8zM43.7 278.7h.8v.8h-.8zM47.6 295.9h.8v.8h-.8zM53.6 290.2h.8v.8h-.8zM34.4 277.2h.8v.8h-.8zM54.2 279.0h.8v.8h-.8zM35.2 289.0h.8v.8h-.8zM62.1 279.3h.8v.8h-.8zM45.3 277.4h.8v.8h-.8zM63.4 284.9h.8v.8h-.8zM54.2 280.5h.8v.8h-.8zM51.8 286.6h.8v.8h-.8zM49.9 296.1h.8v.8h-.8zM35.7 279.0h.8v.8h-.8zM53.2 281.1h.8v.8h-.8zM56.4 292.2h.8v.8h-.8zM43.6 293.5h.8v.8h-.8zM63.1 287.2h.8v.8h-.8zM61.2 290.6h.8v.8h-.8zM33.1 288.9h.8v.8h-.8zM36.0 278.2h.8v.8h-.8zM32.1 282.3h.8v.8h-.8zM61.1 286.9h.8v.8h-.8zM38.3 286.9h.8v.8h-.8zM33.6 287.6h.8v.8h-.8zM56.6 279.7h.8v.8h-.8z"/><path fill="#fff" fill-opacity="0.5" d="M55.0 288.0h.7v.7h-.7zM47.1 293.8h.7v.7h-.7zM54.0 290.7h.7v.7h-.7zM56.1 274.5h.7v.7h-.7zM44.2 293.3h.7v.7h-.7zM38.4 272.9h.7v.7h-.7zM59.5 283.9h.7v.7h-.7zM42.1 276.1h.7v.7h-.7zM57.2 280.6h.7v.7h-.7zM47.7 271.2h.7v.7h-.7zM48.1 274.7h.7v.7h-.7zM34.7 289.4h.7v.7h-.7zM36.7 284.5h.7v.7h-.7zM59.1 275.9h.7v.7h-.7zM47.9 289.6h.7v.7h-.7zM33.9 282.8h.7v.7h-.7zM45.9 274.1h.7v.7h-.7zM42.8 289.4h.7v.7h-.7zM35.5 285.0h.7v.7h-.7zM53.3 284.4h.7v.7h-.7zM43.9 276.8h.7v.7h-.7zM54.1 293.6h.7v.7h-.7zM46.6 293.0h.7v.7h-.7zM48.8 291.4h.7v.7h-.7zM45.8 276.9h.7v.7h-.7zM41.1 287.1h.7v.7h-.7zM55.7 282.9h.7v.7h-.7zM50.5 274.3h.7v.7h-.7zM52.2 281.0h.7v.7h-.7zM44.1 276.7h.7v.7h-.7zM48.6 292.2h.7v.7h-.7zM40.9 294.1h.7v.7h-.7zM38.1 292.3h.7v.7h-.7zM51.5 295.2h.7v.7h-.7zM39.0 284.7h.7v.7h-.7zM49.1 277.2h.7v.7h-.7zM33.5 281.6h.7v.7h-.7zM53.7 292.7h.7v.7h-.7zM46.3 275.8h.7v.7h-.7zM57.5 281.2h.7v.7h-.7zM33.0 285.2h.7v.7h-.7zM55.8 292.4h.7v.7h-.7zM45.5 270.8h.7v.7h-.7zM36.5 280.9h.7v.7h-.7zM50.1 276.7h.7v.7h-.7zM38.2 277.1h.7v.7h-.7zM52.1 278.8h.7v.7h-.7zM54.3 283.7h.7v.7h-.7zM43.4 278.5h.7v.7h-.7zM40.3 278.7h.7v.7h-.7zM48.6 276.7h.7v.7h-.7zM49.0 290.6h.7v.7h-.7zM36.3 277.6h.7v.7h-.7zM45.9 294.0h.7v.7h-.7zM47.4 278.3h.7v.7h-.7zM59.5 289.0h.7v.7h-.7zM54.7 293.1h.7v.7h-.7zM60.9 279.0h.7v.7h-.7zM46.6 276.0h.7v.7h-.7zM47.1 294.4h.7v.7h-.7zM42.8 292.5h.7v.7h-.7zM35.5 287.7h.7v.7h-.7zM48.7 295.5h.7v.7h-.7zM51.4 287.5h.7v.7h-.7zM60.8 281.0h.7v.7h-.7zM50.6 294.9h.7v.7h-.7zM47.1 272.5h.7v.7h-.7zM45.2 274.5h.7v.7h-.7zM46.2 273.3h.7v.7h-.7zM44.8 289.2h.7v.7h-.7zM49.5 294.4h.7v.7h-.7zM38.6 276.5h.7v.7h-.7zM59.0 282.9h.7v.7h-.7zM37.4 290.4h.7v.7h-.7zM48.6 289.0h.7v.7h-.7zM41.3 282.9h.7v.7h-.7zM49.9 288.9h.7v.7h-.7zM43.5 287.8h.7v.7h-.7zM46.0 271.5h.7v.7h-.7zM47.6 289.5h.7v.7h-.7zM37.8 286.0h.7v.7h-.7zM39.5 274.8h.7v.7h-.7zM52.0 289.6h.7v.7h-.7zM56.1 292.9h.7v.7h-.7zM61.2 280.5h.7v.7h-.7zM54.1 276.7h.7v.7h-.7zM56.1 276.4h.7v.7h-.7zM35.2 278.1h.7v.7h-.7zM32.5 282.8h.7v.7h-.7zM57.1 290.1h.7v.7h-.7zM47.9 292.4h.7v.7h-.7zM51.8 286.5h.7v.7h-.7zM35.2 281.1h.7v.7h-.7zM35.8 287.4h.7v.7h-.7zM53.2 292.9h.7v.7h-.7zM55.2 288.1h.7v.7h-.7zM34.8 277.8h.7v.7h-.7zM54.8 291.2h.7v.7h-.7zM57.3 283.9h.7v.7h-.7zM48.6 290.6h.7v.7h-.7zM49.1 278.5h.7v.7h-.7zM40.2 273.9h.7v.7h-.7zM37.9 282.3h.7v.7h-.7zM49.4 295.1h.7v.7h-.7zM38.0 284.9h.7v.7h-.7zM56.5 283.7h.7v.7h-.7zM41.1 293.5h.7v.7h-.7zM37.3 284.3h.7v.7h-.7zM59.7 290.2h.7v.7h-.7zM37.0 278.3h.7v.7h-.7zM33.7 287.6h.7v.7h-.7zM53.9 285.2h.7v.7h-.7zM50.8 287.3h.7v.7h-.7zM41.9 283.5h.7v.7h-.7zM58.5 275.9h.7v.7h-.7zM57.5 286.5h.7v.7h-.7zM35.2 278.9h.7v.7h-.7zM44.8 292.8h.7v.7h-.7zM36.0 291.4h.7v.7h-.7zM59.3 277.7h.7v.7h-.7zM39.7 276.3h.7v.7h-.7zM45.6 289.8h.7v.7h-.7zM37.6 285.8h.7v.7h-.7zM57.3 282.2h.7v.7h-.7zM53.9 276.9h.7v.7h-.7zM35.7 288.2h.7v.7h-.7zM33.7 281.0h.7v.7h-.7zM34.0 286.3h.7v.7h-.7zM52.0 288.9h.7v.7h-.7zM54.8 281.9h.7v.7h-.7zM48.9 294.0h.7v.7h-.7zM49.8 294.3h.7v.7h-.7zM57.6 290.6h.7v.7h-.7zM60.6 278.8h.7v.7h-.7zM55.5 279.0h.7v.7h-.7zM43.1 279.1h.7v.7h-.7zM37.5 281.7h.7v.7h-.7zM39.0 279.2h.7v.7h-.7zM42.5 287.6h.7v.7h-.7zM57.0 276.2h.7v.7h-.7zM36.7 279.8h.7v.7h-.7zM54.8 274.9h.7v.7h-.7zM42.5 271.8h.7v.7h-.7zM42.2 274.0h.7v.7h-.7zM40.5 272.4h.7v.7h-.7zM49.5 271.6h.7v.7h-.7zM51.7 274.1h.7v.7h-.7zM42.3 273.6h.7v.7h-.7zM42.6 291.7h.7v.7h-.7zM46.4 291.9h.7v.7h-.7z"/></g><polygon points="67.5,236.9 84.4,246.5 84.4,265.4 66.3,274.5 47.2,265.4 47.2,246.3" fill="none" stroke="#777" stroke-width="0.8"/><rect x="28.5" y="217.3" width="76.8" height="72.30000000000001" fill="none" stroke="#9a9a9a" stroke-width="1.4"/><rect x="28.8" y="232.0" width="35.5" height="4.6" fill="#fff" stroke="#ccc" stroke-width="0.4" fill-opacity="0.7"/><text x="29.2" y="235.6" font-size="4.45" text-anchor="start" fill="#333">CD107a+CD154+</text><text x="74.07" y="233.80" font-size="13.20" fill="#000">0.9%</text><clipPath id="cc3"><rect x="28.5" y="290.4" width="76.8" height="72.10000000000002"/></clipPath><path fill="#666" fill-opacity="0.35" clip-path="url(#cc3)" d="M41.0 343.8h.7v.7h-.7zM58.8 355.2h.7v.7h-.7zM32.0 341.6h.7v.7h-.7zM28.7 352.8h.7v.7h-.7zM70.5 348.2h.7v.7h-.7zM42.1 360.1h.7v.7h-.7zM37.7 330.1h.7v.7h-.7zM34.0 329.9h.7v.7h-.7zM47.2 360.9h.7v.7h-.7zM40.8 353.1h.7v.7h-.7zM39.3 341.6h.7v.7h-.7zM38.4 356.8h.7v.7h-.7zM45.8 361.3h.7v.7h-.7zM56.8 358.3h.7v.7h-.7zM36.5 345.0h.7v.7h-.7zM68.1 361.3h.7v.7h-.7zM60.9 344.5h.7v.7h-.7zM32.4 344.7h.7v.7h-.7zM37.8 355.7h.7v.7h-.7zM31.4 356.2h.7v.7h-.7zM61.6 341.6h.7v.7h-.7zM33.0 362.4h.7v.7h-.7zM73.5 334.2h.7v.7h-.7zM46.7 329.5h.7v.7h-.7zM54.7 358.6h.7v.7h-.7zM53.0 355.3h.7v.7h-.7zM34.0 353.2h.7v.7h-.7zM45.7 338.8h.7v.7h-.7zM46.8 361.9h.7v.7h-.7zM28.5 333.1h.7v.7h-.7zM33.3 352.8h.7v.7h-.7zM41.1 350.0h.7v.7h-.7zM47.8 341.7h.7v.7h-.7zM44.2 360.4h.7v.7h-.7zM67.2 357.3h.7v.7h-.7zM56.7 359.1h.7v.7h-.7zM57.0 352.8h.7v.7h-.7zM39.4 331.5h.7v.7h-.7zM40.2 360.6h.7v.7h-.7zM43.0 349.1h.7v.7h-.7zM43.3 360.6h.7v.7h-.7zM36.0 356.1h.7v.7h-.7zM39.5 356.4h.7v.7h-.7zM38.1 356.4h.7v.7h-.7zM29.1 343.6h.7v.7h-.7zM63.5 353.5h.7v.7h-.7zM70.9 351.4h.7v.7h-.7zM70.9 355.2h.7v.7h-.7zM28.6 339.1h.7v.7h-.7zM32.0 340.0h.7v.7h-.7zM30.4 345.7h.7v.7h-.7zM33.4 343.5h.7v.7h-.7zM32.2 355.1h.7v.7h-.7zM46.5 353.5h.7v.7h-.7zM56.0 360.1h.7v.7h-.7zM63.4 351.4h.7v.7h-.7zM52.0 362.4h.7v.7h-.7zM46.2 341.7h.7v.7h-.7zM53.2 351.5h.7v.7h-.7zM33.0 351.3h.7v.7h-.7zM37.5 335.1h.7v.7h-.7zM59.1 351.0h.7v.7h-.7zM39.1 341.1h.7v.7h-.7zM32.4 361.3h.7v.7h-.7zM50.9 338.2h.7v.7h-.7zM60.5 354.7h.7v.7h-.7zM41.6 359.1h.7v.7h-.7zM28.6 334.8h.7v.7h-.7zM41.4 354.4h.7v.7h-.7zM68.8 361.7h.7v.7h-.7zM45.4 358.7h.7v.7h-.7zM32.8 331.2h.7v.7h-.7zM45.9 354.2h.7v.7h-.7zM45.4 346.2h.7v.7h-.7zM41.0 339.4h.7v.7h-.7zM37.6 335.2h.7v.7h-.7zM36.1 362.4h.7v.7h-.7zM55.4 336.5h.7v.7h-.7zM29.4 359.5h.7v.7h-.7zM45.3 359.6h.7v.7h-.7zM47.9 350.7h.7v.7h-.7zM40.0 357.6h.7v.7h-.7zM44.6 343.0h.7v.7h-.7zM39.0 360.2h.7v.7h-.7zM36.8 347.3h.7v.7h-.7zM51.7 333.4h.7v.7h-.7zM37.5 350.9h.7v.7h-.7zM42.9 351.8h.7v.7h-.7zM38.4 361.7h.7v.7h-.7zM44.6 342.1h.7v.7h-.7zM42.3 355.2h.7v.7h-.7zM31.0 360.3h.7v.7h-.7zM37.7 354.5h.7v.7h-.7zM36.5 358.4h.7v.7h-.7zM60.8 342.1h.7v.7h-.7zM31.8 355.4h.7v.7h-.7zM40.6 340.6h.7v.7h-.7zM35.4 355.5h.7v.7h-.7zM51.2 350.3h.7v.7h-.7zM33.3 351.8h.7v.7h-.7zM33.6 361.2h.7v.7h-.7zM47.0 362.0h.7v.7h-.7zM30.9 353.8h.7v.7h-.7zM48.7 359.6h.7v.7h-.7zM72.1 360.2h.7v.7h-.7zM32.1 348.4h.7v.7h-.7zM43.7 356.6h.7v.7h-.7zM37.6 347.3h.7v.7h-.7zM29.7 334.1h.7v.7h-.7zM31.6 362.2h.7v.7h-.7zM39.4 358.8h.7v.7h-.7zM39.4 349.6h.7v.7h-.7zM30.2 361.1h.7v.7h-.7zM68.6 361.1h.7v.7h-.7zM32.5 361.6h.7v.7h-.7zM35.2 350.6h.7v.7h-.7zM51.0 347.4h.7v.7h-.7zM38.9 351.0h.7v.7h-.7zM43.1 343.9h.7v.7h-.7zM50.5 352.2h.7v.7h-.7zM39.5 355.8h.7v.7h-.7zM30.9 355.1h.7v.7h-.7zM37.8 351.1h.7v.7h-.7zM42.7 330.0h.7v.7h-.7zM29.1 347.3h.7v.7h-.7zM48.9 353.5h.7v.7h-.7zM47.8 360.5h.7v.7h-.7zM36.2 357.5h.7v.7h-.7zM37.9 354.2h.7v.7h-.7zM66.5 341.7h.7v.7h-.7zM45.3 348.9h.7v.7h-.7zM47.9 358.9h.7v.7h-.7zM37.1 346.2h.7v.7h-.7zM32.7 336.4h.7v.7h-.7zM42.1 348.6h.7v.7h-.7zM64.0 343.5h.7v.7h-.7zM43.9 338.7h.7v.7h-.7zM43.4 358.1h.7v.7h-.7zM33.4 353.9h.7v.7h-.7zM35.6 352.2h.7v.7h-.7zM32.8 340.3h.7v.7h-.7zM40.8 331.3h.7v.7h-.7zM47.6 362.2h.7v.7h-.7zM34.3 360.4h.7v.7h-.7zM38.6 346.1h.7v.7h-.7zM41.9 361.8h.7v.7h-.7zM33.7 341.7h.7v.7h-.7zM52.4 359.3h.7v.7h-.7zM39.7 345.5h.7v.7h-.7zM61.8 349.8h.7v.7h-.7zM46.3 361.8h.7v.7h-.7zM31.7 354.6h.7v.7h-.7zM39.9 357.9h.7v.7h-.7zM52.1 337.7h.7v.7h-.7zM29.4 324.5h.7v.7h-.7zM36.3 341.9h.7v.7h-.7zM50.1 350.8h.7v.7h-.7zM32.8 341.3h.7v.7h-.7zM44.3 327.2h.7v.7h-.7zM41.4 348.4h.7v.7h-.7zM52.9 358.7h.7v.7h-.7zM57.9 326.0h.7v.7h-.7zM32.8 341.1h.7v.7h-.7zM47.9 353.9h.7v.7h-.7zM31.2 342.7h.7v.7h-.7zM39.8 342.5h.7v.7h-.7zM39.0 362.2h.7v.7h-.7zM40.0 342.6h.7v.7h-.7zM29.9 357.1h.7v.7h-.7zM37.6 351.8h.7v.7h-.7zM60.1 343.3h.7v.7h-.7zM38.5 360.5h.7v.7h-.7zM38.0 346.2h.7v.7h-.7zM51.0 340.3h.7v.7h-.7zM38.7 336.1h.7v.7h-.7zM40.2 353.5h.7v.7h-.7zM32.1 318.0h.7v.7h-.7zM52.9 332.7h.7v.7h-.7zM34.4 355.3h.7v.7h-.7zM46.8 350.5h.7v.7h-.7zM35.1 332.1h.7v.7h-.7zM78.9 338.8h.7v.7h-.7zM35.2 345.3h.7v.7h-.7zM32.7 325.8h.7v.7h-.7zM36.0 357.8h.7v.7h-.7zM52.1 360.4h.7v.7h-.7zM41.7 358.8h.7v.7h-.7zM30.8 345.2h.7v.7h-.7zM35.8 340.8h.7v.7h-.7zM49.1 360.7h.7v.7h-.7zM40.9 357.0h.7v.7h-.7zM36.1 361.9h.7v.7h-.7zM42.6 357.5h.7v.7h-.7zM39.8 341.1h.7v.7h-.7zM66.5 360.3h.7v.7h-.7zM32.4 332.7h.7v.7h-.7zM63.3 348.5h.7v.7h-.7zM40.9 353.8h.7v.7h-.7zM52.0 333.8h.7v.7h-.7zM31.4 341.4h.7v.7h-.7zM57.6 357.1h.7v.7h-.7zM61.8 348.1h.7v.7h-.7zM40.7 350.8h.7v.7h-.7zM37.3 359.9h.7v.7h-.7zM51.7 357.4h.7v.7h-.7zM38.7 358.4h.7v.7h-.7zM42.0 338.7h.7v.7h-.7zM39.9 350.4h.7v.7h-.7zM51.3 354.0h.7v.7h-.7zM42.6 348.8h.7v.7h-.7zM55.0 339.6h.7v.7h-.7zM58.4 356.5h.7v.7h-.7zM53.4 335.1h.7v.7h-.7zM57.8 353.3h.7v.7h-.7zM31.8 304.5h.7v.7h-.7zM36.5 361.5h.7v.7h-.7zM40.2 356.9h.7v.7h-.7zM28.8 352.9h.7v.7h-.7zM40.9 342.7h.7v.7h-.7zM28.6 332.1h.7v.7h-.7zM39.1 361.8h.7v.7h-.7zM33.9 358.0h.7v.7h-.7zM29.5 338.3h.7v.7h-.7zM34.1 335.7h.7v.7h-.7zM38.2 355.4h.7v.7h-.7zM29.2 340.6h.7v.7h-.7zM49.2 330.5h.7v.7h-.7zM48.1 351.7h.7v.7h-.7zM57.5 336.2h.7v.7h-.7zM37.1 354.0h.7v.7h-.7zM53.7 338.4h.7v.7h-.7zM56.5 362.4h.7v.7h-.7zM44.6 357.8h.7v.7h-.7zM43.5 351.2h.7v.7h-.7zM36.8 357.8h.7v.7h-.7zM49.4 344.0h.7v.7h-.7zM29.6 359.5h.7v.7h-.7zM36.1 360.2h.7v.7h-.7zM75.9 356.1h.7v.7h-.7zM53.8 349.0h.7v.7h-.7zM51.5 335.7h.7v.7h-.7zM39.3 361.5h.7v.7h-.7zM33.6 351.3h.7v.7h-.7zM44.8 354.4h.7v.7h-.7zM38.6 345.5h.7v.7h-.7zM36.3 357.4h.7v.7h-.7zM32.1 341.4h.7v.7h-.7zM28.7 346.3h.7v.7h-.7zM31.3 355.8h.7v.7h-.7zM50.7 346.3h.7v.7h-.7zM55.7 361.5h.7v.7h-.7zM37.6 360.9h.7v.7h-.7zM51.6 359.3h.7v.7h-.7zM46.4 342.7h.7v.7h-.7zM43.3 361.3h.7v.7h-.7zM48.8 355.4h.7v.7h-.7zM68.2 352.6h.7v.7h-.7zM53.6 358.1h.7v.7h-.7zM50.4 343.5h.7v.7h-.7zM29.9 358.7h.7v.7h-.7z"/><g clip-path="url(#cc3)"><ellipse cx="45.35" cy="356.0" rx="18.3" ry="16.3" fill="#999" opacity="0.45" filter="url(#b2)"/><ellipse cx="45.35" cy="356.0" rx="14.8" ry="12.8" fill="#8c8c8c" stroke="#2a2a2a" stroke-width="3.6" filter="url(#b05)"/><ellipse cx="47.2" cy="351.6" rx="9.9" ry="6.2" fill="#e6e6e6" stroke="none" filter="url(#b05)"/><ellipse cx="47.2" cy="351.6" rx="7.5" ry="4.0" fill="#333" stroke="#333" stroke-width="0.8" filter="url(#b05)"/><path fill="#222" fill-opacity="0.5" d="M54.2 353.7h.8v.8h-.8zM37.7 361.5h.8v.8h-.8zM35.0 348.7h.8v.8h-.8zM53.3 361.5h.8v.8h-.8zM55.0 345.5h.8v.8h-.8zM45.5 345.2h.8v.8h-.8zM60.9 359.5h.8v.8h-.8zM49.4 367.0h.8v.8h-.8zM44.9 344.7h.8v.8h-.8zM57.0 359.8h.8v.8h-.8zM54.2 357.1h.8v.8h-.8zM53.3 362.3h.8v.8h-.8zM55.2 366.6h.8v.8h-.8zM47.4 344.0h.8v.8h-.8zM48.3 343.5h.8v.8h-.8zM35.0 351.6h.8v.8h-.8zM42.3 363.3h.8v.8h-.8zM48.5 343.3h.8v.8h-.8zM37.7 348.5h.8v.8h-.8zM59.1 360.8h.8v.8h-.8zM48.0 361.6h.8v.8h-.8zM41.7 347.2h.8v.8h-.8zM32.8 351.2h.8v.8h-.8zM32.7 364.6h.8v.8h-.8zM36.5 354.5h.8v.8h-.8zM46.1 370.2h.8v.8h-.8zM33.4 349.8h.8v.8h-.8zM51.2 361.9h.8v.8h-.8zM51.4 355.6h.8v.8h-.8zM52.5 343.6h.8v.8h-.8zM31.4 356.2h.8v.8h-.8zM59.6 354.3h.8v.8h-.8zM40.3 347.1h.8v.8h-.8zM38.9 353.0h.8v.8h-.8zM38.0 347.6h.8v.8h-.8zM41.3 344.7h.8v.8h-.8zM55.3 355.5h.8v.8h-.8zM48.8 342.3h.8v.8h-.8zM46.5 368.8h.8v.8h-.8zM51.0 357.9h.8v.8h-.8zM54.3 351.8h.8v.8h-.8zM44.1 342.4h.8v.8h-.8zM32.7 349.7h.8v.8h-.8zM30.3 356.9h.8v.8h-.8zM53.8 353.6h.8v.8h-.8zM60.5 359.5h.8v.8h-.8zM53.1 365.9h.8v.8h-.8zM40.7 365.0h.8v.8h-.8zM59.4 355.8h.8v.8h-.8zM42.1 348.2h.8v.8h-.8zM32.6 347.9h.8v.8h-.8zM41.4 361.2h.8v.8h-.8zM50.8 363.1h.8v.8h-.8zM59.6 357.3h.8v.8h-.8zM52.6 363.8h.8v.8h-.8zM52.6 368.0h.8v.8h-.8zM30.1 355.1h.8v.8h-.8zM36.0 365.0h.8v.8h-.8zM56.2 354.7h.8v.8h-.8zM55.7 351.2h.8v.8h-.8zM35.4 352.9h.8v.8h-.8zM50.6 363.8h.8v.8h-.8zM42.9 360.7h.8v.8h-.8zM55.0 357.4h.8v.8h-.8zM37.9 345.6h.8v.8h-.8zM35.8 363.3h.8v.8h-.8zM54.8 351.9h.8v.8h-.8zM41.1 364.3h.8v.8h-.8zM50.5 349.9h.8v.8h-.8zM39.7 359.8h.8v.8h-.8zM40.6 350.0h.8v.8h-.8zM37.0 365.2h.8v.8h-.8zM51.2 343.1h.8v.8h-.8zM47.6 368.0h.8v.8h-.8zM51.1 363.9h.8v.8h-.8zM57.7 359.6h.8v.8h-.8zM39.4 360.7h.8v.8h-.8zM44.6 349.8h.8v.8h-.8zM38.6 357.4h.8v.8h-.8zM52.5 346.6h.8v.8h-.8zM34.1 350.1h.8v.8h-.8zM37.2 354.5h.8v.8h-.8zM29.2 356.1h.8v.8h-.8zM53.3 357.8h.8v.8h-.8zM34.8 350.2h.8v.8h-.8zM50.3 367.1h.8v.8h-.8zM50.9 358.7h.8v.8h-.8zM53.3 361.1h.8v.8h-.8zM51.8 365.5h.8v.8h-.8zM35.2 347.7h.8v.8h-.8zM42.2 367.8h.8v.8h-.8zM41.5 367.5h.8v.8h-.8zM39.3 359.2h.8v.8h-.8zM51.9 354.4h.8v.8h-.8zM44.6 369.4h.8v.8h-.8zM42.8 362.8h.8v.8h-.8zM45.3 365.5h.8v.8h-.8zM39.3 368.2h.8v.8h-.8zM43.4 361.5h.8v.8h-.8zM52.9 344.3h.8v.8h-.8zM59.0 354.4h.8v.8h-.8zM36.5 362.0h.8v.8h-.8zM51.8 349.9h.8v.8h-.8zM55.2 362.7h.8v.8h-.8zM30.2 357.5h.8v.8h-.8zM49.3 349.0h.8v.8h-.8zM53.5 360.5h.8v.8h-.8zM57.7 355.9h.8v.8h-.8zM33.2 363.7h.8v.8h-.8zM33.8 356.0h.8v.8h-.8zM56.2 352.7h.8v.8h-.8zM59.6 349.2h.8v.8h-.8zM48.6 366.6h.8v.8h-.8zM31.0 359.5h.8v.8h-.8zM44.0 344.0h.8v.8h-.8zM32.9 358.8h.8v.8h-.8zM56.2 352.3h.8v.8h-.8zM49.6 367.4h.8v.8h-.8zM60.4 354.0h.8v.8h-.8zM39.4 351.1h.8v.8h-.8zM37.9 350.4h.8v.8h-.8zM41.6 348.8h.8v.8h-.8zM43.9 369.0h.8v.8h-.8zM35.5 359.1h.8v.8h-.8zM47.7 366.1h.8v.8h-.8zM49.7 345.8h.8v.8h-.8zM37.4 368.3h.8v.8h-.8zM49.0 359.9h.8v.8h-.8zM52.1 351.1h.8v.8h-.8zM36.7 367.2h.8v.8h-.8zM56.7 352.8h.8v.8h-.8zM35.0 359.2h.8v.8h-.8zM35.9 344.7h.8v.8h-.8zM47.1 349.5h.8v.8h-.8zM39.3 355.5h.8v.8h-.8zM60.2 351.3h.8v.8h-.8zM50.9 343.8h.8v.8h-.8zM55.3 349.1h.8v.8h-.8zM35.7 354.3h.8v.8h-.8zM55.5 365.3h.8v.8h-.8zM49.3 362.4h.8v.8h-.8zM52.4 364.0h.8v.8h-.8zM36.9 354.4h.8v.8h-.8zM56.2 353.0h.8v.8h-.8zM39.8 354.3h.8v.8h-.8zM34.5 360.4h.8v.8h-.8zM54.4 362.7h.8v.8h-.8zM33.7 366.0h.8v.8h-.8zM49.8 364.8h.8v.8h-.8zM33.1 359.0h.8v.8h-.8zM37.3 357.8h.8v.8h-.8zM54.5 352.5h.8v.8h-.8zM37.9 360.9h.8v.8h-.8zM57.5 346.5h.8v.8h-.8zM53.1 357.8h.8v.8h-.8zM37.6 365.8h.8v.8h-.8zM42.7 343.0h.8v.8h-.8zM30.1 360.6h.8v.8h-.8zM57.9 361.9h.8v.8h-.8zM39.9 361.9h.8v.8h-.8zM30.3 351.5h.8v.8h-.8zM57.4 353.0h.8v.8h-.8zM46.4 366.9h.8v.8h-.8zM58.7 363.3h.8v.8h-.8zM45.6 350.8h.8v.8h-.8zM34.6 347.8h.8v.8h-.8zM36.7 366.3h.8v.8h-.8zM34.5 363.6h.8v.8h-.8zM41.2 362.8h.8v.8h-.8zM37.1 344.2h.8v.8h-.8zM51.7 349.9h.8v.8h-.8zM42.1 364.7h.8v.8h-.8zM58.3 348.9h.8v.8h-.8zM31.4 362.8h.8v.8h-.8zM35.5 356.5h.8v.8h-.8zM44.9 366.5h.8v.8h-.8zM58.5 362.9h.8v.8h-.8zM49.2 366.5h.8v.8h-.8zM45.3 364.1h.8v.8h-.8zM35.1 359.7h.8v.8h-.8zM31.8 356.5h.8v.8h-.8zM53.4 345.7h.8v.8h-.8zM38.8 362.9h.8v.8h-.8zM46.2 348.4h.8v.8h-.8zM45.0 368.9h.8v.8h-.8zM35.2 357.2h.8v.8h-.8zM53.9 359.8h.8v.8h-.8zM53.2 350.5h.8v.8h-.8zM39.7 362.5h.8v.8h-.8zM40.2 350.6h.8v.8h-.8zM35.0 352.3h.8v.8h-.8zM36.5 356.6h.8v.8h-.8zM46.3 367.9h.8v.8h-.8zM48.8 350.1h.8v.8h-.8zM34.6 357.6h.8v.8h-.8zM56.3 366.3h.8v.8h-.8zM55.0 362.1h.8v.8h-.8zM29.6 355.7h.8v.8h-.8zM36.8 352.8h.8v.8h-.8zM42.9 368.7h.8v.8h-.8zM46.0 362.3h.8v.8h-.8zM53.2 343.7h.8v.8h-.8zM38.8 343.1h.8v.8h-.8zM54.1 365.6h.8v.8h-.8zM48.6 348.7h.8v.8h-.8zM59.1 360.5h.8v.8h-.8zM53.7 345.1h.8v.8h-.8zM52.5 345.8h.8v.8h-.8zM55.9 365.0h.8v.8h-.8zM55.0 355.5h.8v.8h-.8zM57.4 348.5h.8v.8h-.8zM49.4 363.3h.8v.8h-.8zM38.3 347.2h.8v.8h-.8zM34.3 358.2h.8v.8h-.8zM51.0 362.3h.8v.8h-.8zM48.0 364.1h.8v.8h-.8zM49.6 369.1h.8v.8h-.8zM42.1 350.7h.8v.8h-.8zM34.3 351.3h.8v.8h-.8zM57.4 354.1h.8v.8h-.8zM42.7 362.3h.8v.8h-.8zM38.1 356.8h.8v.8h-.8zM37.2 363.3h.8v.8h-.8zM37.3 362.4h.8v.8h-.8zM36.9 351.8h.8v.8h-.8zM47.5 347.8h.8v.8h-.8zM41.6 348.6h.8v.8h-.8zM55.6 363.8h.8v.8h-.8zM42.7 370.0h.8v.8h-.8zM38.1 349.6h.8v.8h-.8zM46.2 346.2h.8v.8h-.8zM54.9 346.9h.8v.8h-.8zM38.7 362.9h.8v.8h-.8zM37.7 357.8h.8v.8h-.8zM58.5 359.6h.8v.8h-.8zM34.5 354.9h.8v.8h-.8zM43.4 360.7h.8v.8h-.8zM34.9 354.5h.8v.8h-.8zM32.7 348.0h.8v.8h-.8zM48.6 361.1h.8v.8h-.8zM59.3 362.2h.8v.8h-.8zM42.3 344.7h.8v.8h-.8zM42.7 343.0h.8v.8h-.8zM58.3 355.1h.8v.8h-.8zM31.1 355.7h.8v.8h-.8zM59.7 361.6h.8v.8h-.8zM53.0 359.5h.8v.8h-.8zM52.9 354.8h.8v.8h-.8zM44.1 344.8h.8v.8h-.8zM51.5 365.1h.8v.8h-.8zM34.2 361.0h.8v.8h-.8zM49.0 364.9h.8v.8h-.8zM48.1 342.0h.8v.8h-.8zM43.8 344.5h.8v.8h-.8zM57.4 350.9h.8v.8h-.8zM41.9 351.4h.8v.8h-.8zM37.1 360.9h.8v.8h-.8zM53.9 351.4h.8v.8h-.8zM33.1 365.5h.8v.8h-.8zM44.6 349.0h.8v.8h-.8z"/><path fill="#fff" fill-opacity="0.5" d="M53.3 353.9h.7v.7h-.7zM38.5 361.0h.7v.7h-.7zM36.0 349.5h.7v.7h-.7zM52.5 360.9h.7v.7h-.7zM54.1 346.6h.7v.7h-.7zM45.5 346.2h.7v.7h-.7zM59.3 359.1h.7v.7h-.7zM49.0 365.9h.7v.7h-.7zM44.9 345.8h.7v.7h-.7zM55.8 359.4h.7v.7h-.7zM53.3 357.0h.7v.7h-.7zM52.5 361.7h.7v.7h-.7zM54.3 365.6h.7v.7h-.7zM47.2 345.2h.7v.7h-.7zM48.0 344.7h.7v.7h-.7zM36.0 352.1h.7v.7h-.7zM42.6 362.6h.7v.7h-.7zM48.2 344.6h.7v.7h-.7zM38.4 349.3h.7v.7h-.7zM57.7 360.3h.7v.7h-.7zM47.7 361.1h.7v.7h-.7zM42.1 348.0h.7v.7h-.7zM34.0 351.7h.7v.7h-.7zM34.0 363.7h.7v.7h-.7zM37.4 354.7h.7v.7h-.7zM46.0 368.8h.7v.7h-.7zM34.6 350.4h.7v.7h-.7zM50.6 361.3h.7v.7h-.7zM50.8 355.6h.7v.7h-.7zM51.8 344.8h.7v.7h-.7zM32.8 356.2h.7v.7h-.7zM58.2 354.5h.7v.7h-.7zM40.8 347.9h.7v.7h-.7zM39.5 353.3h.7v.7h-.7zM38.7 348.5h.7v.7h-.7zM41.7 345.8h.7v.7h-.7zM54.3 355.5h.7v.7h-.7zM48.5 343.6h.7v.7h-.7zM46.4 367.5h.7v.7h-.7zM50.5 357.7h.7v.7h-.7zM53.4 352.2h.7v.7h-.7zM44.3 343.7h.7v.7h-.7zM34.0 350.4h.7v.7h-.7zM31.8 356.8h.7v.7h-.7zM52.9 353.9h.7v.7h-.7zM58.9 359.2h.7v.7h-.7zM52.3 364.9h.7v.7h-.7zM41.1 364.1h.7v.7h-.7zM58.0 355.8h.7v.7h-.7zM42.4 349.0h.7v.7h-.7zM33.9 348.7h.7v.7h-.7zM41.8 360.7h.7v.7h-.7zM50.2 362.4h.7v.7h-.7zM58.2 357.2h.7v.7h-.7zM51.9 363.0h.7v.7h-.7zM51.8 366.8h.7v.7h-.7zM31.7 355.2h.7v.7h-.7zM36.9 364.1h.7v.7h-.7zM55.1 354.8h.7v.7h-.7zM54.7 351.6h.7v.7h-.7zM36.4 353.2h.7v.7h-.7zM50.1 363.0h.7v.7h-.7zM43.1 360.2h.7v.7h-.7zM54.0 357.3h.7v.7h-.7zM38.6 346.6h.7v.7h-.7zM36.7 362.6h.7v.7h-.7zM53.9 352.3h.7v.7h-.7zM41.5 363.5h.7v.7h-.7zM50.0 350.5h.7v.7h-.7zM40.3 359.4h.7v.7h-.7zM41.1 350.6h.7v.7h-.7zM37.9 364.3h.7v.7h-.7zM50.6 344.4h.7v.7h-.7zM47.4 366.8h.7v.7h-.7zM50.5 363.1h.7v.7h-.7zM56.4 359.2h.7v.7h-.7zM40.0 360.3h.7v.7h-.7zM44.7 350.4h.7v.7h-.7zM39.3 357.3h.7v.7h-.7zM51.8 347.6h.7v.7h-.7zM35.2 350.7h.7v.7h-.7zM38.0 354.6h.7v.7h-.7zM30.8 356.1h.7v.7h-.7zM52.5 357.6h.7v.7h-.7zM35.9 350.8h.7v.7h-.7zM49.8 366.0h.7v.7h-.7zM50.3 358.5h.7v.7h-.7zM52.5 360.6h.7v.7h-.7zM51.2 364.5h.7v.7h-.7zM36.2 348.5h.7v.7h-.7zM42.5 366.6h.7v.7h-.7zM41.9 366.4h.7v.7h-.7zM39.9 358.9h.7v.7h-.7zM51.3 354.6h.7v.7h-.7zM44.7 368.0h.7v.7h-.7zM43.0 362.1h.7v.7h-.7zM45.3 364.5h.7v.7h-.7zM39.9 367.0h.7v.7h-.7zM43.6 360.9h.7v.7h-.7zM52.1 345.5h.7v.7h-.7zM57.7 354.6h.7v.7h-.7zM37.4 361.4h.7v.7h-.7zM51.1 350.5h.7v.7h-.7zM54.3 362.1h.7v.7h-.7zM31.7 357.3h.7v.7h-.7zM48.9 349.7h.7v.7h-.7zM52.6 360.0h.7v.7h-.7zM56.5 355.9h.7v.7h-.7zM34.4 363.0h.7v.7h-.7zM35.0 356.0h.7v.7h-.7zM55.1 353.0h.7v.7h-.7zM58.2 349.9h.7v.7h-.7zM48.3 365.6h.7v.7h-.7zM32.4 359.2h.7v.7h-.7zM44.2 345.2h.7v.7h-.7zM34.2 358.5h.7v.7h-.7zM55.2 352.6h.7v.7h-.7zM49.2 366.2h.7v.7h-.7zM58.9 354.2h.7v.7h-.7zM40.0 351.6h.7v.7h-.7zM38.6 351.0h.7v.7h-.7zM42.0 349.5h.7v.7h-.7zM44.1 367.7h.7v.7h-.7zM36.5 358.8h.7v.7h-.7zM47.4 365.1h.7v.7h-.7zM49.2 346.9h.7v.7h-.7zM38.2 367.0h.7v.7h-.7zM48.6 359.5h.7v.7h-.7zM51.4 351.6h.7v.7h-.7zM37.5 366.1h.7v.7h-.7zM55.6 353.1h.7v.7h-.7zM36.0 358.9h.7v.7h-.7zM36.9 345.8h.7v.7h-.7zM46.9 350.2h.7v.7h-.7zM39.9 355.5h.7v.7h-.7zM58.7 351.8h.7v.7h-.7zM50.3 345.0h.7v.7h-.7zM54.3 349.8h.7v.7h-.7zM36.7 354.5h.7v.7h-.7zM54.5 364.4h.7v.7h-.7zM48.9 361.8h.7v.7h-.7zM51.7 363.2h.7v.7h-.7zM37.8 354.6h.7v.7h-.7zM55.2 353.3h.7v.7h-.7zM40.4 354.5h.7v.7h-.7zM35.6 360.0h.7v.7h-.7zM53.5 362.0h.7v.7h-.7zM34.9 365.0h.7v.7h-.7zM49.4 363.9h.7v.7h-.7zM34.4 358.7h.7v.7h-.7z"/></g><polygon points="65.5,311.2 85.1,320.4 85.1,340.0 66.8,347.9 46.6,340.0 46.6,320.4" fill="none" stroke="#777" stroke-width="0.8"/><rect x="28.5" y="290.4" width="76.8" height="72.10000000000002" fill="none" stroke="#9a9a9a" stroke-width="1.4"/><rect x="29.200000000000003" y="306.0" width="35.5" height="4.6" fill="#fff" stroke="#ccc" stroke-width="0.4" fill-opacity="0.7"/><text x="29.6" y="309.6" font-size="4.45" text-anchor="start" fill="#333">CD107a+CD154+</text><text x="74.17" y="307.70" font-size="13.16" fill="#000">0.5%</text><clipPath id="cc4"><rect x="140.0" y="144.5" width="76.8" height="71.9"/></clipPath><path fill="#666" fill-opacity="0.35" clip-path="url(#cc4)" d="M141.2 192.5h.7v.7h-.7zM185.6 205.3h.7v.7h-.7zM164.8 203.0h.7v.7h-.7zM142.5 203.1h.7v.7h-.7zM159.1 210.1h.7v.7h-.7zM146.4 215.5h.7v.7h-.7zM160.4 212.4h.7v.7h-.7zM143.9 214.4h.7v.7h-.7zM146.8 206.0h.7v.7h-.7zM146.8 208.5h.7v.7h-.7zM144.7 183.1h.7v.7h-.7zM145.6 205.0h.7v.7h-.7zM149.9 207.8h.7v.7h-.7zM167.6 184.9h.7v.7h-.7zM150.6 178.2h.7v.7h-.7zM145.2 215.8h.7v.7h-.7zM153.3 213.4h.7v.7h-.7zM143.4 199.2h.7v.7h-.7zM150.4 198.1h.7v.7h-.7zM155.4 213.6h.7v.7h-.7zM166.5 202.9h.7v.7h-.7zM148.5 209.9h.7v.7h-.7zM159.6 194.5h.7v.7h-.7zM176.4 205.4h.7v.7h-.7zM160.9 181.1h.7v.7h-.7zM155.1 197.8h.7v.7h-.7zM164.0 209.4h.7v.7h-.7zM166.2 215.9h.7v.7h-.7zM146.4 207.6h.7v.7h-.7zM148.8 196.9h.7v.7h-.7zM161.4 202.7h.7v.7h-.7zM160.7 199.5h.7v.7h-.7zM145.5 212.8h.7v.7h-.7zM167.2 204.1h.7v.7h-.7zM151.8 197.0h.7v.7h-.7zM146.6 213.8h.7v.7h-.7zM173.7 195.7h.7v.7h-.7zM163.3 188.8h.7v.7h-.7zM148.3 207.1h.7v.7h-.7zM143.8 209.4h.7v.7h-.7zM149.3 212.7h.7v.7h-.7zM144.6 212.4h.7v.7h-.7zM154.6 189.1h.7v.7h-.7zM144.0 213.5h.7v.7h-.7zM163.1 193.6h.7v.7h-.7zM149.7 213.2h.7v.7h-.7zM145.4 214.7h.7v.7h-.7zM156.6 198.3h.7v.7h-.7zM147.7 214.5h.7v.7h-.7zM151.7 210.4h.7v.7h-.7zM147.3 211.6h.7v.7h-.7zM162.1 210.3h.7v.7h-.7zM176.5 194.0h.7v.7h-.7zM142.3 200.6h.7v.7h-.7zM151.3 213.7h.7v.7h-.7zM165.0 207.1h.7v.7h-.7zM155.4 213.1h.7v.7h-.7zM151.6 209.8h.7v.7h-.7zM154.5 204.8h.7v.7h-.7zM151.1 212.4h.7v.7h-.7zM170.7 197.0h.7v.7h-.7zM156.5 212.1h.7v.7h-.7zM155.1 193.6h.7v.7h-.7zM180.9 206.6h.7v.7h-.7zM159.2 187.6h.7v.7h-.7zM161.6 203.4h.7v.7h-.7zM170.6 197.4h.7v.7h-.7zM161.8 212.6h.7v.7h-.7zM162.3 204.6h.7v.7h-.7zM175.1 214.7h.7v.7h-.7zM153.9 191.2h.7v.7h-.7zM143.0 209.8h.7v.7h-.7zM154.5 182.6h.7v.7h-.7zM146.9 214.3h.7v.7h-.7zM153.4 207.4h.7v.7h-.7zM171.0 211.0h.7v.7h-.7zM156.0 214.3h.7v.7h-.7zM140.1 211.2h.7v.7h-.7zM146.2 208.8h.7v.7h-.7zM153.0 180.9h.7v.7h-.7zM157.5 216.2h.7v.7h-.7zM158.7 213.5h.7v.7h-.7zM156.0 205.8h.7v.7h-.7zM148.4 195.4h.7v.7h-.7zM142.1 190.7h.7v.7h-.7zM159.7 205.8h.7v.7h-.7zM140.0 186.6h.7v.7h-.7zM153.7 193.9h.7v.7h-.7zM170.8 202.6h.7v.7h-.7zM140.2 211.7h.7v.7h-.7zM140.8 198.0h.7v.7h-.7zM154.9 215.9h.7v.7h-.7zM145.2 216.0h.7v.7h-.7zM157.9 198.3h.7v.7h-.7zM150.7 204.6h.7v.7h-.7zM183.9 210.4h.7v.7h-.7zM159.7 215.6h.7v.7h-.7zM163.2 212.0h.7v.7h-.7zM167.0 206.5h.7v.7h-.7zM153.7 189.0h.7v.7h-.7zM145.5 190.2h.7v.7h-.7zM150.6 205.6h.7v.7h-.7zM148.8 212.9h.7v.7h-.7zM170.7 200.4h.7v.7h-.7zM155.4 179.4h.7v.7h-.7zM161.2 188.9h.7v.7h-.7zM161.1 210.0h.7v.7h-.7zM144.4 186.3h.7v.7h-.7zM145.4 214.6h.7v.7h-.7zM146.7 208.0h.7v.7h-.7zM149.5 179.3h.7v.7h-.7zM156.3 199.4h.7v.7h-.7zM174.1 209.8h.7v.7h-.7zM142.8 212.2h.7v.7h-.7zM147.9 193.0h.7v.7h-.7zM143.7 206.9h.7v.7h-.7zM170.6 203.8h.7v.7h-.7zM150.6 209.9h.7v.7h-.7zM152.4 196.9h.7v.7h-.7zM150.4 212.6h.7v.7h-.7zM166.6 213.6h.7v.7h-.7zM158.8 198.0h.7v.7h-.7zM144.8 202.6h.7v.7h-.7zM143.3 203.8h.7v.7h-.7zM150.3 200.9h.7v.7h-.7zM166.0 208.9h.7v.7h-.7zM148.2 212.5h.7v.7h-.7zM157.5 208.5h.7v.7h-.7zM177.7 208.9h.7v.7h-.7zM140.4 208.7h.7v.7h-.7zM166.7 206.8h.7v.7h-.7zM151.9 195.2h.7v.7h-.7zM146.8 205.2h.7v.7h-.7zM151.3 212.9h.7v.7h-.7zM151.4 214.9h.7v.7h-.7zM144.8 199.4h.7v.7h-.7zM151.8 189.5h.7v.7h-.7zM167.7 213.0h.7v.7h-.7zM146.1 210.0h.7v.7h-.7zM176.1 201.1h.7v.7h-.7zM144.1 212.3h.7v.7h-.7zM156.3 210.0h.7v.7h-.7zM161.6 198.4h.7v.7h-.7zM150.3 198.4h.7v.7h-.7zM148.4 194.3h.7v.7h-.7zM140.7 200.3h.7v.7h-.7zM154.1 209.9h.7v.7h-.7zM173.1 201.5h.7v.7h-.7zM149.5 202.4h.7v.7h-.7zM155.7 204.7h.7v.7h-.7zM164.3 203.0h.7v.7h-.7zM151.1 212.0h.7v.7h-.7zM148.2 186.6h.7v.7h-.7zM147.9 196.5h.7v.7h-.7zM145.6 202.9h.7v.7h-.7zM153.3 194.1h.7v.7h-.7zM147.1 200.8h.7v.7h-.7zM158.2 179.4h.7v.7h-.7zM148.3 206.5h.7v.7h-.7zM164.5 213.8h.7v.7h-.7zM152.1 211.4h.7v.7h-.7zM161.4 208.2h.7v.7h-.7zM178.1 215.2h.7v.7h-.7zM155.8 213.9h.7v.7h-.7zM158.1 191.8h.7v.7h-.7zM170.8 187.4h.7v.7h-.7zM150.5 198.6h.7v.7h-.7zM154.0 212.1h.7v.7h-.7zM176.6 199.0h.7v.7h-.7zM142.1 204.0h.7v.7h-.7zM150.1 216.2h.7v.7h-.7zM140.6 190.1h.7v.7h-.7zM188.7 212.1h.7v.7h-.7zM143.2 199.5h.7v.7h-.7zM154.5 211.6h.7v.7h-.7zM163.7 212.6h.7v.7h-.7zM147.2 204.7h.7v.7h-.7zM170.2 212.9h.7v.7h-.7zM143.7 213.2h.7v.7h-.7zM156.2 200.8h.7v.7h-.7zM154.6 212.0h.7v.7h-.7zM150.1 208.3h.7v.7h-.7zM148.6 197.5h.7v.7h-.7zM141.7 215.9h.7v.7h-.7zM153.6 196.8h.7v.7h-.7zM152.7 201.8h.7v.7h-.7zM191.4 210.7h.7v.7h-.7zM142.7 208.3h.7v.7h-.7zM146.2 206.8h.7v.7h-.7zM153.3 209.2h.7v.7h-.7zM141.1 193.5h.7v.7h-.7zM144.8 215.5h.7v.7h-.7zM166.2 195.3h.7v.7h-.7zM167.5 211.8h.7v.7h-.7zM145.2 197.0h.7v.7h-.7zM141.6 200.7h.7v.7h-.7zM187.2 213.2h.7v.7h-.7zM178.5 199.6h.7v.7h-.7zM145.5 205.6h.7v.7h-.7zM141.2 207.0h.7v.7h-.7zM150.9 201.5h.7v.7h-.7zM162.3 204.7h.7v.7h-.7zM150.6 209.6h.7v.7h-.7zM145.5 192.8h.7v.7h-.7zM149.1 201.8h.7v.7h-.7zM142.5 202.8h.7v.7h-.7zM157.7 203.7h.7v.7h-.7zM150.0 194.0h.7v.7h-.7zM156.0 209.5h.7v.7h-.7zM152.4 212.0h.7v.7h-.7zM145.1 212.7h.7v.7h-.7zM160.9 208.3h.7v.7h-.7zM150.0 212.2h.7v.7h-.7zM147.1 202.8h.7v.7h-.7zM148.4 212.5h.7v.7h-.7zM152.8 215.3h.7v.7h-.7zM147.7 207.5h.7v.7h-.7zM153.7 192.6h.7v.7h-.7zM142.3 206.8h.7v.7h-.7zM159.3 214.2h.7v.7h-.7zM142.0 200.1h.7v.7h-.7zM157.4 207.1h.7v.7h-.7zM149.1 214.6h.7v.7h-.7zM153.2 210.3h.7v.7h-.7zM141.2 207.6h.7v.7h-.7zM162.3 215.1h.7v.7h-.7zM166.0 194.5h.7v.7h-.7zM175.2 179.8h.7v.7h-.7zM147.0 200.3h.7v.7h-.7zM148.0 207.3h.7v.7h-.7zM143.0 192.5h.7v.7h-.7zM148.3 215.9h.7v.7h-.7zM191.7 204.4h.7v.7h-.7zM160.2 207.2h.7v.7h-.7zM141.1 212.3h.7v.7h-.7zM140.9 216.0h.7v.7h-.7zM160.4 201.8h.7v.7h-.7zM162.9 206.0h.7v.7h-.7zM152.7 198.7h.7v.7h-.7zM146.2 208.2h.7v.7h-.7zM148.7 187.7h.7v.7h-.7zM154.6 207.5h.7v.7h-.7zM161.2 212.2h.7v.7h-.7zM147.3 190.5h.7v.7h-.7zM166.4 185.9h.7v.7h-.7zM156.1 182.6h.7v.7h-.7zM160.5 193.4h.7v.7h-.7zM193.2 197.8h.7v.7h-.7zM155.2 189.5h.7v.7h-.7zM148.9 212.6h.7v.7h-.7zM150.5 209.5h.7v.7h-.7zM163.1 214.9h.7v.7h-.7zM147.3 211.4h.7v.7h-.7zM141.9 201.9h.7v.7h-.7zM158.7 214.1h.7v.7h-.7zM145.7 198.4h.7v.7h-.7zM147.7 211.0h.7v.7h-.7zM149.1 210.3h.7v.7h-.7zM159.4 204.1h.7v.7h-.7zM143.9 212.2h.7v.7h-.7z"/><path fill="#333" fill-opacity="0.45" clip-path="url(#cc4)" d="M175.7 188.4h.8v.8h-.8zM179.3 188.6h.8v.8h-.8zM181.0 183.3h.8v.8h-.8zM183.6 191.2h.8v.8h-.8zM178.8 185.2h.8v.8h-.8zM173.4 193.9h.8v.8h-.8zM177.5 189.7h.8v.8h-.8zM180.5 183.6h.8v.8h-.8zM176.5 192.5h.8v.8h-.8zM176.1 188.9h.8v.8h-.8zM173.4 190.3h.8v.8h-.8zM183.1 182.2h.8v.8h-.8zM174.7 187.6h.8v.8h-.8zM177.5 192.5h.8v.8h-.8zM181.6 186.2h.8v.8h-.8zM184.1 185.1h.8v.8h-.8zM177.2 182.8h.8v.8h-.8zM182.3 184.1h.8v.8h-.8zM177.3 185.1h.8v.8h-.8zM177.6 188.0h.8v.8h-.8zM178.8 191.6h.8v.8h-.8zM176.5 189.8h.8v.8h-.8zM175.3 189.3h.8v.8h-.8zM181.6 188.2h.8v.8h-.8zM179.5 189.8h.8v.8h-.8zM181.9 190.7h.8v.8h-.8zM176.6 181.4h.8v.8h-.8zM178.4 188.2h.8v.8h-.8zM171.9 191.8h.8v.8h-.8zM173.2 188.7h.8v.8h-.8zM173.9 191.9h.8v.8h-.8zM168.3 192.4h.8v.8h-.8zM174.0 182.6h.8v.8h-.8zM171.6 190.2h.8v.8h-.8zM172.5 191.8h.8v.8h-.8zM177.5 195.2h.8v.8h-.8zM179.9 182.6h.8v.8h-.8zM174.5 186.3h.8v.8h-.8zM177.9 179.7h.8v.8h-.8zM176.9 187.0h.8v.8h-.8zM175.8 188.6h.8v.8h-.8zM180.4 185.5h.8v.8h-.8zM177.4 182.3h.8v.8h-.8zM176.9 185.5h.8v.8h-.8zM169.5 186.9h.8v.8h-.8zM176.5 189.5h.8v.8h-.8zM170.3 188.9h.8v.8h-.8zM171.6 183.0h.8v.8h-.8zM180.6 189.3h.8v.8h-.8zM184.6 182.7h.8v.8h-.8zM184.1 182.7h.8v.8h-.8zM181.2 185.5h.8v.8h-.8zM179.6 181.7h.8v.8h-.8zM180.9 188.6h.8v.8h-.8zM186.5 174.7h.8v.8h-.8zM187.6 185.3h.8v.8h-.8zM188.6 177.7h.8v.8h-.8zM175.8 182.3h.8v.8h-.8zM181.2 187.5h.8v.8h-.8zM185.9 187.2h.8v.8h-.8zM178.2 186.2h.8v.8h-.8zM181.2 188.3h.8v.8h-.8zM173.7 190.8h.8v.8h-.8zM180.3 182.6h.8v.8h-.8zM173.4 181.8h.8v.8h-.8zM183.5 186.7h.8v.8h-.8zM176.2 187.4h.8v.8h-.8zM171.8 195.0h.8v.8h-.8zM177.6 183.3h.8v.8h-.8zM180.6 181.1h.8v.8h-.8zM175.2 194.5h.8v.8h-.8zM173.4 190.4h.8v.8h-.8zM176.0 187.8h.8v.8h-.8zM174.5 185.9h.8v.8h-.8zM171.8 194.4h.8v.8h-.8zM186.2 182.2h.8v.8h-.8zM180.9 182.6h.8v.8h-.8zM175.2 189.4h.8v.8h-.8zM168.6 192.0h.8v.8h-.8zM182.1 188.8h.8v.8h-.8zM184.4 178.6h.8v.8h-.8zM180.8 183.9h.8v.8h-.8zM185.7 186.3h.8v.8h-.8zM173.9 190.6h.8v.8h-.8zM175.8 183.5h.8v.8h-.8zM170.3 191.4h.8v.8h-.8zM184.8 179.1h.8v.8h-.8zM183.6 188.7h.8v.8h-.8zM170.3 196.0h.8v.8h-.8zM170.4 194.1h.8v.8h-.8zM181.4 187.2h.8v.8h-.8zM181.0 189.5h.8v.8h-.8zM175.2 187.1h.8v.8h-.8zM183.1 187.9h.8v.8h-.8zM187.4 181.4h.8v.8h-.8zM180.2 186.9h.8v.8h-.8zM166.3 189.7h.8v.8h-.8zM177.7 188.4h.8v.8h-.8zM175.6 195.2h.8v.8h-.8zM174.3 190.0h.8v.8h-.8zM183.7 190.7h.8v.8h-.8zM177.4 188.2h.8v.8h-.8zM171.8 189.5h.8v.8h-.8zM179.0 188.7h.8v.8h-.8zM175.4 191.2h.8v.8h-.8zM181.6 187.1h.8v.8h-.8zM176.6 188.0h.8v.8h-.8zM182.0 188.5h.8v.8h-.8zM175.8 187.4h.8v.8h-.8zM181.1 184.8h.8v.8h-.8zM174.9 185.5h.8v.8h-.8zM176.3 185.9h.8v.8h-.8zM176.1 190.1h.8v.8h-.8zM177.2 185.6h.8v.8h-.8zM170.2 193.4h.8v.8h-.8zM187.8 176.8h.8v.8h-.8zM175.8 190.6h.8v.8h-.8zM179.8 188.6h.8v.8h-.8zM177.6 190.8h.8v.8h-.8zM178.1 191.4h.8v.8h-.8zM179.9 186.3h.8v.8h-.8zM174.9 188.4h.8v.8h-.8zM173.1 186.0h.8v.8h-.8zM171.9 192.1h.8v.8h-.8zM172.8 189.5h.8v.8h-.8zM169.8 188.4h.8v.8h-.8zM188.1 183.8h.8v.8h-.8zM169.1 189.0h.8v.8h-.8zM174.5 192.3h.8v.8h-.8zM179.7 187.9h.8v.8h-.8zM182.9 181.5h.8v.8h-.8zM176.5 199.1h.8v.8h-.8zM172.0 193.5h.8v.8h-.8zM176.9 185.5h.8v.8h-.8zM182.7 189.7h.8v.8h-.8zM170.9 191.4h.8v.8h-.8zM168.1 191.6h.8v.8h-.8zM172.2 189.2h.8v.8h-.8zM179.5 183.4h.8v.8h-.8zM177.8 187.8h.8v.8h-.8zM181.4 185.3h.8v.8h-.8zM174.5 184.9h.8v.8h-.8zM178.5 188.3h.8v.8h-.8zM184.7 189.6h.8v.8h-.8zM176.0 186.6h.8v.8h-.8zM178.5 186.4h.8v.8h-.8zM175.8 192.4h.8v.8h-.8zM178.0 192.2h.8v.8h-.8zM178.4 184.4h.8v.8h-.8zM175.0 186.5h.8v.8h-.8zM173.0 188.4h.8v.8h-.8zM182.6 187.2h.8v.8h-.8zM181.8 187.2h.8v.8h-.8zM173.6 183.3h.8v.8h-.8zM170.7 186.2h.8v.8h-.8zM178.9 181.6h.8v.8h-.8zM184.5 174.9h.8v.8h-.8zM175.5 191.5h.8v.8h-.8zM172.4 193.9h.8v.8h-.8zM178.8 194.4h.8v.8h-.8zM175.9 192.7h.8v.8h-.8zM173.2 192.6h.8v.8h-.8zM175.7 194.4h.8v.8h-.8zM179.4 182.5h.8v.8h-.8zM178.4 181.5h.8v.8h-.8zM183.6 181.9h.8v.8h-.8zM182.6 186.5h.8v.8h-.8zM172.8 186.2h.8v.8h-.8zM183.8 185.1h.8v.8h-.8zM177.2 191.6h.8v.8h-.8zM175.5 187.9h.8v.8h-.8zM173.7 192.4h.8v.8h-.8zM182.0 182.3h.8v.8h-.8zM181.9 183.8h.8v.8h-.8zM177.7 190.9h.8v.8h-.8zM175.1 187.1h.8v.8h-.8zM180.1 189.5h.8v.8h-.8zM180.4 188.5h.8v.8h-.8zM182.9 186.1h.8v.8h-.8zM174.2 183.4h.8v.8h-.8zM175.7 182.3h.8v.8h-.8zM173.5 194.7h.8v.8h-.8zM175.5 187.6h.8v.8h-.8zM169.6 193.1h.8v.8h-.8zM183.2 179.2h.8v.8h-.8zM180.6 179.5h.8v.8h-.8zM180.0 184.2h.8v.8h-.8zM180.7 181.8h.8v.8h-.8zM184.3 178.5h.8v.8h-.8zM182.4 184.9h.8v.8h-.8zM169.4 191.3h.8v.8h-.8zM179.3 190.6h.8v.8h-.8zM164.4 192.2h.8v.8h-.8zM179.7 195.7h.8v.8h-.8zM170.3 189.6h.8v.8h-.8zM179.0 188.8h.8v.8h-.8zM181.2 187.9h.8v.8h-.8zM174.3 191.1h.8v.8h-.8zM178.2 190.1h.8v.8h-.8zM178.7 186.3h.8v.8h-.8zM173.7 184.7h.8v.8h-.8zM177.8 189.0h.8v.8h-.8zM170.9 199.1h.8v.8h-.8zM175.0 188.2h.8v.8h-.8zM177.5 181.1h.8v.8h-.8zM177.6 185.4h.8v.8h-.8zM172.8 193.9h.8v.8h-.8zM177.4 189.2h.8v.8h-.8zM181.1 188.8h.8v.8h-.8zM175.2 192.5h.8v.8h-.8zM181.4 186.0h.8v.8h-.8zM170.7 186.7h.8v.8h-.8zM181.0 193.3h.8v.8h-.8zM177.5 188.1h.8v.8h-.8zM188.1 180.7h.8v.8h-.8zM175.9 188.1h.8v.8h-.8zM175.3 189.5h.8v.8h-.8zM180.7 185.0h.8v.8h-.8zM179.1 192.6h.8v.8h-.8zM181.6 189.9h.8v.8h-.8zM170.4 197.5h.8v.8h-.8zM182.9 190.4h.8v.8h-.8zM177.0 186.9h.8v.8h-.8zM173.9 193.6h.8v.8h-.8zM182.1 181.5h.8v.8h-.8zM179.5 191.1h.8v.8h-.8zM177.1 188.4h.8v.8h-.8zM174.7 194.6h.8v.8h-.8zM175.0 197.3h.8v.8h-.8zM171.5 185.7h.8v.8h-.8zM176.3 197.8h.8v.8h-.8zM180.3 186.4h.8v.8h-.8zM180.5 183.6h.8v.8h-.8zM171.5 186.2h.8v.8h-.8zM171.0 193.2h.8v.8h-.8zM171.7 184.5h.8v.8h-.8zM173.9 191.9h.8v.8h-.8zM178.1 186.6h.8v.8h-.8zM182.2 190.6h.8v.8h-.8zM175.5 188.6h.8v.8h-.8zM180.3 189.5h.8v.8h-.8zM184.2 186.0h.8v.8h-.8zM188.5 185.2h.8v.8h-.8zM175.3 189.1h.8v.8h-.8zM182.1 186.4h.8v.8h-.8zM173.9 185.5h.8v.8h-.8zM171.5 189.5h.8v.8h-.8zM182.2 182.1h.8v.8h-.8zM179.3 186.1h.8v.8h-.8zM175.9 184.7h.8v.8h-.8zM178.4 185.4h.8v.8h-.8zM178.6 189.7h.8v.8h-.8zM172.9 190.8h.8v.8h-.8zM184.3 180.5h.8v.8h-.8zM179.5 182.4h.8v.8h-.8zM181.6 189.4h.8v.8h-.8zM185.1 187.5h.8v.8h-.8zM183.2 183.1h.8v.8h-.8zM176.8 188.2h.8v.8h-.8zM183.4 188.7h.8v.8h-.8z"/><g clip-path="url(#cc4)"><ellipse cx="157.95" cy="210.8" rx="16.3" ry="14.8" fill="#999" opacity="0.3" filter="url(#b2)"/><ellipse cx="157.95" cy="210.8" rx="13.8" ry="12.3" fill="#999999" stroke="#1a1a1a" stroke-width="3.0" filter="url(#b05)"/><ellipse cx="160.6" cy="207.0" rx="10.5" ry="8.3" fill="#f6f6f6" stroke="#888" stroke-width="0.7" filter="url(#b05)"/><ellipse cx="160.6" cy="207.0" rx="7.6" ry="5.7" fill="#333" stroke="#1a1a1a" stroke-width="0.9" filter="url(#b05)"/></g><polygon points="183.0,166.5 200.9,179.4 193.1,191.8 177.6,202.2 159.0,190.3 166.0,173.2" fill="none" stroke="#777" stroke-width="0.8"/><rect x="140.0" y="144.5" width="76.8" height="71.9" fill="none" stroke="#9a9a9a" stroke-width="1.4"/><rect x="140.0" y="162.4" width="35.5" height="4.6" fill="#fff" stroke="#ccc" stroke-width="0.4" fill-opacity="0.7"/><text x="140.4" y="166.0" font-size="4.45" text-anchor="start" fill="#333">CD107a+CD154+</text><text x="179.38" y="163.10" font-size="12.97" fill="#000">0.95%</text><clipPath id="cc5"><rect x="140.0" y="217.3" width="76.8" height="72.30000000000001"/></clipPath><path fill="#666" fill-opacity="0.35" clip-path="url(#cc5)" d="M148.7 276.8h.7v.7h-.7zM152.5 287.3h.7v.7h-.7zM165.0 277.0h.7v.7h-.7zM151.0 279.3h.7v.7h-.7zM180.4 275.2h.7v.7h-.7zM151.1 285.8h.7v.7h-.7zM193.2 280.5h.7v.7h-.7zM140.2 283.9h.7v.7h-.7zM144.1 286.1h.7v.7h-.7zM164.3 275.0h.7v.7h-.7zM144.6 258.3h.7v.7h-.7zM146.9 270.5h.7v.7h-.7zM159.3 283.8h.7v.7h-.7zM163.1 254.2h.7v.7h-.7zM153.7 277.9h.7v.7h-.7zM144.0 267.9h.7v.7h-.7zM152.4 266.4h.7v.7h-.7zM176.3 284.1h.7v.7h-.7zM148.7 259.4h.7v.7h-.7zM143.1 266.4h.7v.7h-.7zM145.2 288.1h.7v.7h-.7zM151.4 280.6h.7v.7h-.7zM181.7 268.8h.7v.7h-.7zM169.3 277.7h.7v.7h-.7zM148.9 272.2h.7v.7h-.7zM149.7 280.6h.7v.7h-.7zM165.7 280.9h.7v.7h-.7zM160.8 272.0h.7v.7h-.7zM143.7 283.1h.7v.7h-.7zM140.1 274.6h.7v.7h-.7zM145.6 278.0h.7v.7h-.7zM156.7 286.6h.7v.7h-.7zM150.7 286.8h.7v.7h-.7zM148.3 286.5h.7v.7h-.7zM148.3 268.6h.7v.7h-.7zM146.9 287.7h.7v.7h-.7zM152.8 259.2h.7v.7h-.7zM143.8 284.9h.7v.7h-.7zM165.3 288.3h.7v.7h-.7zM143.7 273.0h.7v.7h-.7zM156.4 272.7h.7v.7h-.7zM140.8 274.1h.7v.7h-.7zM150.6 285.9h.7v.7h-.7zM157.5 279.1h.7v.7h-.7zM143.0 266.0h.7v.7h-.7zM149.9 268.5h.7v.7h-.7zM163.4 282.5h.7v.7h-.7zM141.7 281.3h.7v.7h-.7zM149.6 283.4h.7v.7h-.7zM149.4 288.7h.7v.7h-.7zM163.8 278.7h.7v.7h-.7zM141.9 280.4h.7v.7h-.7zM149.3 267.9h.7v.7h-.7zM153.6 273.7h.7v.7h-.7zM164.4 280.7h.7v.7h-.7zM142.1 256.5h.7v.7h-.7zM140.8 289.0h.7v.7h-.7zM142.5 288.1h.7v.7h-.7zM161.3 286.4h.7v.7h-.7zM158.1 289.0h.7v.7h-.7zM171.0 287.8h.7v.7h-.7zM164.5 271.6h.7v.7h-.7zM142.2 271.5h.7v.7h-.7zM151.9 280.3h.7v.7h-.7zM181.7 284.8h.7v.7h-.7zM147.7 270.2h.7v.7h-.7zM157.5 270.6h.7v.7h-.7zM140.1 285.0h.7v.7h-.7zM177.2 277.5h.7v.7h-.7zM141.3 286.5h.7v.7h-.7zM144.9 278.5h.7v.7h-.7zM172.8 273.7h.7v.7h-.7zM179.4 277.1h.7v.7h-.7zM180.0 282.7h.7v.7h-.7zM156.7 283.0h.7v.7h-.7zM154.3 259.1h.7v.7h-.7zM165.6 278.4h.7v.7h-.7zM149.5 282.0h.7v.7h-.7zM140.8 271.8h.7v.7h-.7zM144.0 267.5h.7v.7h-.7zM154.9 266.2h.7v.7h-.7zM148.4 283.6h.7v.7h-.7zM156.2 274.5h.7v.7h-.7zM140.9 266.4h.7v.7h-.7zM144.3 272.5h.7v.7h-.7zM171.1 283.5h.7v.7h-.7zM151.6 289.5h.7v.7h-.7zM169.1 286.6h.7v.7h-.7zM147.7 275.5h.7v.7h-.7zM166.4 257.5h.7v.7h-.7zM145.2 284.8h.7v.7h-.7zM160.0 284.9h.7v.7h-.7zM140.6 278.5h.7v.7h-.7zM153.0 286.7h.7v.7h-.7zM157.3 285.8h.7v.7h-.7zM154.5 280.5h.7v.7h-.7zM165.4 262.8h.7v.7h-.7zM163.8 265.2h.7v.7h-.7zM167.9 274.6h.7v.7h-.7zM179.0 262.4h.7v.7h-.7zM149.8 276.4h.7v.7h-.7zM143.2 263.4h.7v.7h-.7zM142.1 257.0h.7v.7h-.7zM147.9 283.6h.7v.7h-.7zM140.5 266.6h.7v.7h-.7zM156.3 265.8h.7v.7h-.7zM143.9 280.3h.7v.7h-.7zM146.4 280.2h.7v.7h-.7zM149.1 277.8h.7v.7h-.7zM176.7 288.2h.7v.7h-.7zM153.6 279.7h.7v.7h-.7zM141.2 288.9h.7v.7h-.7zM150.3 278.2h.7v.7h-.7zM148.3 268.9h.7v.7h-.7zM162.1 277.1h.7v.7h-.7zM150.5 287.9h.7v.7h-.7zM159.6 262.3h.7v.7h-.7zM145.0 278.4h.7v.7h-.7zM151.3 275.2h.7v.7h-.7zM153.6 288.5h.7v.7h-.7zM148.2 269.0h.7v.7h-.7zM152.5 282.5h.7v.7h-.7zM155.6 272.4h.7v.7h-.7zM142.1 258.3h.7v.7h-.7zM141.0 280.4h.7v.7h-.7zM167.2 260.0h.7v.7h-.7zM170.0 288.3h.7v.7h-.7zM149.4 261.1h.7v.7h-.7zM169.8 288.1h.7v.7h-.7zM165.1 281.8h.7v.7h-.7zM147.1 284.4h.7v.7h-.7zM152.6 289.5h.7v.7h-.7zM149.1 251.2h.7v.7h-.7zM145.6 267.8h.7v.7h-.7zM143.5 284.5h.7v.7h-.7zM146.5 283.4h.7v.7h-.7zM151.1 289.3h.7v.7h-.7zM159.8 253.8h.7v.7h-.7zM160.8 286.2h.7v.7h-.7zM162.6 271.4h.7v.7h-.7zM164.8 283.7h.7v.7h-.7zM141.8 268.8h.7v.7h-.7zM145.7 268.0h.7v.7h-.7zM186.7 288.4h.7v.7h-.7zM149.8 276.8h.7v.7h-.7zM140.3 278.3h.7v.7h-.7zM166.2 278.7h.7v.7h-.7zM153.6 279.7h.7v.7h-.7zM146.3 264.5h.7v.7h-.7zM158.0 270.0h.7v.7h-.7zM154.5 283.4h.7v.7h-.7zM147.5 273.7h.7v.7h-.7zM146.4 284.0h.7v.7h-.7zM162.9 283.9h.7v.7h-.7zM142.8 286.9h.7v.7h-.7zM151.0 270.5h.7v.7h-.7zM152.7 276.3h.7v.7h-.7zM142.5 283.8h.7v.7h-.7zM150.4 279.0h.7v.7h-.7zM169.7 270.0h.7v.7h-.7zM158.0 276.6h.7v.7h-.7zM155.7 279.3h.7v.7h-.7zM168.8 280.8h.7v.7h-.7zM165.4 269.5h.7v.7h-.7zM151.6 262.6h.7v.7h-.7zM160.7 285.2h.7v.7h-.7zM153.2 256.8h.7v.7h-.7zM161.7 271.8h.7v.7h-.7zM141.6 267.8h.7v.7h-.7zM141.9 285.7h.7v.7h-.7zM168.9 272.2h.7v.7h-.7zM158.3 273.6h.7v.7h-.7zM177.6 279.5h.7v.7h-.7zM156.1 285.1h.7v.7h-.7zM188.9 270.9h.7v.7h-.7zM154.7 267.4h.7v.7h-.7zM157.3 284.5h.7v.7h-.7zM154.7 277.9h.7v.7h-.7zM155.2 289.6h.7v.7h-.7zM161.3 283.5h.7v.7h-.7zM146.4 270.7h.7v.7h-.7zM144.4 284.3h.7v.7h-.7zM153.9 288.5h.7v.7h-.7zM156.6 283.4h.7v.7h-.7zM152.5 288.4h.7v.7h-.7zM150.2 286.6h.7v.7h-.7zM160.2 272.7h.7v.7h-.7zM154.4 281.0h.7v.7h-.7zM148.7 271.1h.7v.7h-.7zM140.1 285.8h.7v.7h-.7zM141.6 266.9h.7v.7h-.7zM160.2 270.9h.7v.7h-.7zM141.9 267.6h.7v.7h-.7zM173.0 287.5h.7v.7h-.7zM159.0 277.0h.7v.7h-.7zM148.9 279.0h.7v.7h-.7zM155.9 279.5h.7v.7h-.7zM193.0 274.5h.7v.7h-.7zM165.4 272.2h.7v.7h-.7zM147.6 287.8h.7v.7h-.7zM147.3 288.8h.7v.7h-.7zM171.0 262.8h.7v.7h-.7zM186.4 289.2h.7v.7h-.7zM144.7 285.0h.7v.7h-.7zM142.6 266.7h.7v.7h-.7zM160.7 269.0h.7v.7h-.7zM143.6 275.9h.7v.7h-.7zM155.7 273.4h.7v.7h-.7zM152.1 275.0h.7v.7h-.7zM158.7 248.6h.7v.7h-.7zM153.7 272.1h.7v.7h-.7zM142.5 256.2h.7v.7h-.7zM160.7 279.0h.7v.7h-.7zM162.3 268.1h.7v.7h-.7zM162.9 288.6h.7v.7h-.7zM145.4 275.9h.7v.7h-.7zM176.3 280.7h.7v.7h-.7zM152.0 286.0h.7v.7h-.7zM174.2 276.8h.7v.7h-.7zM153.0 276.1h.7v.7h-.7zM154.5 289.5h.7v.7h-.7zM153.4 276.5h.7v.7h-.7zM150.3 283.2h.7v.7h-.7zM152.3 282.0h.7v.7h-.7zM155.3 266.3h.7v.7h-.7zM161.3 281.5h.7v.7h-.7zM154.2 282.6h.7v.7h-.7zM166.9 279.4h.7v.7h-.7zM142.9 285.9h.7v.7h-.7zM157.2 285.6h.7v.7h-.7zM145.3 278.9h.7v.7h-.7zM142.1 285.8h.7v.7h-.7zM144.1 268.4h.7v.7h-.7zM147.6 259.5h.7v.7h-.7zM162.5 266.4h.7v.7h-.7zM143.2 286.8h.7v.7h-.7zM144.1 266.1h.7v.7h-.7zM165.5 282.8h.7v.7h-.7zM145.7 260.6h.7v.7h-.7zM152.4 269.3h.7v.7h-.7zM149.2 265.7h.7v.7h-.7zM159.1 279.9h.7v.7h-.7zM160.1 270.9h.7v.7h-.7zM143.7 282.1h.7v.7h-.7zM151.6 274.9h.7v.7h-.7zM161.2 285.1h.7v.7h-.7zM149.5 259.3h.7v.7h-.7zM145.9 274.0h.7v.7h-.7zM145.3 285.7h.7v.7h-.7zM160.8 289.2h.7v.7h-.7zM179.4 253.5h.7v.7h-.7zM175.5 270.3h.7v.7h-.7zM151.0 277.8h.7v.7h-.7zM141.9 286.2h.7v.7h-.7zM164.7 286.0h.7v.7h-.7zM151.8 276.4h.7v.7h-.7zM147.4 265.1h.7v.7h-.7zM146.6 284.7h.7v.7h-.7zM140.6 284.2h.7v.7h-.7zM180.6 275.3h.7v.7h-.7z"/><g clip-path="url(#cc5)"><ellipse cx="159.7" cy="283.8" rx="16.1" ry="14.8" fill="#999" opacity="0.3" filter="url(#b2)"/><ellipse cx="159.7" cy="283.8" rx="13.6" ry="12.3" fill="#999999" stroke="#1a1a1a" stroke-width="3.0" filter="url(#b05)"/><ellipse cx="161.8" cy="280.1" rx="10.3" ry="8.3" fill="#f6f6f6" stroke="#888" stroke-width="0.7" filter="url(#b05)"/><ellipse cx="161.8" cy="280.1" rx="7.4" ry="5.7" fill="#333" stroke="#1a1a1a" stroke-width="0.9" filter="url(#b05)"/></g><polygon points="182.7,238.8 200.2,252.8 192.0,263.2 176.9,274.9 159.4,266.0 167.6,244.6" fill="none" stroke="#777" stroke-width="0.8"/><rect x="140.0" y="217.3" width="76.8" height="72.30000000000001" fill="none" stroke="#9a9a9a" stroke-width="1.4"/><rect x="140.2" y="233.8" width="35.5" height="4.6" fill="#fff" stroke="#ccc" stroke-width="0.4" fill-opacity="0.7"/><text x="140.6" y="237.4" font-size="4.45" text-anchor="start" fill="#333">CD107a+CD154+</text><text x="185.78" y="237.70" font-size="12.98" fill="#000">0.4%</text><clipPath id="cc6"><rect x="140.0" y="290.4" width="76.8" height="72.10000000000002"/></clipPath><path fill="#666" fill-opacity="0.35" clip-path="url(#cc6)" d="M149.5 356.2h.7v.7h-.7zM151.7 357.4h.7v.7h-.7zM156.2 355.4h.7v.7h-.7zM144.9 341.3h.7v.7h-.7zM141.6 357.3h.7v.7h-.7zM148.2 358.8h.7v.7h-.7zM156.9 361.7h.7v.7h-.7zM142.2 358.5h.7v.7h-.7zM155.4 360.7h.7v.7h-.7zM142.9 344.1h.7v.7h-.7zM151.3 353.4h.7v.7h-.7zM194.1 360.8h.7v.7h-.7zM140.6 359.9h.7v.7h-.7zM153.0 344.6h.7v.7h-.7zM142.1 348.6h.7v.7h-.7zM160.6 340.9h.7v.7h-.7zM148.4 361.7h.7v.7h-.7zM159.0 358.9h.7v.7h-.7zM146.5 329.0h.7v.7h-.7zM183.5 361.6h.7v.7h-.7zM165.0 334.3h.7v.7h-.7zM170.8 347.6h.7v.7h-.7zM145.5 357.2h.7v.7h-.7zM141.4 341.8h.7v.7h-.7zM179.9 350.8h.7v.7h-.7zM155.6 352.9h.7v.7h-.7zM148.3 352.8h.7v.7h-.7zM153.3 336.6h.7v.7h-.7zM142.4 342.0h.7v.7h-.7zM172.4 359.3h.7v.7h-.7zM153.6 360.5h.7v.7h-.7zM154.1 354.6h.7v.7h-.7zM146.4 357.0h.7v.7h-.7zM145.9 359.4h.7v.7h-.7zM140.2 352.6h.7v.7h-.7zM148.3 359.8h.7v.7h-.7zM160.8 323.1h.7v.7h-.7zM149.2 349.1h.7v.7h-.7zM176.1 354.1h.7v.7h-.7zM146.6 360.5h.7v.7h-.7zM166.3 335.6h.7v.7h-.7zM150.3 342.0h.7v.7h-.7zM143.0 318.2h.7v.7h-.7zM158.8 337.2h.7v.7h-.7zM149.6 354.2h.7v.7h-.7zM141.0 338.1h.7v.7h-.7zM151.3 357.7h.7v.7h-.7zM167.0 351.0h.7v.7h-.7zM140.9 344.9h.7v.7h-.7zM147.0 352.0h.7v.7h-.7zM156.4 327.2h.7v.7h-.7zM141.0 338.7h.7v.7h-.7zM149.8 361.3h.7v.7h-.7zM146.6 355.7h.7v.7h-.7zM149.2 349.1h.7v.7h-.7zM154.2 358.7h.7v.7h-.7zM155.2 358.9h.7v.7h-.7zM152.0 348.4h.7v.7h-.7zM148.2 342.8h.7v.7h-.7zM162.4 330.2h.7v.7h-.7zM148.3 359.5h.7v.7h-.7zM146.7 347.9h.7v.7h-.7zM151.1 357.5h.7v.7h-.7zM143.1 337.2h.7v.7h-.7zM171.5 335.1h.7v.7h-.7zM143.3 354.4h.7v.7h-.7zM157.3 357.7h.7v.7h-.7zM146.4 346.7h.7v.7h-.7zM144.0 358.7h.7v.7h-.7zM160.3 345.5h.7v.7h-.7zM164.6 348.7h.7v.7h-.7zM156.4 360.7h.7v.7h-.7zM141.3 351.9h.7v.7h-.7zM167.9 343.6h.7v.7h-.7zM160.6 360.4h.7v.7h-.7zM176.4 346.0h.7v.7h-.7zM154.9 350.0h.7v.7h-.7zM166.5 360.5h.7v.7h-.7zM151.7 330.6h.7v.7h-.7zM154.6 351.7h.7v.7h-.7zM151.0 362.1h.7v.7h-.7zM156.9 342.4h.7v.7h-.7zM151.0 348.5h.7v.7h-.7zM176.5 362.1h.7v.7h-.7zM145.6 337.4h.7v.7h-.7zM173.2 351.0h.7v.7h-.7zM148.9 332.3h.7v.7h-.7zM146.9 349.4h.7v.7h-.7zM149.7 359.1h.7v.7h-.7zM149.0 347.2h.7v.7h-.7zM154.5 338.7h.7v.7h-.7zM171.4 351.0h.7v.7h-.7zM150.9 343.0h.7v.7h-.7zM161.4 350.9h.7v.7h-.7zM153.8 358.0h.7v.7h-.7zM156.3 352.5h.7v.7h-.7zM140.6 344.9h.7v.7h-.7zM175.6 345.4h.7v.7h-.7zM158.8 318.3h.7v.7h-.7zM148.5 356.2h.7v.7h-.7zM140.2 361.3h.7v.7h-.7zM143.9 352.9h.7v.7h-.7zM145.9 350.9h.7v.7h-.7zM153.4 359.5h.7v.7h-.7zM155.8 354.5h.7v.7h-.7zM154.3 350.0h.7v.7h-.7zM141.9 353.5h.7v.7h-.7zM153.5 341.5h.7v.7h-.7zM158.6 346.3h.7v.7h-.7zM172.5 327.7h.7v.7h-.7zM150.3 359.7h.7v.7h-.7zM144.1 347.5h.7v.7h-.7zM185.1 358.3h.7v.7h-.7zM144.0 356.8h.7v.7h-.7zM158.8 356.2h.7v.7h-.7zM155.4 343.1h.7v.7h-.7zM178.2 348.1h.7v.7h-.7zM142.3 358.3h.7v.7h-.7zM151.9 345.4h.7v.7h-.7zM143.3 324.5h.7v.7h-.7zM155.4 329.4h.7v.7h-.7zM158.0 351.3h.7v.7h-.7zM154.0 359.6h.7v.7h-.7zM165.9 353.1h.7v.7h-.7zM145.3 354.3h.7v.7h-.7zM142.6 338.4h.7v.7h-.7zM140.5 337.5h.7v.7h-.7zM150.0 336.3h.7v.7h-.7zM140.4 351.5h.7v.7h-.7zM140.6 332.1h.7v.7h-.7zM151.9 350.7h.7v.7h-.7zM156.6 349.1h.7v.7h-.7zM169.3 353.1h.7v.7h-.7zM144.4 357.9h.7v.7h-.7zM165.0 349.7h.7v.7h-.7zM158.2 342.9h.7v.7h-.7zM144.3 350.7h.7v.7h-.7zM143.2 347.7h.7v.7h-.7zM160.0 356.1h.7v.7h-.7zM150.9 350.7h.7v.7h-.7zM143.8 351.5h.7v.7h-.7zM149.2 361.1h.7v.7h-.7zM158.9 362.0h.7v.7h-.7zM147.2 355.5h.7v.7h-.7zM173.7 355.3h.7v.7h-.7zM147.8 344.8h.7v.7h-.7zM158.7 333.5h.7v.7h-.7zM153.9 358.6h.7v.7h-.7zM142.2 354.3h.7v.7h-.7zM143.5 350.5h.7v.7h-.7zM151.4 351.7h.7v.7h-.7zM146.6 348.0h.7v.7h-.7zM171.1 357.6h.7v.7h-.7zM154.8 332.1h.7v.7h-.7zM167.0 341.1h.7v.7h-.7zM153.5 346.4h.7v.7h-.7zM147.5 348.6h.7v.7h-.7zM152.6 341.6h.7v.7h-.7zM141.9 340.7h.7v.7h-.7zM151.5 359.4h.7v.7h-.7zM144.7 353.8h.7v.7h-.7zM150.9 349.4h.7v.7h-.7zM170.9 356.1h.7v.7h-.7zM160.8 351.4h.7v.7h-.7zM167.8 353.1h.7v.7h-.7zM150.9 342.1h.7v.7h-.7zM140.7 360.4h.7v.7h-.7zM152.5 361.7h.7v.7h-.7zM141.0 354.3h.7v.7h-.7zM164.3 328.7h.7v.7h-.7zM155.2 334.0h.7v.7h-.7zM143.5 348.4h.7v.7h-.7zM162.0 358.9h.7v.7h-.7zM145.7 360.4h.7v.7h-.7zM158.3 359.5h.7v.7h-.7zM155.3 330.5h.7v.7h-.7zM156.2 352.2h.7v.7h-.7zM148.8 353.3h.7v.7h-.7zM158.8 354.6h.7v.7h-.7zM144.0 350.2h.7v.7h-.7zM162.1 351.6h.7v.7h-.7zM146.8 352.0h.7v.7h-.7zM145.7 360.5h.7v.7h-.7zM148.8 352.7h.7v.7h-.7zM152.7 338.4h.7v.7h-.7zM159.7 349.7h.7v.7h-.7zM153.4 328.0h.7v.7h-.7zM140.8 349.6h.7v.7h-.7zM158.6 351.0h.7v.7h-.7zM155.4 358.6h.7v.7h-.7zM153.3 355.2h.7v.7h-.7zM161.1 318.9h.7v.7h-.7zM154.0 354.9h.7v.7h-.7zM156.6 342.9h.7v.7h-.7zM151.5 354.7h.7v.7h-.7zM159.4 354.7h.7v.7h-.7zM158.4 352.6h.7v.7h-.7zM148.9 356.1h.7v.7h-.7zM176.3 357.9h.7v.7h-.7zM140.6 355.4h.7v.7h-.7zM144.5 360.7h.7v.7h-.7zM182.4 361.6h.7v.7h-.7zM151.9 345.4h.7v.7h-.7zM150.7 361.6h.7v.7h-.7zM148.4 343.8h.7v.7h-.7zM170.3 347.9h.7v.7h-.7zM161.2 347.4h.7v.7h-.7zM166.6 358.4h.7v.7h-.7zM174.4 333.3h.7v.7h-.7zM192.6 355.1h.7v.7h-.7zM151.1 342.4h.7v.7h-.7zM146.7 339.1h.7v.7h-.7zM193.8 360.3h.7v.7h-.7zM152.6 354.5h.7v.7h-.7zM141.0 334.4h.7v.7h-.7zM166.1 342.5h.7v.7h-.7zM154.4 359.5h.7v.7h-.7zM144.3 340.6h.7v.7h-.7zM140.4 344.7h.7v.7h-.7zM147.2 355.8h.7v.7h-.7zM146.5 360.5h.7v.7h-.7zM156.7 358.0h.7v.7h-.7zM158.1 359.8h.7v.7h-.7zM163.8 350.6h.7v.7h-.7zM160.8 351.5h.7v.7h-.7zM152.8 357.1h.7v.7h-.7zM144.3 343.9h.7v.7h-.7zM160.9 359.5h.7v.7h-.7zM142.5 360.9h.7v.7h-.7zM151.0 356.9h.7v.7h-.7zM154.9 362.0h.7v.7h-.7zM151.5 352.2h.7v.7h-.7zM148.9 358.2h.7v.7h-.7zM156.3 335.5h.7v.7h-.7zM153.0 360.3h.7v.7h-.7zM154.4 359.7h.7v.7h-.7zM147.2 355.5h.7v.7h-.7zM142.6 362.3h.7v.7h-.7zM156.2 338.0h.7v.7h-.7zM140.3 343.1h.7v.7h-.7zM163.8 346.8h.7v.7h-.7zM145.9 352.6h.7v.7h-.7zM149.9 345.9h.7v.7h-.7zM154.8 357.8h.7v.7h-.7zM155.2 361.8h.7v.7h-.7zM152.6 331.1h.7v.7h-.7zM146.9 352.4h.7v.7h-.7zM147.1 341.3h.7v.7h-.7zM140.3 359.7h.7v.7h-.7zM157.8 340.0h.7v.7h-.7zM148.0 350.5h.7v.7h-.7zM173.7 345.7h.7v.7h-.7zM146.2 360.2h.7v.7h-.7zM171.7 356.4h.7v.7h-.7zM160.1 349.8h.7v.7h-.7zM186.8 335.4h.7v.7h-.7zM141.4 359.8h.7v.7h-.7zM140.4 361.4h.7v.7h-.7zM164.6 348.6h.7v.7h-.7zM148.0 349.8h.7v.7h-.7z"/><g clip-path="url(#cc6)"><ellipse cx="158.7" cy="356.8" rx="16.1" ry="14.8" fill="#999" opacity="0.3" filter="url(#b2)"/><ellipse cx="158.7" cy="356.8" rx="13.6" ry="12.3" fill="#999999" stroke="#1a1a1a" stroke-width="3.0" filter="url(#b05)"/><ellipse cx="160.6" cy="352.0" rx="10.5" ry="7.6" fill="#f6f6f6" stroke="#888" stroke-width="0.7" filter="url(#b05)"/><ellipse cx="160.6" cy="352.0" rx="7.6" ry="5.0" fill="#333" stroke="#1a1a1a" stroke-width="0.9" filter="url(#b05)"/></g><polygon points="183.1,311.9 200.7,325.5 192.8,336.0 177.1,347.7 160.1,338.6 167.5,319.0" fill="none" stroke="#777" stroke-width="0.8"/><rect x="140.0" y="290.4" width="76.8" height="72.10000000000002" fill="none" stroke="#9a9a9a" stroke-width="1.4"/><rect x="140.2" y="308.4" width="35.5" height="4.6" fill="#fff" stroke="#ccc" stroke-width="0.4" fill-opacity="0.7"/><text x="140.6" y="312.0" font-size="4.45" text-anchor="start" fill="#333">CD107a+CD154+</text><text x="186.48" y="312.50" font-size="13.02" fill="#000">0.3%</text><text x="107.76" y="183.50" font-size="12.85" fill="#000">cells</text><text x="111.27" y="253.70" font-size="13.71" fill="#000">SN</text><text x="112.53" y="328.60" font-size="13.53" fill="#000">ctrl.</text><line x1="19.3" y1="366.8" x2="19.3" y2="147.8" stroke="#000" stroke-width="2.0"/><polygon points="19.3,144.0 17.0,148.3 21.6,148.3" fill="#000" stroke="none" stroke-width="1"/><line x1="24.2" y1="371.0" x2="214.0" y2="371.0" stroke="#000" stroke-width="2.0"/><polygon points="217.8,371.0 213.5,368.7 213.5,373.3" fill="#000" stroke="none" stroke-width="1"/><text transform="translate(12.40 356.95) rotate(-90)" font-size="13.02" fill="#000">CD107a</text><text x="33.27" y="384.50" font-size="12.70" fill="#000">CD154</text><text x="236.33" y="137.80" font-size="14.66" font-weight="bold" fill="#000">D</text><text x="309.55" y="142.40" font-size="13.06" font-weight="bold" fill="#000">CD40 activated B cells</text><text x="355.25" y="265.90" font-size="12.95" font-weight="bold" fill="#000">PBMC</text><rect x="251.7" y="145.7" width="121.40000000000003" height="100.60000000000002" fill="none" stroke="#d0d0d0" stroke-width="1.6"/><text x="312.4" y="155.4" font-size="5.6" font-weight="bold" text-anchor="middle" fill="#000" stroke="#000" stroke-width="0.15">CD154 (CD4+)</text><line x1="271.7" y1="159.4" x2="271.7" y2="234.4" stroke="#999" stroke-width="0.7"/><line x1="271.7" y1="234.4" x2="370.7" y2="234.4" stroke="#999" stroke-width="0.7"/><line x1="270.2" y1="234.4" x2="271.7" y2="234.4" stroke="#999" stroke-width="0.6"/><text x="269.0" y="235.912" font-size="4.2" font-weight="bold" text-anchor="end" fill="#444" stroke="#444" stroke-width="0.15">0</text><line x1="270.2" y1="219.4" x2="271.7" y2="219.4" stroke="#999" stroke-width="0.6"/><text x="269.0" y="220.912" font-size="4.2" font-weight="bold" text-anchor="end" fill="#444" stroke="#444" stroke-width="0.15">5</text><line x1="270.2" y1="204.4" x2="271.7" y2="204.4" stroke="#999" stroke-width="0.6"/><text x="269.0" y="205.912" font-size="4.2" font-weight="bold" text-anchor="end" fill="#444" stroke="#444" stroke-width="0.15">10</text><line x1="270.2" y1="189.4" x2="271.7" y2="189.4" stroke="#999" stroke-width="0.6"/><text x="269.0" y="190.912" font-size="4.2" font-weight="bold" text-anchor="end" fill="#444" stroke="#444" stroke-width="0.15">15</text><line x1="270.2" y1="174.4" x2="271.7" y2="174.4" stroke="#999" stroke-width="0.6"/><text x="269.0" y="175.912" font-size="4.2" font-weight="bold" text-anchor="end" fill="#444" stroke="#444" stroke-width="0.15">20</text><line x1="270.2" y1="159.4" x2="271.7" y2="159.4" stroke="#999" stroke-width="0.6"/><text x="269.0" y="160.912" font-size="4.2" font-weight="bold" text-anchor="end" fill="#444" stroke="#444" stroke-width="0.15">25</text><line x1="292.6" y1="187.0" x2="292.6" y2="204.4" stroke="#222" stroke-width="1.0"/><line x1="291.3" y1="187.0" x2="293.90000000000003" y2="187.0" stroke="#222" stroke-width="1.0"/><rect x="283.9" y="204.4" width="17.400000000000034" height="30.0" fill="#858585" stroke="#333" stroke-width="0.8"/><line x1="320.95000000000005" y1="227.20000000000002" x2="320.95000000000005" y2="228.4" stroke="#222" stroke-width="1.0"/><line x1="319.65000000000003" y1="227.20000000000002" x2="322.25000000000006" y2="227.20000000000002" stroke="#222" stroke-width="1.0"/><rect x="312.1" y="228.4" width="17.69999999999999" height="6.0" fill="#858585" stroke="#333" stroke-width="0.8"/><line x1="349.5" y1="230.65" x2="349.5" y2="231.4" stroke="#222" stroke-width="1.0"/><line x1="348.2" y1="230.65" x2="350.8" y2="230.65" stroke="#222" stroke-width="1.0"/><rect x="340.7" y="231.4" width="17.600000000000023" height="3.0" fill="#858585" stroke="#333" stroke-width="0.8"/><text x="292.1" y="242.6" font-size="4.8" font-weight="bold" text-anchor="middle" fill="#000" stroke="#000" stroke-width="0.15">CD40B</text><text x="321.2" y="242.6" font-size="4.8" font-weight="bold" text-anchor="middle" fill="#000" stroke="#000" stroke-width="0.15">SN</text><text x="350.0" y="242.6" font-size="4.8" font-weight="bold" text-anchor="middle" fill="#000" stroke="#000" stroke-width="0.15">Ctrl.</text><text x="259.9" y="196.9" font-size="5.0" font-weight="bold" text-anchor="middle" fill="#000" transform="rotate(-90 259.9 196.9)" stroke="#000" stroke-width="0.2">CD154+ T cells (%)</text><rect x="379.9" y="145.7" width="121.0" height="100.60000000000002" fill="none" stroke="#d0d0d0" stroke-width="1.6"/><text x="440.6" y="155.4" font-size="6.0" font-weight="bold" text-anchor="middle" fill="#000" stroke="#000" stroke-width="0.15">CD107a (CD4+)</text><line x1="397.6" y1="162.4" x2="397.6" y2="236.2" stroke="#999" stroke-width="0.7"/><line x1="397.6" y1="236.2" x2="495.9" y2="236.2" stroke="#999" stroke-width="0.7"/><line x1="396.1" y1="236.2" x2="397.6" y2="236.2" stroke="#999" stroke-width="0.6"/><text x="394.3" y="237.712" font-size="4.2" font-weight="bold" text-anchor="end" fill="#444" stroke="#444" stroke-width="0.15">0</text><line x1="396.1" y1="221.44" x2="397.6" y2="221.44" stroke="#999" stroke-width="0.6"/><text x="394.3" y="222.952" font-size="4.2" font-weight="bold" text-anchor="end" fill="#444" stroke="#444" stroke-width="0.15">5</text><line x1="396.1" y1="206.68" x2="397.6" y2="206.68" stroke="#999" stroke-width="0.6"/><text x="394.3" y="208.192" font-size="4.2" font-weight="bold" text-anchor="end" fill="#444" stroke="#444" stroke-width="0.15">10</text><line x1="396.1" y1="191.92" x2="397.6" y2="191.92" stroke="#999" stroke-width="0.6"/><text x="394.3" y="193.432" font-size="4.2" font-weight="bold" text-anchor="end" fill="#444" stroke="#444" stroke-width="0.15">15</text><line x1="396.1" y1="177.16" x2="397.6" y2="177.16" stroke="#999" stroke-width="0.6"/><text x="394.3" y="178.672" font-size="4.2" font-weight="bold" text-anchor="end" fill="#444" stroke="#444" stroke-width="0.15">20</text><line x1="396.1" y1="162.4" x2="397.6" y2="162.4" stroke="#999" stroke-width="0.6"/><text x="394.3" y="163.912" font-size="4.2" font-weight="bold" text-anchor="end" fill="#444" stroke="#444" stroke-width="0.15">25</text><line x1="418.4" y1="177.7504" x2="418.4" y2="194.87199999999999" stroke="#222" stroke-width="1.0"/><line x1="417.09999999999997" y1="177.7504" x2="419.7" y2="177.7504" stroke="#222" stroke-width="1.0"/><rect x="410.0" y="194.87199999999999" width="16.80000000000001" height="41.328" fill="#000" stroke="#000" stroke-width="0.8"/><line x1="446.7" y1="231.772" x2="446.7" y2="232.36239999999998" stroke="#222" stroke-width="1.0"/><line x1="445.4" y1="231.772" x2="448.0" y2="231.772" stroke="#222" stroke-width="1.0"/><rect x="437.9" y="232.36239999999998" width="17.600000000000023" height="3.837600000000009" fill="#000" stroke="#000" stroke-width="0.8"/><line x1="475.1" y1="232.6576" x2="475.1" y2="233.248" stroke="#222" stroke-width="1.0"/><line x1="473.8" y1="232.6576" x2="476.40000000000003" y2="232.6576" stroke="#222" stroke-width="1.0"/><rect x="466.4" y="233.248" width="17.400000000000034" height="2.951999999999998" fill="#000" stroke="#000" stroke-width="0.8"/><text x="419.0" y="243.3" font-size="4.5" font-weight="bold" text-anchor="middle" fill="#000" stroke="#000" stroke-width="0.15">CD40B</text><text x="446.1" y="243.3" font-size="4.5" font-weight="bold" text-anchor="middle" fill="#000" stroke="#000" stroke-width="0.15">SN</text><text x="474.6" y="243.3" font-size="4.5" font-weight="bold" text-anchor="middle" fill="#000" stroke="#000" stroke-width="0.15">Ctrl.</text><text x="385.8" y="199.3" font-size="5.07" font-weight="bold" text-anchor="middle" fill="#000" transform="rotate(-90 385.8 199.3)" stroke="#000" stroke-width="0.2">CD107a + T cells (%)</text><rect x="251.6" y="269.6" width="121.1" height="103.09999999999997" fill="none" stroke="#d0d0d0" stroke-width="1.6"/><text x="312.6" y="277.4" font-size="4.8" font-weight="bold" text-anchor="middle" fill="#000" stroke="#000" stroke-width="0.15">CD154 (CD4+)</text><line x1="275.2" y1="288.2" x2="275.2" y2="358.7" stroke="#999" stroke-width="0.7"/><line x1="275.2" y1="358.7" x2="370.8" y2="358.7" stroke="#999" stroke-width="0.7"/><line x1="273.7" y1="358.7" x2="275.2" y2="358.7" stroke="#999" stroke-width="0.6"/><text x="271.7" y="360.32" font-size="4.5" font-weight="bold" text-anchor="end" fill="#444" stroke="#444" stroke-width="0.15">0</text><line x1="273.7" y1="350.8666666666667" x2="275.2" y2="350.8666666666667" stroke="#999" stroke-width="0.6"/><text x="271.7" y="352.4866666666667" font-size="4.5" font-weight="bold" text-anchor="end" fill="#444" stroke="#444" stroke-width="0.15">0,1</text><line x1="273.7" y1="343.0333333333333" x2="275.2" y2="343.0333333333333" stroke="#999" stroke-width="0.6"/><text x="271.7" y="344.6533333333333" font-size="4.5" font-weight="bold" text-anchor="end" fill="#444" stroke="#444" stroke-width="0.15">0,2</text><line x1="273.7" y1="335.2" x2="275.2" y2="335.2" stroke="#999" stroke-width="0.6"/><text x="271.7" y="336.82" font-size="4.5" font-weight="bold" text-anchor="end" fill="#444" stroke="#444" stroke-width="0.15">0,3</text><line x1="273.7" y1="327.3666666666667" x2="275.2" y2="327.3666666666667" stroke="#999" stroke-width="0.6"/><text x="271.7" y="328.9866666666667" font-size="4.5" font-weight="bold" text-anchor="end" fill="#444" stroke="#444" stroke-width="0.15">0,4</text><line x1="273.7" y1="319.5333333333333" x2="275.2" y2="319.5333333333333" stroke="#999" stroke-width="0.6"/><text x="271.7" y="321.1533333333333" font-size="4.5" font-weight="bold" text-anchor="end" fill="#444" stroke="#444" stroke-width="0.15">0,5</text><line x1="273.7" y1="311.7" x2="275.2" y2="311.7" stroke="#999" stroke-width="0.6"/><text x="271.7" y="313.32" font-size="4.5" font-weight="bold" text-anchor="end" fill="#444" stroke="#444" stroke-width="0.15">0,6</text><line x1="273.7" y1="303.8666666666667" x2="275.2" y2="303.8666666666667" stroke="#999" stroke-width="0.6"/><text x="271.7" y="305.4866666666667" font-size="4.5" font-weight="bold" text-anchor="end" fill="#444" stroke="#444" stroke-width="0.15">0,7</text><line x1="273.7" y1="296.0333333333333" x2="275.2" y2="296.0333333333333" stroke="#999" stroke-width="0.6"/><text x="271.7" y="297.6533333333333" font-size="4.5" font-weight="bold" text-anchor="end" fill="#444" stroke="#444" stroke-width="0.15">0,8</text><line x1="273.7" y1="288.2" x2="275.2" y2="288.2" stroke="#999" stroke-width="0.6"/><text x="271.7" y="289.82" font-size="4.5" font-weight="bold" text-anchor="end" fill="#444" stroke="#444" stroke-width="0.15">0,9</text><line x1="291.3" y1="297.59999999999997" x2="291.3" y2="311.7" stroke="#222" stroke-width="1.0"/><line x1="290.0" y1="297.59999999999997" x2="292.6" y2="297.59999999999997" stroke="#222" stroke-width="1.0"/><rect x="285.0" y="311.7" width="12.600000000000023" height="47.0" fill="#858585" stroke="#333" stroke-width="0.8"/><line x1="323.05" y1="307.0" x2="323.05" y2="314.8333333333333" stroke="#222" stroke-width="1.0"/><line x1="321.75" y1="307.0" x2="324.35" y2="307.0" stroke="#222" stroke-width="1.0"/><rect x="316.3" y="314.8333333333333" width="13.5" height="43.866666666666674" fill="#858585" stroke="#333" stroke-width="0.8"/><line x1="354.55" y1="322.275" x2="354.55" y2="327.3666666666667" stroke="#222" stroke-width="1.0"/><line x1="353.25" y1="322.275" x2="355.85" y2="322.275" stroke="#222" stroke-width="1.0"/><rect x="348.5" y="327.3666666666667" width="12.100000000000023" height="31.333333333333314" fill="#858585" stroke="#333" stroke-width="0.8"/><text x="291.6" y="367.3" font-size="4.6" font-weight="bold" text-anchor="middle" fill="#000" stroke="#000" stroke-width="0.15">PBMC</text><text x="322.9" y="367.3" font-size="4.6" font-weight="bold" text-anchor="middle" fill="#000" stroke="#000" stroke-width="0.15">PBMC SN</text><text x="354.3" y="367.3" font-size="4.6" font-weight="bold" text-anchor="middle" fill="#000" stroke="#000" stroke-width="0.15">Ctrl.</text><text x="261.3" y="323.5" font-size="5.42" font-weight="bold" text-anchor="middle" fill="#000" transform="rotate(-90 261.3 323.5)" stroke="#000" stroke-width="0.2">CD154+ T cells (%)</text><rect x="379.9" y="269.6" width="121.20000000000005" height="103.39999999999998" fill="none" stroke="#d0d0d0" stroke-width="1.6"/><text x="440.5" y="278.2" font-size="4.9" font-weight="bold" text-anchor="middle" fill="#000" stroke="#000" stroke-width="0.15">CD107a (CD4+)</text><line x1="398.6" y1="292.9" x2="398.6" y2="362.3" stroke="#999" stroke-width="0.7"/><line x1="398.6" y1="362.3" x2="495.5" y2="362.3" stroke="#999" stroke-width="0.7"/><line x1="397.1" y1="362.3" x2="398.6" y2="362.3" stroke="#999" stroke-width="0.6"/><text x="395.5" y="363.812" font-size="4.2" font-weight="bold" text-anchor="end" fill="#444" stroke="#444" stroke-width="0.15">0</text><line x1="397.1" y1="354.5888888888889" x2="398.6" y2="354.5888888888889" stroke="#999" stroke-width="0.6"/><text x="395.5" y="356.1008888888889" font-size="4.2" font-weight="bold" text-anchor="end" fill="#444" stroke="#444" stroke-width="0.15">0,2</text><line x1="397.1" y1="346.8777777777778" x2="398.6" y2="346.8777777777778" stroke="#999" stroke-width="0.6"/><text x="395.5" y="348.3897777777778" font-size="4.2" font-weight="bold" text-anchor="end" fill="#444" stroke="#444" stroke-width="0.15">0,4</text><line x1="397.1" y1="339.1666666666667" x2="398.6" y2="339.1666666666667" stroke="#999" stroke-width="0.6"/><text x="395.5" y="340.6786666666667" font-size="4.2" font-weight="bold" text-anchor="end" fill="#444" stroke="#444" stroke-width="0.15">0,6</text><line x1="397.1" y1="331.4555555555556" x2="398.6" y2="331.4555555555556" stroke="#999" stroke-width="0.6"/><text x="395.5" y="332.9675555555556" font-size="4.2" font-weight="bold" text-anchor="end" fill="#444" stroke="#444" stroke-width="0.15">0,8</text><line x1="397.1" y1="323.7444444444444" x2="398.6" y2="323.7444444444444" stroke="#999" stroke-width="0.6"/><text x="395.5" y="325.2564444444444" font-size="4.2" font-weight="bold" text-anchor="end" fill="#444" stroke="#444" stroke-width="0.15">1</text><line x1="397.1" y1="316.0333333333333" x2="398.6" y2="316.0333333333333" stroke="#999" stroke-width="0.6"/><text x="395.5" y="317.5453333333333" font-size="4.2" font-weight="bold" text-anchor="end" fill="#444" stroke="#444" stroke-width="0.15">1,2</text><line x1="397.1" y1="308.3222222222222" x2="398.6" y2="308.3222222222222" stroke="#999" stroke-width="0.6"/><text x="395.5" y="309.8342222222222" font-size="4.2" font-weight="bold" text-anchor="end" fill="#444" stroke="#444" stroke-width="0.15">1,4</text><line x1="397.1" y1="300.6111111111111" x2="398.6" y2="300.6111111111111" stroke="#999" stroke-width="0.6"/><text x="395.5" y="302.1231111111111" font-size="4.2" font-weight="bold" text-anchor="end" fill="#444" stroke="#444" stroke-width="0.15">1,6</text><line x1="397.1" y1="292.9" x2="398.6" y2="292.9" stroke="#999" stroke-width="0.6"/><text x="395.5" y="294.412" font-size="4.2" font-weight="bold" text-anchor="end" fill="#444" stroke="#444" stroke-width="0.15">1,8</text><line x1="415.0" y1="297.1411111111111" x2="415.0" y2="309.0933333333333" stroke="#222" stroke-width="1.0"/><line x1="413.7" y1="297.1411111111111" x2="416.3" y2="297.1411111111111" stroke="#222" stroke-width="1.0"/><rect x="408.3" y="309.0933333333333" width="13.399999999999977" height="53.206666666666706" fill="#000" stroke="#000" stroke-width="0.8"/><line x1="446.95000000000005" y1="318.3466666666667" x2="446.95000000000005" y2="325.28666666666663" stroke="#222" stroke-width="1.0"/><line x1="445.65000000000003" y1="318.3466666666667" x2="448.25000000000006" y2="318.3466666666667" stroke="#222" stroke-width="1.0"/><rect x="440.6" y="325.28666666666663" width="12.699999999999989" height="37.01333333333338" fill="#000" stroke="#000" stroke-width="0.8"/><line x1="478.85" y1="320.27444444444444" x2="478.85" y2="326.82888888888886" stroke="#222" stroke-width="1.0"/><line x1="477.55" y1="320.27444444444444" x2="480.15000000000003" y2="320.27444444444444" stroke="#222" stroke-width="1.0"/><rect x="472.2" y="326.82888888888886" width="13.300000000000011" height="35.471111111111156" fill="#000" stroke="#000" stroke-width="0.8"/><text x="414.5" y="370.2" font-size="4.35" font-weight="bold" text-anchor="middle" fill="#000" stroke="#000" stroke-width="0.15">PBMC</text><text x="447.5" y="370.2" font-size="4.35" font-weight="bold" text-anchor="middle" fill="#000" stroke="#000" stroke-width="0.15">PBMC SN</text><text x="479.0" y="370.2" font-size="4.35" font-weight="bold" text-anchor="middle" fill="#000" stroke="#000" stroke-width="0.15">Ctrl.</text><text x="386.4" y="327.5" font-size="5.02" font-weight="bold" text-anchor="middle" fill="#000" transform="rotate(-90 386.4 327.5)" stroke="#000" stroke-width="0.2">CD107a + T cells (%)</text>
</g></svg></body></html>
